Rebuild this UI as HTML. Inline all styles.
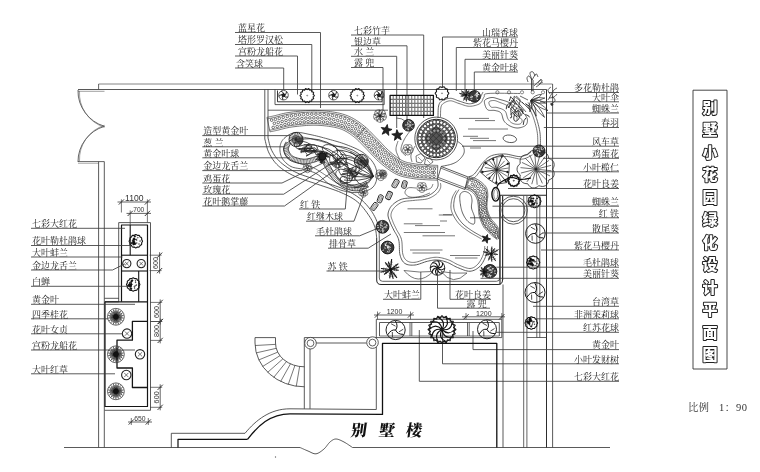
<!DOCTYPE html>
<html><head><meta charset="utf-8"><title>别墅小花园绿化设计平面图</title>
<style>html,body{margin:0;padding:0;background:#fff}svg{display:block;will-change:transform;filter:grayscale(1)}text{white-space:pre}</style></head>
<body><svg width="760" height="472" viewBox="0 0 760 472" stroke-linecap="butt" stroke-linejoin="round">
<rect width="760" height="472" fill="#fff"/>
<line x1="98.6" y1="84" x2="552.6" y2="84" stroke="#777" stroke-width="0.9"/>
<line x1="98.6" y1="84" x2="98.6" y2="89.5" stroke="#3c3c3c" stroke-width="0.8"/>
<line x1="78" y1="89.5" x2="546.5" y2="89.5" stroke="#444" stroke-width="0.9"/>
<line x1="78" y1="91.3" x2="104.5" y2="91.3" stroke="#777" stroke-width="0.7"/>
<path d="M78 90 A37 37 0 0 0 104.5 126.3" fill="none" stroke="#3c3c3c" stroke-width="0.8"/>
<path d="M79.5 91 A36 36 0 0 0 104.5 127.3" fill="none" stroke="#666" stroke-width="0.6"/>
<path d="M78 162 A37 37 0 0 1 104.5 126.3" fill="none" stroke="#3c3c3c" stroke-width="0.8"/>
<path d="M79.5 161 A36 36 0 0 1 104.5 125.3" fill="none" stroke="#666" stroke-width="0.6"/>
<line x1="78" y1="161.6" x2="104.3" y2="161.6" stroke="#3c3c3c" stroke-width="0.8"/>
<line x1="78" y1="163.3" x2="98.6" y2="163.3" stroke="#777" stroke-width="0.6"/>
<line x1="98.6" y1="161.6" x2="98.6" y2="447.5" stroke="#3c3c3c" stroke-width="0.85"/>
<line x1="104.3" y1="161.6" x2="104.3" y2="447.5" stroke="#3c3c3c" stroke-width="0.85"/>
<path d="M64 447.5 L300 447.5" fill="none" stroke="#3c3c3c" stroke-width="0.85"/>
<path d="M300 447.5 L300.62 447.77 L301.44 448.15 L302.41 448.59 L303.5 449.07 L304.65 449.58 L305.81 450.09 L306.95 450.57 L308 451 L309 451.44 L310 451.93 L311 452.44 L312 452.92 L313 453.34 L314 453.65 L315 453.82 L316 453.8 L317.01 453.58 L318.05 453.19 L319.09 452.65 L320.12 452.01 L321.15 451.3 L322.14 450.53 L323.1 449.76 L324 449 L324.85 448.2 L325.64 447.31 L326.4 446.36 L327.12 445.39 L327.84 444.43 L328.55 443.52 L329.26 442.7 L330 442 L330.74 441.39 L331.45 440.83 L332.16 440.32 L332.88 439.88 L333.6 439.51 L334.36 439.23 L335.15 439.06 L336 439 L336.9 439.07 L337.85 439.27 L338.83 439.58 L339.84 439.97 L340.88 440.43 L341.92 440.93 L342.96 441.46 L344 442 L345.1 442.61 L346.29 443.33 L347.52 444.12 L348.75 444.94 L349.91 445.73 L350.96 446.45 L351.84 447.06 L352.5 447.5" fill="none" stroke="#3c3c3c" stroke-width="0.85"/>
<line x1="352.5" y1="447.5" x2="610" y2="447.5" stroke="#3c3c3c" stroke-width="0.85"/>
<circle cx="275.5" cy="457" r="0.4" fill="#555" stroke="#555" stroke-width="0.5"/>
<text x="238" y="31.3" font-size="9" text-anchor="start" font-family='"Liberation Serif","Noto Serif CJK SC",serif' fill="#222" font-weight="400" >蓝星花</text>
<line x1="235" y1="32.5" x2="320.5" y2="32.5" stroke="#3c3c3c" stroke-width="0.85"/>
<line x1="320.5" y1="32.5" x2="320.5" y2="108" stroke="#3c3c3c" stroke-width="0.85"/>
<text x="238" y="43.3" font-size="9" text-anchor="start" font-family='"Liberation Serif","Noto Serif CJK SC",serif' fill="#222" font-weight="400" >塔形罗汉松</text>
<line x1="235" y1="44.5" x2="311.8" y2="44.5" stroke="#3c3c3c" stroke-width="0.85"/>
<line x1="311.8" y1="44.5" x2="311.8" y2="92" stroke="#3c3c3c" stroke-width="0.85"/>
<text x="238" y="54.8" font-size="9" text-anchor="start" font-family='"Liberation Serif","Noto Serif CJK SC",serif' fill="#222" font-weight="400" >宫粉龙船花</text>
<line x1="235" y1="56" x2="297.5" y2="56" stroke="#3c3c3c" stroke-width="0.85"/>
<line x1="297.5" y1="56" x2="297.5" y2="94.5" stroke="#3c3c3c" stroke-width="0.85"/>
<text x="236" y="66.8" font-size="9" text-anchor="start" font-family='"Liberation Serif","Noto Serif CJK SC",serif' fill="#222" font-weight="400" >含笑球</text>
<line x1="235" y1="68" x2="283.7" y2="68" stroke="#3c3c3c" stroke-width="0.85"/>
<line x1="283.7" y1="68" x2="283.7" y2="90" stroke="#3c3c3c" stroke-width="0.85"/>
<text x="354" y="33.8" font-size="9" text-anchor="start" font-family='"Liberation Serif","Noto Serif CJK SC",serif' fill="#222" font-weight="400" >七彩竹芋</text>
<line x1="351" y1="35" x2="423.7" y2="35" stroke="#3c3c3c" stroke-width="0.85"/>
<line x1="423.7" y1="35" x2="423.7" y2="118" stroke="#3c3c3c" stroke-width="0.85"/>
<text x="354" y="44.6" font-size="9" text-anchor="start" font-family='"Liberation Serif","Noto Serif CJK SC",serif' fill="#222" font-weight="400" >银边草</text>
<line x1="351" y1="45.8" x2="407" y2="45.8" stroke="#3c3c3c" stroke-width="0.85"/>
<line x1="407" y1="45.8" x2="407" y2="120" stroke="#3c3c3c" stroke-width="0.85"/>
<text x="354" y="55.1" font-size="9" text-anchor="start" font-family='"Liberation Serif","Noto Serif CJK SC",serif' fill="#222" font-weight="400" >水 兰</text>
<line x1="351" y1="56.3" x2="396.7" y2="56.3" stroke="#3c3c3c" stroke-width="0.85"/>
<line x1="396.7" y1="56.3" x2="396.7" y2="128" stroke="#3c3c3c" stroke-width="0.85"/>
<text x="354" y="66.3" font-size="9" text-anchor="start" font-family='"Liberation Serif","Noto Serif CJK SC",serif' fill="#222" font-weight="400" >露 兜</text>
<line x1="351" y1="67.5" x2="383" y2="67.5" stroke="#3c3c3c" stroke-width="0.85"/>
<line x1="383" y1="67.5" x2="383" y2="110" stroke="#3c3c3c" stroke-width="0.85"/>
<text x="518" y="35.8" font-size="9" text-anchor="end" font-family='"Liberation Serif","Noto Serif CJK SC",serif' fill="#222" font-weight="400" >山瑞香球</text>
<line x1="442.5" y1="37" x2="518" y2="37" stroke="#3c3c3c" stroke-width="0.85"/>
<line x1="442.5" y1="37" x2="442.5" y2="87" stroke="#3c3c3c" stroke-width="0.85"/>
<text x="518" y="46.3" font-size="9" text-anchor="end" font-family='"Liberation Serif","Noto Serif CJK SC",serif' fill="#222" font-weight="400" >紫花马樱丹</text>
<line x1="456.3" y1="47.5" x2="518" y2="47.5" stroke="#3c3c3c" stroke-width="0.85"/>
<line x1="456.3" y1="47.5" x2="456.3" y2="91" stroke="#3c3c3c" stroke-width="0.85"/>
<text x="518" y="58.1" font-size="9" text-anchor="end" font-family='"Liberation Serif","Noto Serif CJK SC",serif' fill="#222" font-weight="400" >美丽针葵</text>
<line x1="465" y1="59.3" x2="518" y2="59.3" stroke="#3c3c3c" stroke-width="0.85"/>
<line x1="465" y1="59.3" x2="465" y2="95" stroke="#3c3c3c" stroke-width="0.85"/>
<text x="518" y="70.8" font-size="9" text-anchor="end" font-family='"Liberation Serif","Noto Serif CJK SC",serif' fill="#222" font-weight="400" >黄金叶球</text>
<line x1="474.3" y1="72" x2="518" y2="72" stroke="#3c3c3c" stroke-width="0.85"/>
<line x1="474.3" y1="72" x2="474.3" y2="95" stroke="#3c3c3c" stroke-width="0.85"/>
<line x1="264.8" y1="89.5" x2="264.8" y2="139" stroke="#3c3c3c" stroke-width="0.85"/>
<line x1="268" y1="89.5" x2="268" y2="138" stroke="#3c3c3c" stroke-width="0.85"/>
<path d="M264.8 139 L265.09 140.09 L265.44 141.54 L265.84 143.28 L266.32 145.2 L266.87 147.22 L267.49 149.26 L268.2 151.21 L269 153 L269.87 154.67 L270.8 156.34 L271.81 157.99 L272.89 159.62 L274.08 161.23 L275.36 162.8 L276.77 164.32 L278.3 165.8 L279.95 167.23 L281.72 168.62 L283.59 169.97 L285.58 171.29 L287.67 172.57 L289.87 173.81 L292.18 175.02 L294.6 176.2 L297.18 177.33 L299.93 178.4 L302.82 179.44 L305.81 180.44 L308.85 181.42 L311.91 182.4 L314.94 183.39 L317.9 184.4 L320.86 185.42 L323.89 186.42 L326.95 187.43 L329.99 188.43 L332.98 189.44 L335.87 190.47 L338.62 191.52 L341.2 192.6 L343.6 193.68 L345.88 194.74 L348.03 195.8 L350.08 196.89 L352.04 198.03 L353.92 199.23 L355.74 200.51 L357.5 201.9 L359.21 203.43 L360.86 205.1 L362.44 206.87 L363.95 208.7 L365.37 210.55 L366.71 212.37 L367.95 214.14 L369.1 215.8 L370.14 217.38 L371.07 218.91 L371.91 220.4 L372.67 221.86 L373.35 223.3 L373.95 224.71 L374.5 226.11 L375 227.5 L375.43 228.94 L375.76 230.46 L376.02 231.99 L376.22 233.48 L376.37 234.88 L376.49 236.14 L376.6 237.2 L376.7 238" fill="none" stroke="#3c3c3c" stroke-width="0.85"/>
<path d="M268 138 L268.26 138.98 L268.57 140.29 L268.93 141.84 L269.35 143.57 L269.84 145.39 L270.41 147.22 L271.06 148.98 L271.8 150.6 L272.61 152.11 L273.47 153.62 L274.4 155.11 L275.42 156.58 L276.53 158.04 L277.76 159.48 L279.11 160.9 L280.6 162.3 L282.23 163.69 L283.98 165.07 L285.86 166.43 L287.84 167.78 L289.95 169.09 L292.16 170.37 L294.48 171.61 L296.9 172.8 L299.48 173.93 L302.23 174.99 L305.12 176.01 L308.11 177 L311.15 177.97 L314.21 178.93 L317.24 179.9 L320.2 180.9 L323.16 181.9 L326.19 182.89 L329.25 183.88 L332.29 184.87 L335.28 185.87 L338.17 186.88 L340.92 187.93 L343.5 189 L345.9 190.09 L348.18 191.18 L350.33 192.28 L352.38 193.41 L354.33 194.57 L356.21 195.78 L358.03 197.05 L359.8 198.4 L361.52 199.83 L363.17 201.33 L364.74 202.9 L366.25 204.51 L367.68 206.16 L369.03 207.84 L370.31 209.52 L371.5 211.2 L372.62 212.9 L373.66 214.64 L374.62 216.41 L375.51 218.2 L376.32 219.99 L377.04 221.76 L377.66 223.5 L378.2 225.2 L378.61 226.94 L378.89 228.78 L379.07 230.65 L379.17 232.47 L379.21 234.19 L379.23 235.73 L379.25 237.02 L379.3 238" fill="none" stroke="#3c3c3c" stroke-width="0.85"/>
<path d="M376.7 238 L376.7 280 Q376.7 284.5 381 284.5 L498 284.5 Q502.5 284.5 502.5 280 L502.5 196" fill="none" stroke="#222" stroke-width="1.0"/>
<path d="M379.3 238 L379.3 278 Q379.3 281.3 382.5 281.3 L496.5 281.3 Q499.8 281.3 499.8 278 L499.8 196" fill="none" stroke="#3c3c3c" stroke-width="0.8"/>
<line x1="546.5" y1="89.5" x2="546.5" y2="447.5" stroke="#222" stroke-width="0.95"/>
<line x1="552.6" y1="84" x2="552.6" y2="447.5" stroke="#3c3c3c" stroke-width="0.85"/>
<path d="M275 89.5 L275 104.6 L384.2 104.6 L384.2 89.5" fill="none" stroke="#3c3c3c" stroke-width="0.85"/>
<path d="M277.5 90.5 L277.5 101.8 L382 101.8 L382 90.5" fill="none" stroke="#222" stroke-width="0.9"/>
<line x1="268" y1="110.2" x2="388" y2="110.2" stroke="#3c3c3c" stroke-width="0.8"/>
<circle cx="283.5" cy="95.2" r="4.8" fill="none" stroke="#3c3c3c" stroke-width="0.8"/>
<path d="M283.5 95.2 Q284.27 97.98 287.92 97.07" fill="none" stroke="#111" stroke-width="0.9"/>
<path d="M283.5 95.2 Q281.1 96.79 283.09 99.98" fill="none" stroke="#111" stroke-width="0.9"/>
<path d="M283.5 95.2 Q281.25 93.41 278.82 96.29" fill="none" stroke="#111" stroke-width="0.9"/>
<path d="M283.5 95.2 Q284.51 92.5 281.02 91.09" fill="none" stroke="#111" stroke-width="0.9"/>
<path d="M283.5 95.2 Q286.38 95.32 286.64 91.57" fill="none" stroke="#111" stroke-width="0.9"/>
<circle cx="283.5" cy="95.2" r="1.68" fill="#222" stroke="#111" stroke-width="0.5"/>
<path d="M314.39 95.6 L313.76 96.34 L313.06 96.94 L313.43 97.78 L313.68 98.72 L312.79 99.11 L311.9 99.34 L311.87 100.27 L311.69 101.22 L310.71 101.19 L309.81 101.01 L309.38 101.83 L308.8 102.61 L307.94 102.16 L307.2 101.61 L306.46 102.16 L305.6 102.61 L305.02 101.83 L304.59 101.01 L303.69 101.19 L302.71 101.22 L302.53 100.27 L302.5 99.34 L301.61 99.11 L300.72 98.72 L300.97 97.78 L301.34 96.94 L300.64 96.34 L300.01 95.6 L300.64 94.86 L301.34 94.26 L300.97 93.42 L300.72 92.48 L301.61 92.09 L302.5 91.86 L302.53 90.93 L302.71 89.98 L303.69 90.01 L304.59 90.19 L305.02 89.37 L305.6 88.59 L306.46 89.04 L307.2 89.59 L307.94 89.04 L308.8 88.59 L309.38 89.37 L309.81 90.19 L310.71 90.01 L311.69 89.98 L311.87 90.93 L311.9 91.86 L312.79 92.09 L313.68 92.48 L313.43 93.42 L313.06 94.26 L313.76 94.86 Z" fill="none" stroke="#1a1a1a" stroke-width="1.1"/>
<circle cx="307.2" cy="95.6" r="0.5" fill="none" stroke="#333" stroke-width="0.5"/>
<circle cx="333.5" cy="95.2" r="4.8" fill="none" stroke="#3c3c3c" stroke-width="0.8"/>
<path d="M333.5 95.2 Q334.27 97.98 337.92 97.07" fill="none" stroke="#111" stroke-width="0.9"/>
<path d="M333.5 95.2 Q331.1 96.79 333.09 99.98" fill="none" stroke="#111" stroke-width="0.9"/>
<path d="M333.5 95.2 Q331.25 93.41 328.82 96.29" fill="none" stroke="#111" stroke-width="0.9"/>
<path d="M333.5 95.2 Q334.51 92.5 331.02 91.09" fill="none" stroke="#111" stroke-width="0.9"/>
<path d="M333.5 95.2 Q336.38 95.32 336.64 91.57" fill="none" stroke="#111" stroke-width="0.9"/>
<circle cx="333.5" cy="95.2" r="1.68" fill="#222" stroke="#111" stroke-width="0.5"/>
<path d="M364.49 95.6 L363.86 96.34 L363.16 96.94 L363.53 97.78 L363.78 98.72 L362.89 99.11 L362 99.34 L361.97 100.27 L361.79 101.22 L360.81 101.19 L359.91 101.01 L359.48 101.83 L358.9 102.61 L358.04 102.16 L357.3 101.61 L356.56 102.16 L355.7 102.61 L355.12 101.83 L354.69 101.01 L353.79 101.19 L352.81 101.22 L352.63 100.27 L352.6 99.34 L351.71 99.11 L350.82 98.72 L351.07 97.78 L351.44 96.94 L350.74 96.34 L350.11 95.6 L350.74 94.86 L351.44 94.26 L351.07 93.42 L350.82 92.48 L351.71 92.09 L352.6 91.86 L352.63 90.93 L352.81 89.98 L353.79 90.01 L354.69 90.19 L355.12 89.37 L355.7 88.59 L356.56 89.04 L357.3 89.59 L358.04 89.04 L358.9 88.59 L359.48 89.37 L359.91 90.19 L360.81 90.01 L361.79 89.98 L361.97 90.93 L362 91.86 L362.89 92.09 L363.78 92.48 L363.53 93.42 L363.16 94.26 L363.86 94.86 Z" fill="none" stroke="#1a1a1a" stroke-width="1.1"/>
<circle cx="357.3" cy="95.6" r="0.5" fill="none" stroke="#333" stroke-width="0.5"/>
<circle cx="379" cy="95.2" r="4.8" fill="none" stroke="#3c3c3c" stroke-width="0.8"/>
<path d="M379 95.2 Q379.77 97.98 383.42 97.07" fill="none" stroke="#111" stroke-width="0.9"/>
<path d="M379 95.2 Q376.6 96.79 378.59 99.98" fill="none" stroke="#111" stroke-width="0.9"/>
<path d="M379 95.2 Q376.75 93.41 374.32 96.29" fill="none" stroke="#111" stroke-width="0.9"/>
<path d="M379 95.2 Q380.01 92.5 376.52 91.09" fill="none" stroke="#111" stroke-width="0.9"/>
<path d="M379 95.2 Q381.88 95.32 382.14 91.57" fill="none" stroke="#111" stroke-width="0.9"/>
<circle cx="379" cy="95.2" r="1.68" fill="#222" stroke="#111" stroke-width="0.5"/>
<path d="M269.7 130.28 L270.11 130.19 L270.6 130.09 L271.17 129.97 L271.83 129.83 L272.57 129.68 L273.37 129.51 L274.25 129.32 L275.19 129.12 L276.2 128.9 L277.3 128.65 L278.5 128.37 L279.72 128.05 L280.95 127.72 L282.2 127.38 L283.48 127.04 L284.8 126.71 L286.19 126.39 L287.64 126.08 L289.17 125.8 L290.83 125.54 L292.71 125.29 L294.78 125.02 L296.99 124.76 L299.3 124.5 L301.67 124.27 L304.06 124.06 L306.43 123.88 L308.75 123.74 L310.96 123.64 L313.05 123.6 L315.06 123.61 L317.08 123.66 L319.09 123.75 L321.08 123.88 L323.04 124.04 L324.95 124.24 L326.82 124.45 L328.63 124.69 L330.37 124.95 L332.03 125.22 L333.58 125.5 L335.03 125.78 L336.38 126.08 L337.65 126.39 L338.86 126.72 L340.01 127.07 L341.14 127.45 L342.27 127.88 L343.4 128.34 L344.55 128.85 L345.68 129.41 L346.81 130.01 L347.93 130.65 L349.05 131.34 L350.18 132.08 L351.31 132.85 L352.44 133.66 L353.57 134.52 L354.71 135.4 L355.83 136.29 L356.9 137.18 L357.92 138.09 L358.95 139.05 L359.99 140.06 L361.05 141.12 L362.13 142.22 L363.25 143.38 L364.41 144.58 L365.63 145.82 L366.88 147.08 L368.12 148.34 L369.39 149.67 L370.71 151.07 L372.07 152.53 L373.47 154.02 L374.91 155.54 L376.39 157.05 L377.9 158.54 L379.45 160 L381 161.38 L382.51 162.67 L384.03 163.93 L385.58 165.18 L387.16 166.42 L388.76 167.62 L390.39 168.79 L392.05 169.9 L393.73 170.95 L395.44 171.93 L397.2 172.83 L398.99 173.63 L400.79 174.3 L402.56 174.87 L404.29 175.33 L405.98 175.72 L407.61 176.04 L409.19 176.32 L410.71 176.56 L412.15 176.79 L413.59 177.03 L415.12 177.26 L416.69 177.46 L418.24 177.62 L419.75 177.74 L421.22 177.84 L422.64 177.93 L424 178 L425.29 178.06 L426.5 178.12 L427.65 178.19 L428.83 178.26 L430.02 178.32 L431.19 178.38 L432.32 178.43 L433.39 178.47 L434.38 178.5 L435.29 178.53 L436.08 178.55 L436.75 178.58 L437.28 178.6" fill="none" stroke="#3c3c3c" stroke-width="0.7"/>
<path d="M267.3 118.92 L267.73 118.84 L268.23 118.73 L268.81 118.61 L269.46 118.47 L270.18 118.32 L270.97 118.16 L271.82 117.98 L272.73 117.78 L273.71 117.57 L274.7 117.35 L275.7 117.11 L276.76 116.84 L277.92 116.52 L279.2 116.18 L280.58 115.81 L282.08 115.43 L283.68 115.06 L285.4 114.7 L287.24 114.36 L289.17 114.06 L291.19 113.78 L293.36 113.51 L295.67 113.23 L298.09 112.97 L300.58 112.72 L303.11 112.5 L305.64 112.3 L308.15 112.15 L310.6 112.05 L312.95 112 L315.24 112.01 L317.5 112.07 L319.73 112.17 L321.93 112.31 L324.09 112.49 L326.2 112.7 L328.25 112.94 L330.23 113.2 L332.14 113.48 L333.97 113.78 L335.72 114.09 L337.39 114.42 L338.99 114.77 L340.56 115.16 L342.08 115.57 L343.58 116.03 L345.05 116.53 L346.52 117.08 L347.98 117.68 L349.45 118.35 L350.95 119.07 L352.42 119.85 L353.85 120.68 L355.26 121.54 L356.63 122.44 L357.98 123.36 L359.3 124.32 L360.6 125.29 L361.88 126.28 L363.17 127.31 L364.46 128.39 L365.73 129.51 L366.95 130.65 L368.13 131.8 L369.29 132.96 L370.44 134.13 L371.58 135.3 L372.73 136.49 L373.89 137.68 L375.12 138.92 L376.44 140.26 L377.8 141.68 L379.17 143.13 L380.53 144.6 L381.9 146.05 L383.27 147.48 L384.62 148.87 L385.96 150.2 L387.28 151.45 L388.6 152.62 L389.98 153.79 L391.39 154.96 L392.8 156.11 L394.21 157.21 L395.61 158.26 L397 159.25 L398.36 160.17 L399.69 161 L400.98 161.74 L402.2 162.37 L403.39 162.89 L404.58 163.34 L405.82 163.73 L407.09 164.07 L408.4 164.37 L409.74 164.64 L411.13 164.88 L412.54 165.11 L414 165.34 L415.41 165.57 L416.72 165.77 L418 165.93 L419.31 166.07 L420.62 166.18 L421.95 166.27 L423.27 166.34 L424.57 166.41 L425.87 166.47 L427.14 166.54 L428.35 166.61 L429.48 166.68 L430.6 166.74 L431.7 166.79 L432.77 166.83 L433.8 166.87 L434.77 166.91 L435.66 166.93 L436.46 166.96 L437.16 166.98 L437.72 167" fill="none" stroke="#3c3c3c" stroke-width="0.7"/>
<path d="M270.03 131.84 L270.44 131.75 L270.92 131.65 L271.5 131.53 L272.16 131.4 L272.9 131.24 L273.71 131.07 L274.59 130.88 L275.53 130.68 L276.54 130.46 L277.66 130.21 L278.88 129.92 L280.13 129.6 L281.37 129.26 L282.62 128.93 L283.88 128.59 L285.18 128.26 L286.53 127.95 L287.95 127.65 L289.44 127.37 L291.06 127.12 L292.91 126.87 L294.98 126.61 L297.17 126.35 L299.47 126.1 L301.82 125.86 L304.19 125.65 L306.54 125.47 L308.83 125.33 L311.01 125.24 L313.06 125.2 L315.04 125.21 L317.02 125.26 L319 125.35 L320.96 125.48 L322.89 125.64 L324.78 125.83 L326.63 126.04 L328.41 126.28 L330.12 126.53 L331.76 126.79 L333.29 127.07 L334.71 127.35 L336.02 127.63 L337.25 127.93 L338.41 128.25 L339.52 128.59 L340.6 128.96 L341.68 129.36 L342.77 129.81 L343.87 130.3 L344.96 130.84 L346.03 131.41 L347.11 132.03 L348.2 132.69 L349.29 133.4 L350.39 134.16 L351.49 134.95 L352.6 135.79 L353.72 136.66 L354.82 137.53 L355.85 138.39 L356.85 139.28 L357.85 140.21 L358.87 141.2 L359.91 142.24 L360.98 143.34 L362.1 144.49 L363.27 145.69 L364.49 146.95 L365.74 148.2 L366.97 149.45 L368.23 150.77 L369.54 152.16 L370.9 153.62 L372.31 155.12 L373.76 156.65 L375.26 158.18 L376.79 159.69 L378.37 161.18 L379.95 162.59 L381.48 163.89 L383.02 165.17 L384.58 166.44 L386.18 167.69 L387.81 168.91 L389.48 170.1 L391.17 171.24 L392.91 172.32 L394.68 173.34 L396.51 174.28 L398.39 175.11 L400.27 175.82 L402.11 176.4 L403.91 176.88 L405.65 177.28 L407.32 177.61 L408.92 177.89 L410.45 178.14 L411.9 178.37 L413.34 178.61 L414.9 178.85 L416.51 179.05 L418.09 179.21 L419.63 179.34 L421.12 179.44 L422.55 179.52 L423.92 179.59 L425.21 179.66 L426.41 179.72 L427.56 179.79 L428.73 179.86 L429.94 179.92 L431.12 179.98 L432.25 180.02 L433.33 180.06 L434.33 180.1 L435.24 180.13 L436.03 180.15 L436.69 180.17 L437.22 180.19" fill="none" stroke="#3c3c3c" stroke-width="0.7"/>
<path d="M266.97 117.36 L267.4 117.27 L267.91 117.16 L268.49 117.04 L269.14 116.91 L269.85 116.76 L270.64 116.59 L271.49 116.41 L272.39 116.22 L273.36 116 L274.34 115.79 L275.31 115.56 L276.35 115.29 L277.51 114.98 L278.78 114.63 L280.18 114.26 L281.7 113.88 L283.33 113.5 L285.09 113.13 L286.97 112.78 L288.94 112.48 L290.98 112.2 L293.17 111.92 L295.49 111.64 L297.93 111.38 L300.43 111.13 L302.98 110.9 L305.53 110.71 L308.07 110.55 L310.55 110.45 L312.94 110.4 L315.26 110.41 L317.55 110.47 L319.82 110.57 L322.05 110.72 L324.23 110.9 L326.37 111.11 L328.45 111.35 L330.45 111.62 L332.39 111.9 L334.24 112.21 L336.01 112.52 L337.71 112.85 L339.36 113.21 L340.96 113.61 L342.53 114.04 L344.07 114.51 L345.59 115.03 L347.11 115.59 L348.61 116.21 L350.13 116.9 L351.67 117.65 L353.19 118.45 L354.67 119.3 L356.11 120.19 L357.52 121.11 L358.9 122.06 L360.25 123.03 L361.57 124.02 L362.87 125.02 L364.18 126.07 L365.51 127.18 L366.81 128.33 L368.05 129.49 L369.26 130.66 L370.43 131.83 L371.58 133.01 L372.73 134.19 L373.87 135.37 L375.03 136.56 L376.26 137.8 L377.59 139.15 L378.97 140.58 L380.33 142.04 L381.7 143.5 L383.06 144.95 L384.42 146.37 L385.76 147.75 L387.08 149.05 L388.36 150.27 L389.65 151.41 L391.01 152.57 L392.41 153.73 L393.8 154.86 L395.19 155.94 L396.56 156.97 L397.91 157.94 L399.23 158.83 L400.51 159.63 L401.74 160.33 L402.89 160.92 L403.99 161.41 L405.11 161.83 L406.27 162.2 L407.47 162.52 L408.73 162.81 L410.04 163.06 L411.39 163.3 L412.8 163.53 L414.25 163.76 L415.66 163.99 L416.94 164.19 L418.18 164.35 L419.45 164.47 L420.75 164.58 L422.05 164.67 L423.35 164.75 L424.65 164.81 L425.95 164.88 L427.23 164.94 L428.44 165.01 L429.57 165.08 L430.68 165.14 L431.77 165.19 L432.84 165.24 L433.86 165.27 L434.82 165.31 L435.71 165.34 L436.51 165.36 L437.21 165.38 L437.78 165.41" fill="none" stroke="#3c3c3c" stroke-width="0.7"/>
<line x1="270.03" y1="131.84" x2="266.97" y2="117.36" stroke="#3c3c3c" stroke-width="0.7"/>
<line x1="437.22" y1="180.19" x2="437.78" y2="165.41" stroke="#3c3c3c" stroke-width="0.7"/>
<circle cx="271.64" cy="120.16" r="1.3" fill="none" stroke="#333" stroke-width="0.7"/>
<circle cx="275.46" cy="119.33" r="1.3" fill="none" stroke="#333" stroke-width="0.7"/>
<circle cx="279.27" cy="118.33" r="1.3" fill="none" stroke="#333" stroke-width="0.7"/>
<circle cx="283.24" cy="117.32" r="1.3" fill="none" stroke="#333" stroke-width="0.7"/>
<circle cx="287.34" cy="116.48" r="1.3" fill="none" stroke="#333" stroke-width="0.7"/>
<circle cx="291.45" cy="115.87" r="1.3" fill="none" stroke="#333" stroke-width="0.7"/>
<circle cx="295.49" cy="115.37" r="1.3" fill="none" stroke="#333" stroke-width="0.7"/>
<circle cx="299.52" cy="114.94" r="1.3" fill="none" stroke="#333" stroke-width="0.7"/>
<circle cx="303.58" cy="114.57" r="1.3" fill="none" stroke="#333" stroke-width="0.7"/>
<circle cx="307.66" cy="114.28" r="1.3" fill="none" stroke="#333" stroke-width="0.7"/>
<circle cx="311.79" cy="114.12" r="1.3" fill="none" stroke="#333" stroke-width="0.7"/>
<circle cx="315.94" cy="114.13" r="1.3" fill="none" stroke="#333" stroke-width="0.7"/>
<circle cx="320.07" cy="114.3" r="1.3" fill="none" stroke="#333" stroke-width="0.7"/>
<circle cx="324.19" cy="114.61" r="1.3" fill="none" stroke="#333" stroke-width="0.7"/>
<circle cx="328.28" cy="115.06" r="1.3" fill="none" stroke="#333" stroke-width="0.7"/>
<circle cx="332.37" cy="115.65" r="1.3" fill="none" stroke="#333" stroke-width="0.7"/>
<circle cx="336.46" cy="116.38" r="1.3" fill="none" stroke="#333" stroke-width="0.7"/>
<circle cx="340.59" cy="117.34" r="1.3" fill="none" stroke="#333" stroke-width="0.7"/>
<circle cx="344.7" cy="118.64" r="1.3" fill="none" stroke="#333" stroke-width="0.7"/>
<circle cx="348.69" cy="120.31" r="1.3" fill="none" stroke="#333" stroke-width="0.7"/>
<circle cx="352.51" cy="122.33" r="1.3" fill="none" stroke="#333" stroke-width="0.7"/>
<circle cx="356.1" cy="124.62" r="1.3" fill="none" stroke="#333" stroke-width="0.7"/>
<circle cx="359.5" cy="127.09" r="1.3" fill="none" stroke="#333" stroke-width="0.7"/>
<circle cx="362.78" cy="129.72" r="1.3" fill="none" stroke="#333" stroke-width="0.7"/>
<circle cx="365.89" cy="132.54" r="1.3" fill="none" stroke="#333" stroke-width="0.7"/>
<circle cx="368.8" cy="135.45" r="1.3" fill="none" stroke="#333" stroke-width="0.7"/>
<circle cx="371.59" cy="138.33" r="1.3" fill="none" stroke="#333" stroke-width="0.7"/>
<circle cx="374.41" cy="141.19" r="1.3" fill="none" stroke="#333" stroke-width="0.7"/>
<circle cx="377.21" cy="144.12" r="1.3" fill="none" stroke="#333" stroke-width="0.7"/>
<circle cx="379.94" cy="147.03" r="1.3" fill="none" stroke="#333" stroke-width="0.7"/>
<circle cx="382.65" cy="149.86" r="1.3" fill="none" stroke="#333" stroke-width="0.7"/>
<circle cx="385.4" cy="152.56" r="1.3" fill="none" stroke="#333" stroke-width="0.7"/>
<circle cx="388.28" cy="155.1" r="1.3" fill="none" stroke="#333" stroke-width="0.7"/>
<circle cx="391.27" cy="157.57" r="1.3" fill="none" stroke="#333" stroke-width="0.7"/>
<circle cx="394.31" cy="159.91" r="1.3" fill="none" stroke="#333" stroke-width="0.7"/>
<circle cx="397.4" cy="162.05" r="1.3" fill="none" stroke="#333" stroke-width="0.7"/>
<circle cx="400.55" cy="163.88" r="1.3" fill="none" stroke="#333" stroke-width="0.7"/>
<circle cx="403.79" cy="165.29" r="1.3" fill="none" stroke="#333" stroke-width="0.7"/>
<circle cx="407.25" cy="166.26" r="1.3" fill="none" stroke="#333" stroke-width="0.7"/>
<circle cx="410.96" cy="166.98" r="1.3" fill="none" stroke="#333" stroke-width="0.7"/>
<circle cx="414.8" cy="167.6" r="1.3" fill="none" stroke="#333" stroke-width="0.7"/>
<circle cx="418.61" cy="168.11" r="1.3" fill="none" stroke="#333" stroke-width="0.7"/>
<circle cx="422.45" cy="168.4" r="1.3" fill="none" stroke="#333" stroke-width="0.7"/>
<circle cx="426.41" cy="168.6" r="1.3" fill="none" stroke="#333" stroke-width="0.7"/>
<circle cx="430.39" cy="168.83" r="1.3" fill="none" stroke="#333" stroke-width="0.7"/>
<circle cx="434.35" cy="168.99" r="1.3" fill="none" stroke="#333" stroke-width="0.7"/>
<circle cx="274.37" cy="123.35" r="1.3" fill="none" stroke="#333" stroke-width="0.7"/>
<circle cx="278.26" cy="122.42" r="1.3" fill="none" stroke="#333" stroke-width="0.7"/>
<circle cx="282.13" cy="121.42" r="1.3" fill="none" stroke="#333" stroke-width="0.7"/>
<circle cx="286.03" cy="120.52" r="1.3" fill="none" stroke="#333" stroke-width="0.7"/>
<circle cx="289.96" cy="119.83" r="1.3" fill="none" stroke="#333" stroke-width="0.7"/>
<circle cx="293.93" cy="119.29" r="1.3" fill="none" stroke="#333" stroke-width="0.7"/>
<circle cx="297.9" cy="118.83" r="1.3" fill="none" stroke="#333" stroke-width="0.7"/>
<circle cx="301.88" cy="118.44" r="1.3" fill="none" stroke="#333" stroke-width="0.7"/>
<circle cx="305.87" cy="118.12" r="1.3" fill="none" stroke="#333" stroke-width="0.7"/>
<circle cx="309.86" cy="117.9" r="1.3" fill="none" stroke="#333" stroke-width="0.7"/>
<circle cx="313.86" cy="117.83" r="1.3" fill="none" stroke="#333" stroke-width="0.7"/>
<circle cx="317.86" cy="117.91" r="1.3" fill="none" stroke="#333" stroke-width="0.7"/>
<circle cx="321.85" cy="118.14" r="1.3" fill="none" stroke="#333" stroke-width="0.7"/>
<circle cx="325.83" cy="118.52" r="1.3" fill="none" stroke="#333" stroke-width="0.7"/>
<circle cx="329.8" cy="119.02" r="1.3" fill="none" stroke="#333" stroke-width="0.7"/>
<circle cx="333.75" cy="119.65" r="1.3" fill="none" stroke="#333" stroke-width="0.7"/>
<circle cx="337.66" cy="120.46" r="1.3" fill="none" stroke="#333" stroke-width="0.7"/>
<circle cx="341.52" cy="121.51" r="1.3" fill="none" stroke="#333" stroke-width="0.7"/>
<circle cx="345.27" cy="122.89" r="1.3" fill="none" stroke="#333" stroke-width="0.7"/>
<circle cx="348.88" cy="124.59" r="1.3" fill="none" stroke="#333" stroke-width="0.7"/>
<circle cx="352.33" cy="126.6" r="1.3" fill="none" stroke="#333" stroke-width="0.7"/>
<circle cx="355.64" cy="128.85" r="1.3" fill="none" stroke="#333" stroke-width="0.7"/>
<circle cx="358.81" cy="131.28" r="1.3" fill="none" stroke="#333" stroke-width="0.7"/>
<circle cx="361.85" cy="133.88" r="1.3" fill="none" stroke="#333" stroke-width="0.7"/>
<circle cx="364.75" cy="136.64" r="1.3" fill="none" stroke="#333" stroke-width="0.7"/>
<circle cx="367.55" cy="139.48" r="1.3" fill="none" stroke="#333" stroke-width="0.7"/>
<circle cx="370.35" cy="142.34" r="1.3" fill="none" stroke="#333" stroke-width="0.7"/>
<circle cx="373.14" cy="145.21" r="1.3" fill="none" stroke="#333" stroke-width="0.7"/>
<circle cx="375.89" cy="148.12" r="1.3" fill="none" stroke="#333" stroke-width="0.7"/>
<circle cx="378.64" cy="151.02" r="1.3" fill="none" stroke="#333" stroke-width="0.7"/>
<circle cx="381.45" cy="153.87" r="1.3" fill="none" stroke="#333" stroke-width="0.7"/>
<circle cx="384.38" cy="156.59" r="1.3" fill="none" stroke="#333" stroke-width="0.7"/>
<circle cx="387.42" cy="159.19" r="1.3" fill="none" stroke="#333" stroke-width="0.7"/>
<circle cx="390.54" cy="161.68" r="1.3" fill="none" stroke="#333" stroke-width="0.7"/>
<circle cx="393.78" cy="164.04" r="1.3" fill="none" stroke="#333" stroke-width="0.7"/>
<circle cx="397.15" cy="166.17" r="1.3" fill="none" stroke="#333" stroke-width="0.7"/>
<circle cx="400.71" cy="167.97" r="1.3" fill="none" stroke="#333" stroke-width="0.7"/>
<circle cx="404.47" cy="169.32" r="1.3" fill="none" stroke="#333" stroke-width="0.7"/>
<circle cx="408.35" cy="170.24" r="1.3" fill="none" stroke="#333" stroke-width="0.7"/>
<circle cx="412.29" cy="170.94" r="1.3" fill="none" stroke="#333" stroke-width="0.7"/>
<circle cx="416.25" cy="171.52" r="1.3" fill="none" stroke="#333" stroke-width="0.7"/>
<circle cx="420.22" cy="171.94" r="1.3" fill="none" stroke="#333" stroke-width="0.7"/>
<circle cx="424.21" cy="172.2" r="1.3" fill="none" stroke="#333" stroke-width="0.7"/>
<circle cx="428.21" cy="172.41" r="1.3" fill="none" stroke="#333" stroke-width="0.7"/>
<circle cx="432.2" cy="172.61" r="1.3" fill="none" stroke="#333" stroke-width="0.7"/>
<circle cx="434.2" cy="172.69" r="1.3" fill="none" stroke="#333" stroke-width="0.7"/>
<circle cx="273.19" cy="127.4" r="1.3" fill="none" stroke="#333" stroke-width="0.7"/>
<circle cx="277.18" cy="126.52" r="1.3" fill="none" stroke="#333" stroke-width="0.7"/>
<circle cx="281.12" cy="125.5" r="1.3" fill="none" stroke="#333" stroke-width="0.7"/>
<circle cx="284.9" cy="124.53" r="1.3" fill="none" stroke="#333" stroke-width="0.7"/>
<circle cx="288.63" cy="123.76" r="1.3" fill="none" stroke="#333" stroke-width="0.7"/>
<circle cx="292.44" cy="123.2" r="1.3" fill="none" stroke="#333" stroke-width="0.7"/>
<circle cx="296.34" cy="122.72" r="1.3" fill="none" stroke="#333" stroke-width="0.7"/>
<circle cx="300.25" cy="122.3" r="1.3" fill="none" stroke="#333" stroke-width="0.7"/>
<circle cx="304.17" cy="121.94" r="1.3" fill="none" stroke="#333" stroke-width="0.7"/>
<circle cx="308.06" cy="121.67" r="1.3" fill="none" stroke="#333" stroke-width="0.7"/>
<circle cx="311.93" cy="121.52" r="1.3" fill="none" stroke="#333" stroke-width="0.7"/>
<circle cx="315.78" cy="121.53" r="1.3" fill="none" stroke="#333" stroke-width="0.7"/>
<circle cx="319.64" cy="121.69" r="1.3" fill="none" stroke="#333" stroke-width="0.7"/>
<circle cx="323.5" cy="121.98" r="1.3" fill="none" stroke="#333" stroke-width="0.7"/>
<circle cx="327.35" cy="122.41" r="1.3" fill="none" stroke="#333" stroke-width="0.7"/>
<circle cx="331.19" cy="122.95" r="1.3" fill="none" stroke="#333" stroke-width="0.7"/>
<circle cx="334.97" cy="123.63" r="1.3" fill="none" stroke="#333" stroke-width="0.7"/>
<circle cx="338.63" cy="124.48" r="1.3" fill="none" stroke="#333" stroke-width="0.7"/>
<circle cx="342.15" cy="125.59" r="1.3" fill="none" stroke="#333" stroke-width="0.7"/>
<circle cx="345.53" cy="127" r="1.3" fill="none" stroke="#333" stroke-width="0.7"/>
<circle cx="348.79" cy="128.72" r="1.3" fill="none" stroke="#333" stroke-width="0.7"/>
<circle cx="351.93" cy="130.73" r="1.3" fill="none" stroke="#333" stroke-width="0.7"/>
<circle cx="355.01" cy="132.97" r="1.3" fill="none" stroke="#333" stroke-width="0.7"/>
<circle cx="357.97" cy="135.34" r="1.3" fill="none" stroke="#333" stroke-width="0.7"/>
<circle cx="360.78" cy="137.9" r="1.3" fill="none" stroke="#333" stroke-width="0.7"/>
<circle cx="363.53" cy="140.65" r="1.3" fill="none" stroke="#333" stroke-width="0.7"/>
<circle cx="366.3" cy="143.51" r="1.3" fill="none" stroke="#333" stroke-width="0.7"/>
<circle cx="369.1" cy="146.35" r="1.3" fill="none" stroke="#333" stroke-width="0.7"/>
<circle cx="371.83" cy="149.2" r="1.3" fill="none" stroke="#333" stroke-width="0.7"/>
<circle cx="374.57" cy="152.12" r="1.3" fill="none" stroke="#333" stroke-width="0.7"/>
<circle cx="377.39" cy="155.07" r="1.3" fill="none" stroke="#333" stroke-width="0.7"/>
<circle cx="380.36" cy="157.97" r="1.3" fill="none" stroke="#333" stroke-width="0.7"/>
<circle cx="383.47" cy="160.73" r="1.3" fill="none" stroke="#333" stroke-width="0.7"/>
<circle cx="386.65" cy="163.35" r="1.3" fill="none" stroke="#333" stroke-width="0.7"/>
<circle cx="389.95" cy="165.89" r="1.3" fill="none" stroke="#333" stroke-width="0.7"/>
<circle cx="393.44" cy="168.3" r="1.3" fill="none" stroke="#333" stroke-width="0.7"/>
<circle cx="397.21" cy="170.48" r="1.3" fill="none" stroke="#333" stroke-width="0.7"/>
<circle cx="401.3" cy="172.25" r="1.3" fill="none" stroke="#333" stroke-width="0.7"/>
<circle cx="405.53" cy="173.46" r="1.3" fill="none" stroke="#333" stroke-width="0.7"/>
<circle cx="409.67" cy="174.27" r="1.3" fill="none" stroke="#333" stroke-width="0.7"/>
<circle cx="413.73" cy="174.92" r="1.3" fill="none" stroke="#333" stroke-width="0.7"/>
<circle cx="417.84" cy="175.47" r="1.3" fill="none" stroke="#333" stroke-width="0.7"/>
<circle cx="421.98" cy="175.79" r="1.3" fill="none" stroke="#333" stroke-width="0.7"/>
<circle cx="426.01" cy="175.99" r="1.3" fill="none" stroke="#333" stroke-width="0.7"/>
<circle cx="430.03" cy="176.22" r="1.3" fill="none" stroke="#333" stroke-width="0.7"/>
<circle cx="434.05" cy="176.39" r="1.3" fill="none" stroke="#333" stroke-width="0.7"/>
<line x1="365.8" y1="127.2" x2="357.5" y2="136.2" stroke="#3c3c3c" stroke-width="0.7"/>
<path d="M280 147 L280.17 145.8 L280.41 144.64 L280.75 143.52 L281.19 142.44 L281.72 141.39 L282.37 140.39 L283.12 139.43 L284 138.5 L285.01 137.58 L286.16 136.64 L287.44 135.72 L288.81 134.84 L290.27 134.05 L291.8 133.38 L293.39 132.85 L295 132.5 L296.66 132.35 L298.4 132.38 L300.2 132.55 L302.06 132.84 L303.98 133.22 L305.95 133.64 L307.95 134.08 L310 134.5 L312.11 134.94 L314.29 135.43 L316.53 135.96 L318.81 136.53 L321.12 137.13 L323.43 137.75 L325.73 138.37 L328 139 L330.26 139.62 L332.52 140.25 L334.79 140.88 L337.06 141.53 L339.32 142.21 L341.57 142.93 L343.8 143.69 L346 144.5 L348.21 145.36 L350.46 146.24 L352.71 147.16 L354.94 148.12 L357.11 149.13 L359.2 150.2 L361.17 151.32 L363 152.5 L364.72 153.76 L366.36 155.09 L367.92 156.49 L369.38 157.94 L370.72 159.42 L371.95 160.94 L373.05 162.47 L374 164 L374.81 165.57 L375.5 167.19 L376.06 168.85 L376.5 170.53 L376.81 172.21 L377 173.86 L377.06 175.46 L377 177 L376.82 178.52 L376.52 180.04 L376.11 181.56 L375.56 183.03 L374.89 184.44 L374.07 185.75 L373.11 186.95 L372 188 L370.69 188.92 L369.18 189.73 L367.5 190.45 L365.69 191.06 L363.79 191.57 L361.85 191.98 L359.91 192.29 L358 192.5 L356.08 192.59 L354.07 192.56 L352.01 192.42 L349.94 192.19 L347.87 191.87 L345.84 191.47 L343.87 191.01 L342 190.5 L340.22 189.93 L338.52 189.27 L336.86 188.55 L335.25 187.75 L333.67 186.89 L332.11 185.98 L330.56 185.01 L329 184 L327.46 182.88 L325.95 181.62 L324.47 180.26 L323 178.88 L321.53 177.5 L320.05 176.2 L318.54 175.01 L317 174 L315.42 173.16 L313.82 172.45 L312.2 171.84 L310.56 171.31 L308.92 170.84 L307.27 170.39 L305.63 169.95 L304 169.5 L302.35 169.09 L300.66 168.77 L298.95 168.51 L297.25 168.25 L295.58 167.96 L293.97 167.6 L292.43 167.13 L291 166.5 L289.64 165.72 L288.3 164.82 L287.02 163.83 L285.81 162.75 L284.69 161.61 L283.66 160.43 L282.76 159.22 L282 158 L281.37 156.73 L280.87 155.37 L280.47 153.95 L280.19 152.5 L280 151.05 L279.91 149.63 L279.92 148.27 Z" fill="none" stroke="#3c3c3c" stroke-width="0.8"/>
<path d="M284 148 L284.21 147.05 L284.57 146.15 L285.07 145.29 L285.69 144.47 L286.41 143.68 L287.21 142.93 L288.08 142.2 L289 141.5 L289.96 140.79 L290.98 140.06 L292.08 139.34 L293.25 138.66 L294.52 138.05 L295.89 137.55 L297.38 137.19 L299 137 L300.76 136.99 L302.64 137.14 L304.64 137.42 L306.75 137.81 L308.95 138.29 L311.23 138.83 L313.59 139.41 L316 140 L318.53 140.63 L321.22 141.34 L324.02 142.12 L326.88 142.94 L329.75 143.8 L332.59 144.69 L335.36 145.59 L338 146.5 L340.57 147.41 L343.15 148.32 L345.7 149.26 L348.19 150.22 L350.59 151.21 L352.88 152.25 L355.03 153.35 L357 154.5 L358.81 155.73 L360.5 157.03 L362.06 158.38 L363.5 159.78 L364.81 161.21 L366 162.64 L367.06 164.08 L368 165.5 L368.81 166.94 L369.5 168.42 L370.06 169.93 L370.5 171.44 L370.81 172.92 L371 174.36 L371.06 175.73 L371 177 L370.81 178.21 L370.5 179.38 L370.06 180.5 L369.5 181.56 L368.81 182.56 L368 183.47 L367.06 184.29 L366 185 L364.77 185.62 L363.36 186.16 L361.8 186.63 L360.12 187 L358.37 187.28 L356.58 187.46 L354.78 187.54 L353 187.5 L351.2 187.34 L349.32 187.05 L347.39 186.65 L345.44 186.16 L343.49 185.58 L341.59 184.93 L339.75 184.24 L338 183.5 L336.37 182.69 L334.84 181.79 L333.37 180.81 L331.94 179.78 L330.51 178.71 L329.07 177.63 L327.58 176.55 L326 175.5 L324.35 174.43 L322.64 173.3 L320.9 172.15 L319.12 171 L317.34 169.88 L315.55 168.82 L313.76 167.85 L312 167 L310.23 166.3 L308.43 165.73 L306.62 165.26 L304.81 164.84 L303.03 164.45 L301.29 164.04 L299.61 163.56 L298 163 L296.43 162.37 L294.85 161.71 L293.3 161.03 L291.81 160.31 L290.41 159.56 L289.12 158.76 L287.97 157.91 L287 157 L286.19 156 L285.5 154.9 L284.94 153.73 L284.5 152.53 L284.19 151.32 L284 150.14 L283.94 149.03 Z" fill="none" stroke="#3c3c3c" stroke-width="0.7"/>
<circle cx="296" cy="139.5" r="7" fill="none" stroke="#222" stroke-width="0.9"/>
<line x1="296" y1="139.5" x2="302.97" y2="140.2" stroke="#222" stroke-width="0.6"/>
<line x1="296" y1="139.5" x2="302.49" y2="142.13" stroke="#222" stroke-width="0.6"/>
<line x1="296" y1="139.5" x2="301.48" y2="143.85" stroke="#222" stroke-width="0.6"/>
<line x1="296" y1="139.5" x2="300.03" y2="145.22" stroke="#222" stroke-width="0.6"/>
<line x1="296" y1="139.5" x2="298.26" y2="146.13" stroke="#222" stroke-width="0.6"/>
<line x1="296" y1="139.5" x2="296.3" y2="146.49" stroke="#222" stroke-width="0.6"/>
<line x1="296" y1="139.5" x2="294.32" y2="146.29" stroke="#222" stroke-width="0.6"/>
<line x1="296" y1="139.5" x2="292.47" y2="145.55" stroke="#222" stroke-width="0.6"/>
<line x1="296" y1="139.5" x2="290.91" y2="144.31" stroke="#222" stroke-width="0.6"/>
<line x1="296" y1="139.5" x2="289.76" y2="142.68" stroke="#222" stroke-width="0.6"/>
<line x1="296" y1="139.5" x2="289.12" y2="140.79" stroke="#222" stroke-width="0.6"/>
<line x1="296" y1="139.5" x2="289.03" y2="138.8" stroke="#222" stroke-width="0.6"/>
<line x1="296" y1="139.5" x2="289.51" y2="136.87" stroke="#222" stroke-width="0.6"/>
<line x1="296" y1="139.5" x2="290.52" y2="135.15" stroke="#222" stroke-width="0.6"/>
<line x1="296" y1="139.5" x2="291.97" y2="133.78" stroke="#222" stroke-width="0.6"/>
<line x1="296" y1="139.5" x2="293.74" y2="132.87" stroke="#222" stroke-width="0.6"/>
<line x1="296" y1="139.5" x2="295.7" y2="132.51" stroke="#222" stroke-width="0.6"/>
<line x1="296" y1="139.5" x2="297.68" y2="132.71" stroke="#222" stroke-width="0.6"/>
<line x1="296" y1="139.5" x2="299.53" y2="133.45" stroke="#222" stroke-width="0.6"/>
<line x1="296" y1="139.5" x2="301.09" y2="134.69" stroke="#222" stroke-width="0.6"/>
<line x1="296" y1="139.5" x2="302.24" y2="136.32" stroke="#222" stroke-width="0.6"/>
<line x1="296" y1="139.5" x2="302.88" y2="138.21" stroke="#222" stroke-width="0.6"/>
<circle cx="296" cy="139.5" r="3.85" fill="none" stroke="#222" stroke-width="0.6"/>
<path d="M296 139.5 L302.3 137.4 A7 7 0 0 1 299.5 145.1 Z" fill="#444" stroke="#222" stroke-width="0.5"/>
<circle cx="361.3" cy="161.3" r="7" fill="none" stroke="#222" stroke-width="0.9"/>
<line x1="361.3" y1="161.3" x2="368.27" y2="162" stroke="#222" stroke-width="0.6"/>
<line x1="361.3" y1="161.3" x2="367.79" y2="163.93" stroke="#222" stroke-width="0.6"/>
<line x1="361.3" y1="161.3" x2="366.78" y2="165.65" stroke="#222" stroke-width="0.6"/>
<line x1="361.3" y1="161.3" x2="365.33" y2="167.02" stroke="#222" stroke-width="0.6"/>
<line x1="361.3" y1="161.3" x2="363.56" y2="167.93" stroke="#222" stroke-width="0.6"/>
<line x1="361.3" y1="161.3" x2="361.6" y2="168.29" stroke="#222" stroke-width="0.6"/>
<line x1="361.3" y1="161.3" x2="359.62" y2="168.09" stroke="#222" stroke-width="0.6"/>
<line x1="361.3" y1="161.3" x2="357.77" y2="167.35" stroke="#222" stroke-width="0.6"/>
<line x1="361.3" y1="161.3" x2="356.21" y2="166.11" stroke="#222" stroke-width="0.6"/>
<line x1="361.3" y1="161.3" x2="355.06" y2="164.48" stroke="#222" stroke-width="0.6"/>
<line x1="361.3" y1="161.3" x2="354.42" y2="162.59" stroke="#222" stroke-width="0.6"/>
<line x1="361.3" y1="161.3" x2="354.33" y2="160.6" stroke="#222" stroke-width="0.6"/>
<line x1="361.3" y1="161.3" x2="354.81" y2="158.67" stroke="#222" stroke-width="0.6"/>
<line x1="361.3" y1="161.3" x2="355.82" y2="156.95" stroke="#222" stroke-width="0.6"/>
<line x1="361.3" y1="161.3" x2="357.27" y2="155.58" stroke="#222" stroke-width="0.6"/>
<line x1="361.3" y1="161.3" x2="359.04" y2="154.67" stroke="#222" stroke-width="0.6"/>
<line x1="361.3" y1="161.3" x2="361" y2="154.31" stroke="#222" stroke-width="0.6"/>
<line x1="361.3" y1="161.3" x2="362.98" y2="154.51" stroke="#222" stroke-width="0.6"/>
<line x1="361.3" y1="161.3" x2="364.83" y2="155.25" stroke="#222" stroke-width="0.6"/>
<line x1="361.3" y1="161.3" x2="366.39" y2="156.49" stroke="#222" stroke-width="0.6"/>
<line x1="361.3" y1="161.3" x2="367.54" y2="158.12" stroke="#222" stroke-width="0.6"/>
<line x1="361.3" y1="161.3" x2="368.18" y2="160.01" stroke="#222" stroke-width="0.6"/>
<circle cx="361.3" cy="161.3" r="3.85" fill="none" stroke="#222" stroke-width="0.6"/>
<path d="M361.3 161.3 L367.6 159.2 A7 7 0 0 1 364.8 166.9 Z" fill="#444" stroke="#222" stroke-width="0.5"/>
<path d="M285.76 142.15 L285.59 142.6 L285.3 143.23 L284.9 144.09 L284.46 145.12 L284.04 146.28 L283.7 147.56 L283.53 148.96 L283.63 150.38 L283.94 151.66 L284.35 152.89 L284.88 154.15 L285.55 155.42 L286.35 156.67 L287.29 157.88 L288.39 159 L289.66 159.99 L291.08 160.82 L292.65 161.53 L294.32 162.14 L296.06 162.66 L297.81 163.09 L299.55 163.44 L301.22 163.71 L302.81 163.89 L304.36 163.96 L305.88 163.91 L307.35 163.75 L308.76 163.51 L310.09 163.23 L311.35 162.92 L312.53 162.61 L313.66 162.31 L314.83 161.95 L316.01 161.52 L317.12 161.05 L318.15 160.58 L319.08 160.12 L319.88 159.72 L320.53 159.4 L321.01 159.18" fill="none" stroke="#222" stroke-width="0.8"/>
<path d="M290.24 143.85 L290.01 144.47 L289.66 145.24 L289.28 146.05 L288.92 146.88 L288.61 147.71 L288.41 148.47 L288.33 149.1 L288.37 149.62 L288.55 150.31 L288.84 151.18 L289.22 152.1 L289.7 153.02 L290.26 153.9 L290.9 154.71 L291.59 155.42 L292.34 156.01 L293.27 156.55 L294.46 157.08 L295.83 157.58 L297.32 158.03 L298.86 158.41 L300.4 158.72 L301.88 158.96 L303.19 159.11 L304.38 159.16 L305.54 159.12 L306.7 158.99 L307.87 158.8 L309.02 158.55 L310.17 158.27 L311.29 157.97 L312.34 157.69 L313.3 157.4 L314.24 157.05 L315.19 156.66 L316.1 156.24 L316.96 155.82 L317.74 155.43 L318.44 155.08 L318.99 154.82" fill="none" stroke="#222" stroke-width="0.8"/>
<line x1="285.79" y1="142.06" x2="290.21" y2="143.94" stroke="#333" stroke-width="0.6"/>
<line x1="285.21" y1="143.41" x2="289.61" y2="145.34" stroke="#333" stroke-width="0.6"/>
<line x1="284.57" y1="144.84" x2="289.02" y2="146.65" stroke="#333" stroke-width="0.6"/>
<line x1="283.97" y1="146.5" x2="288.59" y2="147.81" stroke="#333" stroke-width="0.6"/>
<line x1="283.59" y1="148.41" x2="288.37" y2="148.83" stroke="#333" stroke-width="0.6"/>
<line x1="283.66" y1="150.48" x2="288.4" y2="149.74" stroke="#333" stroke-width="0.6"/>
<line x1="284.16" y1="152.32" x2="288.71" y2="150.79" stroke="#333" stroke-width="0.6"/>
<line x1="284.79" y1="153.94" x2="289.17" y2="151.96" stroke="#333" stroke-width="0.6"/>
<line x1="285.6" y1="155.5" x2="289.74" y2="153.07" stroke="#333" stroke-width="0.6"/>
<line x1="286.58" y1="156.97" x2="290.41" y2="154.09" stroke="#333" stroke-width="0.6"/>
<line x1="287.75" y1="158.35" x2="291.19" y2="155" stroke="#333" stroke-width="0.6"/>
<line x1="289.12" y1="159.58" x2="292.04" y2="155.77" stroke="#333" stroke-width="0.6"/>
<line x1="290.66" y1="160.58" x2="293.02" y2="156.4" stroke="#333" stroke-width="0.6"/>
<line x1="292.23" y1="161.34" x2="294.14" y2="156.94" stroke="#333" stroke-width="0.6"/>
<line x1="293.78" y1="161.94" x2="295.38" y2="157.42" stroke="#333" stroke-width="0.6"/>
<line x1="295.33" y1="162.44" x2="296.69" y2="157.84" stroke="#333" stroke-width="0.6"/>
<line x1="296.87" y1="162.86" x2="298.04" y2="158.21" stroke="#333" stroke-width="0.6"/>
<line x1="298.43" y1="163.22" x2="299.41" y2="158.52" stroke="#333" stroke-width="0.6"/>
<line x1="299.99" y1="163.51" x2="300.79" y2="158.78" stroke="#333" stroke-width="0.6"/>
<line x1="301.58" y1="163.75" x2="302.17" y2="158.99" stroke="#333" stroke-width="0.6"/>
<line x1="303.23" y1="163.91" x2="303.51" y2="159.12" stroke="#333" stroke-width="0.6"/>
<line x1="304.93" y1="163.94" x2="304.81" y2="159.14" stroke="#333" stroke-width="0.6"/>
<line x1="306.61" y1="163.83" x2="306.11" y2="159.05" stroke="#333" stroke-width="0.6"/>
<line x1="308.25" y1="163.6" x2="307.45" y2="158.87" stroke="#333" stroke-width="0.6"/>
<line x1="309.83" y1="163.29" x2="308.81" y2="158.6" stroke="#333" stroke-width="0.6"/>
<line x1="311.36" y1="162.92" x2="310.19" y2="158.27" stroke="#333" stroke-width="0.6"/>
<line x1="312.86" y1="162.52" x2="311.59" y2="157.89" stroke="#333" stroke-width="0.6"/>
<line x1="314.39" y1="162.08" x2="312.94" y2="157.51" stroke="#333" stroke-width="0.6"/>
<line x1="315.95" y1="161.54" x2="314.21" y2="157.06" stroke="#333" stroke-width="0.6"/>
<line x1="317.45" y1="160.9" x2="315.48" y2="156.52" stroke="#333" stroke-width="0.6"/>
<line x1="318.87" y1="160.23" x2="316.77" y2="155.91" stroke="#333" stroke-width="0.6"/>
<line x1="320.23" y1="159.55" x2="318.09" y2="155.25" stroke="#333" stroke-width="0.6"/>
<path d="M321.89 161.15 L322.27 161.84 L322.76 162.75 L323.35 163.85 L324.02 165.08 L324.73 166.39 L325.47 167.72 L326.22 169.02 L326.94 170.23 L327.6 171.35 L328.26 172.48 L328.93 173.65 L329.64 174.85 L330.42 176.07 L331.27 177.28 L332.22 178.49 L333.26 179.65 L334.38 180.77 L335.57 181.87 L336.84 182.97 L338.16 184.03 L339.55 185.05 L340.98 186.01 L342.46 186.88 L343.95 187.66 L345.47 188.35 L347.04 188.98 L348.66 189.55 L350.32 190.04 L352.01 190.44 L353.71 190.73 L355.41 190.89 L357.15 190.9 L358.96 190.66 L360.78 190.19 L362.54 189.58 L364.21 188.89 L365.74 188.19 L367.08 187.55 L368.15 187.04 L368.94 186.71" fill="none" stroke="#222" stroke-width="0.8"/>
<path d="M326.11 158.85 L326.49 159.55 L326.99 160.48 L327.58 161.58 L328.23 162.79 L328.93 164.07 L329.65 165.36 L330.37 166.6 L331.06 167.77 L331.75 168.92 L332.42 170.09 L333.07 171.23 L333.73 172.34 L334.41 173.4 L335.12 174.43 L335.89 175.4 L336.74 176.35 L337.71 177.31 L338.77 178.3 L339.9 179.27 L341.09 180.22 L342.31 181.12 L343.55 181.95 L344.8 182.69 L346.05 183.34 L347.35 183.93 L348.73 184.48 L350.14 184.98 L351.56 185.4 L352.96 185.73 L354.34 185.97 L355.66 186.09 L356.85 186.1 L358.04 185.95 L359.38 185.6 L360.83 185.09 L362.29 184.49 L363.71 183.84 L365.02 183.22 L366.17 182.67 L367.06 182.29" fill="none" stroke="#222" stroke-width="0.8"/>
<line x1="321.89" y1="161.14" x2="326.11" y2="158.86" stroke="#333" stroke-width="0.6"/>
<line x1="322.6" y1="162.46" x2="326.83" y2="160.18" stroke="#333" stroke-width="0.6"/>
<line x1="323.31" y1="163.78" x2="327.54" y2="161.5" stroke="#333" stroke-width="0.6"/>
<line x1="324.03" y1="165.11" x2="328.25" y2="162.81" stroke="#333" stroke-width="0.6"/>
<line x1="324.76" y1="166.44" x2="328.96" y2="164.11" stroke="#333" stroke-width="0.6"/>
<line x1="325.5" y1="167.77" x2="329.68" y2="165.4" stroke="#333" stroke-width="0.6"/>
<line x1="326.26" y1="169.1" x2="330.41" y2="166.67" stroke="#333" stroke-width="0.6"/>
<line x1="327.04" y1="170.4" x2="331.17" y2="167.95" stroke="#333" stroke-width="0.6"/>
<line x1="327.79" y1="171.67" x2="331.94" y2="169.26" stroke="#333" stroke-width="0.6"/>
<line x1="328.54" y1="172.97" x2="332.69" y2="170.56" stroke="#333" stroke-width="0.6"/>
<line x1="329.31" y1="174.3" x2="333.43" y2="171.82" stroke="#333" stroke-width="0.6"/>
<line x1="330.15" y1="175.64" x2="334.17" y2="173.03" stroke="#333" stroke-width="0.6"/>
<line x1="331.05" y1="176.98" x2="334.95" y2="174.18" stroke="#333" stroke-width="0.6"/>
<line x1="332.06" y1="178.29" x2="335.77" y2="175.25" stroke="#333" stroke-width="0.6"/>
<line x1="333.15" y1="179.53" x2="336.66" y2="176.25" stroke="#333" stroke-width="0.6"/>
<line x1="334.29" y1="180.68" x2="337.63" y2="177.23" stroke="#333" stroke-width="0.6"/>
<line x1="335.45" y1="181.76" x2="338.67" y2="178.2" stroke="#333" stroke-width="0.6"/>
<line x1="336.65" y1="182.8" x2="339.73" y2="179.13" stroke="#333" stroke-width="0.6"/>
<line x1="337.88" y1="183.8" x2="340.83" y2="180.02" stroke="#333" stroke-width="0.6"/>
<line x1="339.16" y1="184.76" x2="341.96" y2="180.86" stroke="#333" stroke-width="0.6"/>
<line x1="340.48" y1="185.67" x2="343.11" y2="181.65" stroke="#333" stroke-width="0.6"/>
<line x1="341.85" y1="186.52" x2="344.28" y2="182.38" stroke="#333" stroke-width="0.6"/>
<line x1="343.27" y1="187.31" x2="345.48" y2="183.04" stroke="#333" stroke-width="0.6"/>
<line x1="344.73" y1="188.01" x2="346.72" y2="183.64" stroke="#333" stroke-width="0.6"/>
<line x1="346.21" y1="188.64" x2="348" y2="184.19" stroke="#333" stroke-width="0.6"/>
<line x1="347.71" y1="189.21" x2="349.31" y2="184.69" stroke="#333" stroke-width="0.6"/>
<line x1="349.23" y1="189.72" x2="350.63" y2="185.12" stroke="#333" stroke-width="0.6"/>
<line x1="350.8" y1="190.15" x2="351.96" y2="185.49" stroke="#333" stroke-width="0.6"/>
<line x1="352.4" y1="190.5" x2="353.28" y2="185.79" stroke="#333" stroke-width="0.6"/>
<line x1="354.04" y1="190.76" x2="354.6" y2="185.99" stroke="#333" stroke-width="0.6"/>
<line x1="355.75" y1="190.89" x2="355.88" y2="186.09" stroke="#333" stroke-width="0.6"/>
<line x1="357.52" y1="190.85" x2="357.1" y2="186.07" stroke="#333" stroke-width="0.6"/>
<line x1="359.29" y1="190.58" x2="358.3" y2="185.88" stroke="#333" stroke-width="0.6"/>
<line x1="360.95" y1="190.13" x2="359.53" y2="185.55" stroke="#333" stroke-width="0.6"/>
<line x1="362.51" y1="189.59" x2="360.8" y2="185.1" stroke="#333" stroke-width="0.6"/>
<line x1="364" y1="188.98" x2="362.09" y2="184.57" stroke="#333" stroke-width="0.6"/>
<line x1="365.42" y1="188.34" x2="363.41" y2="183.98" stroke="#333" stroke-width="0.6"/>
<line x1="366.8" y1="187.68" x2="364.74" y2="183.35" stroke="#333" stroke-width="0.6"/>
<line x1="368.15" y1="187.04" x2="366.09" y2="182.7" stroke="#333" stroke-width="0.6"/>
<ellipse cx="311" cy="148.5" rx="6.5" ry="3.6" transform="rotate(-8 311 148.5)" fill="none" stroke="#222" stroke-width="0.8"/>
<ellipse cx="303" cy="146" rx="9" ry="4.5" transform="rotate(12 303 146)" fill="none" stroke="#222" stroke-width="0.7"/>
<circle cx="338" cy="159" r="8.5" fill="none" stroke="#222" stroke-width="0.7"/>
<circle cx="349" cy="168" r="10.5" fill="none" stroke="#222" stroke-width="0.7"/>
<ellipse cx="330" cy="150" rx="8" ry="5" transform="rotate(20 330 150)" fill="none" stroke="#222" stroke-width="0.7"/>
<ellipse cx="344" cy="176" rx="9" ry="6" transform="rotate(30 344 176)" fill="none" stroke="#222" stroke-width="0.7"/>
<path d="M336 150 Q360 150 373.5 176.5" fill="none" stroke="#222" stroke-width="0.8"/>
<path d="M340 154 Q362 156 373.5 176.5" fill="none" stroke="#222" stroke-width="0.8"/>
<path d="M344 158 Q362 162 373.5 176.5" fill="none" stroke="#222" stroke-width="0.8"/>
<path d="M346 162 Q360 168 373.5 176.5" fill="none" stroke="#222" stroke-width="0.8"/>
<path d="M344 168 Q358 174 373.5 176.5" fill="none" stroke="#222" stroke-width="0.8"/>
<path d="M342 174 Q356 178 373.5 176.5" fill="none" stroke="#222" stroke-width="0.8"/>
<path d="M344 180 Q358 182 373.5 176.5" fill="none" stroke="#222" stroke-width="0.8"/>
<path d="M348 185 Q362 186 373.5 176.5" fill="none" stroke="#222" stroke-width="0.8"/>
<path d="M354 188 Q366 187 373.5 176.5" fill="none" stroke="#222" stroke-width="0.8"/>
<path d="M333 146 Q364 146 373.5 176.5" fill="none" stroke="#222" stroke-width="0.8"/>
<path d="M350 152 Q366 160 373.5 176.5" fill="none" stroke="#222" stroke-width="0.8"/>
<path d="M296 147 Q315 140 330 152 T355 176" fill="none" stroke="#222" stroke-width="0.8"/>
<path d="M300 152 Q322 146 338 160 T372 178" fill="none" stroke="#222" stroke-width="0.8"/>
<path d="M318 146 Q340 150 350 170 T368 186" fill="none" stroke="#222" stroke-width="0.8"/>
<path d="M302 139 Q320 137 334 146 Q344 154 348 166" fill="none" stroke="#222" stroke-width="0.8"/>
<path d="M306 156 Q316 150 326 152 Q336 156 340 168" fill="none" stroke="#222" stroke-width="0.8"/>
<path d="M322.42 160.9 Q316.55 160.31 320.78 154.63" fill="none" stroke="#222" stroke-width="0.9"/>
<path d="M321.79 163.97 Q323.56 153.58 319.19 152.93" fill="none" stroke="#222" stroke-width="0.9"/>
<path d="M317.18 153.51 Q324.89 157.89 325.03 159.1" fill="none" stroke="#222" stroke-width="0.9"/>
<path d="M321.19 163.02 Q324.4 161.13 321.11 150.66" fill="none" stroke="#222" stroke-width="0.9"/>
<path d="M316.57 159.63 Q317.92 154.23 329.32 157.09" fill="none" stroke="#222" stroke-width="0.9"/>
<path d="M326.73 155.87 Q320.33 157.83 319.67 160.57" fill="none" stroke="#222" stroke-width="0.9"/>
<path d="M315.55 154.26 Q323.92 153.7 324.55 163.5" fill="none" stroke="#222" stroke-width="0.9"/>
<path d="M326.98 151.97 Q325.71 157.72 319.08 159.79" fill="none" stroke="#222" stroke-width="0.9"/>
<path d="M321.4 163.13 Q321 153.58 324.51 154.01" fill="none" stroke="#222" stroke-width="0.9"/>
<path d="M320.18 163.14 Q324.45 155.34 316.45 156.28" fill="none" stroke="#222" stroke-width="0.9"/>
<path d="M327.77 153.88 Q323.12 152.41 317.89 156.74" fill="none" stroke="#222" stroke-width="0.9"/>
<path d="M323.52 161.81 Q319.91 161.49 319.36 157.07" fill="none" stroke="#222" stroke-width="0.9"/>
<path d="M325.59 154.36 Q322.66 158.18 318.72 161.21" fill="none" stroke="#222" stroke-width="0.9"/>
<path d="M326.87 155.45 Q327.35 157.21 318.36 157.77" fill="none" stroke="#222" stroke-width="0.9"/>
<path d="M319.65 155.77 Q323.48 152.69 324.5 157.57" fill="none" stroke="#222" stroke-width="0.9"/>
<path d="M318.5 153.11 Q316.65 152.69 328.35 157.22" fill="none" stroke="#222" stroke-width="0.9"/>
<path d="M318.49 154.03 Q320.48 155.16 326.71 159.08" fill="none" stroke="#222" stroke-width="0.9"/>
<path d="M318.1 159.62 Q322.78 159.3 322.33 154.77" fill="none" stroke="#222" stroke-width="0.9"/>
<path d="M320.66 162.62 Q324.22 153.1 319.86 153.68" fill="none" stroke="#222" stroke-width="0.9"/>
<path d="M320.14 162.57 Q320.17 158.47 321.32 154.08" fill="none" stroke="#222" stroke-width="0.9"/>
<path d="M325.68 154.87 Q325.44 160.32 324.55 159.67" fill="none" stroke="#222" stroke-width="0.9"/>
<path d="M323.61 162.53 Q317.85 154.96 318.96 153.59" fill="none" stroke="#222" stroke-width="0.9"/>
<path d="M323.06 153.34 Q326.71 153.63 323.52 160.89" fill="none" stroke="#222" stroke-width="0.9"/>
<path d="M329.68 157.19 Q326.79 154.28 318.83 151.9" fill="none" stroke="#222" stroke-width="0.9"/>
<path d="M321.78 151.65 Q318.95 152.77 323.47 160.51" fill="none" stroke="#222" stroke-width="0.9"/>
<path d="M318.59 153.8 Q326.75 160.89 326.2 152.45" fill="none" stroke="#222" stroke-width="0.9"/>
<path d="M326.54 155.72 Q323.82 157.24 318.92 158.43" fill="none" stroke="#222" stroke-width="0.9"/>
<path d="M315.44 159.64 Q321.74 159.77 322.9 150.86" fill="none" stroke="#222" stroke-width="0.9"/>
<path d="M319.91 160.79 Q326.72 160 324.9 153.97" fill="none" stroke="#222" stroke-width="0.9"/>
<path d="M323.08 152.36 Q319.41 157.27 319.78 158.93" fill="none" stroke="#222" stroke-width="0.9"/>
<path d="M301.3 153.15 Q301.69 145.17 305.87 147.35" fill="none" stroke="#222" stroke-width="0.7"/>
<path d="M318.64 149.53 Q305.5 151.65 302.66 152.17" fill="none" stroke="#222" stroke-width="0.7"/>
<path d="M302.32 148.21 Q311.63 148.66 312.46 148.49" fill="none" stroke="#222" stroke-width="0.7"/>
<path d="M312.47 152.16 Q313.06 151.38 298.52 148.36" fill="none" stroke="#222" stroke-width="0.7"/>
<path d="M301.89 152.16 Q307.34 147.14 314.78 148.05" fill="none" stroke="#222" stroke-width="0.7"/>
<path d="M298.8 149.38 Q315.33 148.59 314.73 147.45" fill="none" stroke="#222" stroke-width="0.7"/>
<path d="M316.19 147.68 Q310.73 154.34 306.01 156.28" fill="none" stroke="#222" stroke-width="0.7"/>
<path d="M310.41 143.72 Q299.68 146.01 307.86 155.69" fill="none" stroke="#222" stroke-width="0.7"/>
<path d="M308.59 147.12 Q299.99 153.83 318.41 151.1" fill="none" stroke="#222" stroke-width="0.7"/>
<path d="M315.74 154.26 Q313.02 144.81 303.91 144.72" fill="none" stroke="#222" stroke-width="0.7"/>
<path d="M308.84 143.63 Q300.63 148.03 317.44 152.28" fill="none" stroke="#222" stroke-width="0.7"/>
<path d="M298.28 148.54 Q312.26 148.81 312 145.84" fill="none" stroke="#222" stroke-width="0.7"/>
<path d="M333.34 166.04 Q345.95 160.78 338.6 155.56" fill="none" stroke="#222" stroke-width="0.7"/>
<path d="M337.91 154.17 Q337.73 164 335.89 168.45" fill="none" stroke="#222" stroke-width="0.7"/>
<path d="M341.87 159.79 Q337.04 165.06 327.68 164.69" fill="none" stroke="#222" stroke-width="0.7"/>
<path d="M340.29 166.04 Q341.21 168.35 334.58 158.13" fill="none" stroke="#222" stroke-width="0.7"/>
<path d="M335.3 167.65 Q333.26 155.32 343.98 158.54" fill="none" stroke="#222" stroke-width="0.7"/>
<path d="M331.24 162.55 Q332.01 168.88 342.06 155.56" fill="none" stroke="#222" stroke-width="0.7"/>
<path d="M329.44 162.81 Q337.69 165.09 347.98 164.14" fill="none" stroke="#222" stroke-width="0.7"/>
<path d="M342.31 155.61 Q333.54 165.05 330.55 162.66" fill="none" stroke="#222" stroke-width="0.7"/>
<path d="M332.71 154 Q332.74 164.87 343.18 162.3" fill="none" stroke="#222" stroke-width="0.7"/>
<path d="M345.01 158.28 Q341.85 156.2 332.19 164.16" fill="none" stroke="#222" stroke-width="0.7"/>
<path d="M346.86 164.77 Q329.72 159.69 329.64 163.29" fill="none" stroke="#222" stroke-width="0.7"/>
<path d="M330.93 163.75 Q338.75 156.67 347.72 158.85" fill="none" stroke="#222" stroke-width="0.7"/>
<path d="M350.35 175.74 Q360.65 170.24 360.75 169.26" fill="none" stroke="#222" stroke-width="0.7"/>
<path d="M353.6 166.98 Q347.41 175.56 350.03 180.49" fill="none" stroke="#222" stroke-width="0.7"/>
<path d="M362.47 170.36 Q356.27 174.5 352.3 177.46" fill="none" stroke="#222" stroke-width="0.7"/>
<path d="M346.53 168.97 Q355.05 166.72 357.59 175.17" fill="none" stroke="#222" stroke-width="0.7"/>
<path d="M357.07 169.78 Q354.89 171.41 342.31 173.85" fill="none" stroke="#222" stroke-width="0.7"/>
<path d="M349.74 175.22 Q356.7 170.03 357.95 166.16" fill="none" stroke="#222" stroke-width="0.7"/>
<path d="M351.22 181.06 Q357.27 169.96 342.93 171.37" fill="none" stroke="#222" stroke-width="0.7"/>
<path d="M347.95 177.89 Q344.4 168.79 357.53 165.83" fill="none" stroke="#222" stroke-width="0.7"/>
<path d="M356.3 176.95 Q350.37 175.41 347.82 168.89" fill="none" stroke="#222" stroke-width="0.7"/>
<path d="M356.6 165.45 Q352.54 172.96 358.17 174.83" fill="none" stroke="#222" stroke-width="0.7"/>
<path d="M353.98 180.09 Q360.81 170.36 340.46 174.71" fill="none" stroke="#222" stroke-width="0.7"/>
<path d="M342.62 169.6 Q359.06 171.78 356.67 176.61" fill="none" stroke="#222" stroke-width="0.7"/>
<circle cx="322.5" cy="156.5" r="3.6" fill="#222" stroke="#111" stroke-width="0.8"/>
<circle cx="343.8" cy="180" r="3.8" fill="none" stroke="#222" stroke-width="0.8"/>
<circle cx="309.55" cy="168.66" r="2.5" fill="none" stroke="#3c3c3c" stroke-width="0.6"/>
<circle cx="307.43" cy="170.25" r="2.5" fill="none" stroke="#3c3c3c" stroke-width="0.6"/>
<circle cx="305.27" cy="168.73" r="2.5" fill="none" stroke="#3c3c3c" stroke-width="0.6"/>
<circle cx="306.05" cy="166.2" r="2.5" fill="none" stroke="#3c3c3c" stroke-width="0.6"/>
<circle cx="308.7" cy="166.16" r="2.5" fill="none" stroke="#3c3c3c" stroke-width="0.6"/>
<line x1="307.4" y1="168" x2="310.74" y2="169.03" stroke="#3c3c3c" stroke-width="0.5"/>
<line x1="307.4" y1="168" x2="307.45" y2="171.5" stroke="#3c3c3c" stroke-width="0.5"/>
<line x1="307.4" y1="168" x2="304.09" y2="169.13" stroke="#3c3c3c" stroke-width="0.5"/>
<line x1="307.4" y1="168" x2="305.3" y2="165.2" stroke="#3c3c3c" stroke-width="0.5"/>
<line x1="307.4" y1="168" x2="309.42" y2="165.14" stroke="#3c3c3c" stroke-width="0.5"/>
<circle cx="365.45" cy="193.16" r="2.5" fill="none" stroke="#3c3c3c" stroke-width="0.6"/>
<circle cx="363.33" cy="194.75" r="2.5" fill="none" stroke="#3c3c3c" stroke-width="0.6"/>
<circle cx="361.17" cy="193.23" r="2.5" fill="none" stroke="#3c3c3c" stroke-width="0.6"/>
<circle cx="361.95" cy="190.7" r="2.5" fill="none" stroke="#3c3c3c" stroke-width="0.6"/>
<circle cx="364.6" cy="190.66" r="2.5" fill="none" stroke="#3c3c3c" stroke-width="0.6"/>
<line x1="363.3" y1="192.5" x2="366.64" y2="193.53" stroke="#3c3c3c" stroke-width="0.5"/>
<line x1="363.3" y1="192.5" x2="363.35" y2="196" stroke="#3c3c3c" stroke-width="0.5"/>
<line x1="363.3" y1="192.5" x2="359.99" y2="193.63" stroke="#3c3c3c" stroke-width="0.5"/>
<line x1="363.3" y1="192.5" x2="361.2" y2="189.7" stroke="#3c3c3c" stroke-width="0.5"/>
<line x1="363.3" y1="192.5" x2="365.32" y2="189.64" stroke="#3c3c3c" stroke-width="0.5"/>
<circle cx="383.38" cy="175.8" r="3" fill="none" stroke="#3c3c3c" stroke-width="0.6"/>
<circle cx="380.84" cy="177.7" r="3" fill="none" stroke="#3c3c3c" stroke-width="0.6"/>
<circle cx="378.24" cy="175.87" r="3" fill="none" stroke="#3c3c3c" stroke-width="0.6"/>
<circle cx="379.18" cy="172.84" r="3" fill="none" stroke="#3c3c3c" stroke-width="0.6"/>
<circle cx="382.36" cy="172.79" r="3" fill="none" stroke="#3c3c3c" stroke-width="0.6"/>
<line x1="380.8" y1="175" x2="384.81" y2="176.24" stroke="#3c3c3c" stroke-width="0.5"/>
<line x1="380.8" y1="175" x2="380.86" y2="179.2" stroke="#3c3c3c" stroke-width="0.5"/>
<line x1="380.8" y1="175" x2="376.82" y2="176.35" stroke="#3c3c3c" stroke-width="0.5"/>
<line x1="380.8" y1="175" x2="378.28" y2="171.64" stroke="#3c3c3c" stroke-width="0.5"/>
<line x1="380.8" y1="175" x2="383.22" y2="171.57" stroke="#3c3c3c" stroke-width="0.5"/>
<circle cx="385.02" cy="174.43" r="2" fill="none" stroke="#3c3c3c" stroke-width="0.6"/>
<circle cx="383.33" cy="175.7" r="2" fill="none" stroke="#3c3c3c" stroke-width="0.6"/>
<circle cx="381.6" cy="174.48" r="2" fill="none" stroke="#3c3c3c" stroke-width="0.6"/>
<circle cx="382.22" cy="172.46" r="2" fill="none" stroke="#3c3c3c" stroke-width="0.6"/>
<circle cx="384.34" cy="172.43" r="2" fill="none" stroke="#3c3c3c" stroke-width="0.6"/>
<line x1="383.3" y1="173.9" x2="385.97" y2="174.73" stroke="#3c3c3c" stroke-width="0.5"/>
<line x1="383.3" y1="173.9" x2="383.34" y2="176.7" stroke="#3c3c3c" stroke-width="0.5"/>
<line x1="383.3" y1="173.9" x2="380.65" y2="174.8" stroke="#3c3c3c" stroke-width="0.5"/>
<line x1="383.3" y1="173.9" x2="381.62" y2="171.66" stroke="#3c3c3c" stroke-width="0.5"/>
<line x1="383.3" y1="173.9" x2="384.91" y2="171.61" stroke="#3c3c3c" stroke-width="0.5"/>
<line x1="393.19" y1="95.4" x2="393.19" y2="115.4" stroke="#666" stroke-width="1.0"/>
<line x1="396.29" y1="95.4" x2="396.29" y2="115.4" stroke="#666" stroke-width="1.0"/>
<line x1="399.38" y1="95.4" x2="399.38" y2="115.4" stroke="#666" stroke-width="1.0"/>
<line x1="402.47" y1="95.4" x2="402.47" y2="115.4" stroke="#666" stroke-width="1.0"/>
<line x1="405.56" y1="95.4" x2="405.56" y2="115.4" stroke="#666" stroke-width="1.0"/>
<line x1="408.66" y1="95.4" x2="408.66" y2="115.4" stroke="#666" stroke-width="1.0"/>
<line x1="411.75" y1="95.4" x2="411.75" y2="115.4" stroke="#666" stroke-width="1.0"/>
<line x1="414.84" y1="95.4" x2="414.84" y2="115.4" stroke="#666" stroke-width="1.0"/>
<line x1="417.94" y1="95.4" x2="417.94" y2="115.4" stroke="#666" stroke-width="1.0"/>
<line x1="421.03" y1="95.4" x2="421.03" y2="115.4" stroke="#666" stroke-width="1.0"/>
<line x1="424.12" y1="95.4" x2="424.12" y2="115.4" stroke="#666" stroke-width="1.0"/>
<line x1="427.21" y1="95.4" x2="427.21" y2="115.4" stroke="#666" stroke-width="1.0"/>
<line x1="430.31" y1="95.4" x2="430.31" y2="115.4" stroke="#666" stroke-width="1.0"/>
<line x1="390.1" y1="99.4" x2="433.4" y2="99.4" stroke="#777" stroke-width="1.3"/>
<line x1="390.1" y1="103.4" x2="433.4" y2="103.4" stroke="#777" stroke-width="1.3"/>
<line x1="390.1" y1="107.4" x2="433.4" y2="107.4" stroke="#777" stroke-width="1.3"/>
<line x1="390.1" y1="111.4" x2="433.4" y2="111.4" stroke="#777" stroke-width="1.3"/>
<path d="M390.1 95.4 L433.4 95.4 L433.4 115.4 L390.1 115.4 Z" fill="none" stroke="#111" stroke-width="1.3"/>
<circle cx="383.01" cy="116.73" r="3.5" fill="none" stroke="#3c3c3c" stroke-width="0.6"/>
<circle cx="380.04" cy="118.95" r="3.5" fill="none" stroke="#3c3c3c" stroke-width="0.6"/>
<circle cx="377.02" cy="116.82" r="3.5" fill="none" stroke="#3c3c3c" stroke-width="0.6"/>
<circle cx="378.11" cy="113.28" r="3.5" fill="none" stroke="#3c3c3c" stroke-width="0.6"/>
<circle cx="381.82" cy="113.23" r="3.5" fill="none" stroke="#3c3c3c" stroke-width="0.6"/>
<line x1="380" y1="115.8" x2="384.68" y2="117.25" stroke="#3c3c3c" stroke-width="0.5"/>
<line x1="380" y1="115.8" x2="380.07" y2="120.7" stroke="#3c3c3c" stroke-width="0.5"/>
<line x1="380" y1="115.8" x2="375.36" y2="117.38" stroke="#3c3c3c" stroke-width="0.5"/>
<line x1="380" y1="115.8" x2="377.06" y2="111.88" stroke="#3c3c3c" stroke-width="0.5"/>
<line x1="380" y1="115.8" x2="382.82" y2="111.8" stroke="#3c3c3c" stroke-width="0.5"/>
<line x1="380" y1="115.8" x2="386.37" y2="117.09" stroke="#222" stroke-width="0.6"/>
<line x1="380" y1="115.8" x2="384.4" y2="120.59" stroke="#222" stroke-width="0.6"/>
<line x1="380" y1="115.8" x2="380.74" y2="122.26" stroke="#222" stroke-width="0.6"/>
<line x1="380" y1="115.8" x2="376.81" y2="121.46" stroke="#222" stroke-width="0.6"/>
<line x1="380" y1="115.8" x2="374.09" y2="118.51" stroke="#222" stroke-width="0.6"/>
<line x1="380" y1="115.8" x2="373.63" y2="114.52" stroke="#222" stroke-width="0.6"/>
<line x1="380" y1="115.8" x2="375.6" y2="111.02" stroke="#222" stroke-width="0.6"/>
<line x1="380" y1="115.8" x2="379.25" y2="109.34" stroke="#222" stroke-width="0.6"/>
<line x1="380" y1="115.8" x2="383.18" y2="110.13" stroke="#222" stroke-width="0.6"/>
<line x1="380" y1="115.8" x2="385.91" y2="113.08" stroke="#222" stroke-width="0.6"/>
<path d="M387.31 124.49 L388.05 128.51 L392.04 129.39 L388.45 131.34 L388.84 135.41 L385.88 132.6 L382.13 134.23 L383.89 130.54 L381.18 127.48 L385.23 128.01 Z" fill="#222" stroke="#111" stroke-width="0.8"/>
<path d="M396.89 129.62 L398.65 133.31 L402.74 133.13 L399.77 135.95 L401.21 139.78 L397.61 137.83 L394.41 140.37 L395.16 136.35 L391.75 134.1 L395.8 133.56 Z" fill="#222" stroke="#111" stroke-width="0.8"/>
<circle cx="408.5" cy="125.3" r="5.8" fill="#3a3a3a" stroke="#111" stroke-width="0.9"/>
<line x1="405.68" y1="124.26" x2="405.96" y2="126.04" stroke="#fff" stroke-width="0.7"/>
<line x1="411.24" y1="127.4" x2="412.7" y2="128.45" stroke="#fff" stroke-width="0.7"/>
<line x1="413.63" y1="124.34" x2="411.9" y2="124.84" stroke="#fff" stroke-width="0.7"/>
<line x1="408.98" y1="126.6" x2="407.22" y2="126.97" stroke="#fff" stroke-width="0.7"/>
<line x1="410.65" y1="125.87" x2="409.23" y2="126.97" stroke="#fff" stroke-width="0.7"/>
<line x1="408.56" y1="124.41" x2="406.87" y2="125.02" stroke="#fff" stroke-width="0.7"/>
<line x1="407.04" y1="122.3" x2="408.52" y2="123.32" stroke="#fff" stroke-width="0.7"/>
<line x1="411.15" y1="124.66" x2="410.41" y2="126.3" stroke="#fff" stroke-width="0.7"/>
<line x1="408.66" y1="124.87" x2="409.93" y2="126.13" stroke="#fff" stroke-width="0.7"/>
<line x1="407.45" y1="128.64" x2="409.06" y2="129.44" stroke="#fff" stroke-width="0.7"/>
<line x1="409.8" y1="122.17" x2="411.37" y2="123.04" stroke="#fff" stroke-width="0.7"/>
<line x1="409.46" y1="120.87" x2="407.67" y2="121.04" stroke="#fff" stroke-width="0.7"/>
<line x1="407.97" y1="123.17" x2="406.89" y2="124.6" stroke="#fff" stroke-width="0.7"/>
<line x1="407.85" y1="128.64" x2="408.16" y2="130.41" stroke="#fff" stroke-width="0.7"/>
<line x1="408.95" y1="124.13" x2="410.73" y2="124.42" stroke="#fff" stroke-width="0.7"/>
<line x1="410.98" y1="121.28" x2="409.85" y2="122.68" stroke="#fff" stroke-width="0.7"/>
<line x1="406.4" y1="128.26" x2="405.2" y2="129.6" stroke="#fff" stroke-width="0.7"/>
<line x1="408.87" y1="120.53" x2="410.08" y2="121.87" stroke="#fff" stroke-width="0.7"/>
<path d="M396 118 Q402 118 405 121" fill="none" stroke="#3c3c3c" stroke-width="0.7"/>
<path d="M410 131 L409.52 131.69 L408.85 132.59 L408.06 133.67 L407.19 134.88 L406.29 136.16 L405.43 137.47 L404.65 138.77 L404 140 L403.43 141.23 L402.85 142.52 L402.3 143.85 L401.81 145.19 L401.41 146.5 L401.12 147.76 L400.97 148.93 L401 150 L401.28 150.98 L401.8 151.92 L402.51 152.81 L403.31 153.62 L404.14 154.37 L404.91 155.02 L405.56 155.56 L406 156" fill="none" stroke="#3c3c3c" stroke-width="0.7"/>
<path d="M398 141 L397.8 141.69 L397.5 142.59 L397.13 143.67 L396.75 144.88 L396.4 146.16 L396.12 147.47 L395.98 148.77 L396 150 L396.24 151.27 L396.67 152.66 L397.24 154.12 L397.88 155.56 L398.53 156.94 L399.14 158.18 L399.65 159.22 L400 160" fill="none" stroke="#3c3c3c" stroke-width="0.7"/>
<circle cx="410.29" cy="150.27" r="2.9" fill="none" stroke="#3c3c3c" stroke-width="0.6"/>
<circle cx="407.84" cy="152.11" r="2.9" fill="none" stroke="#3c3c3c" stroke-width="0.6"/>
<circle cx="405.33" cy="150.34" r="2.9" fill="none" stroke="#3c3c3c" stroke-width="0.6"/>
<circle cx="406.24" cy="147.41" r="2.9" fill="none" stroke="#3c3c3c" stroke-width="0.6"/>
<circle cx="409.3" cy="147.37" r="2.9" fill="none" stroke="#3c3c3c" stroke-width="0.6"/>
<line x1="407.8" y1="149.5" x2="411.68" y2="150.7" stroke="#3c3c3c" stroke-width="0.5"/>
<line x1="407.8" y1="149.5" x2="407.86" y2="153.56" stroke="#3c3c3c" stroke-width="0.5"/>
<line x1="407.8" y1="149.5" x2="403.96" y2="150.81" stroke="#3c3c3c" stroke-width="0.5"/>
<line x1="407.8" y1="149.5" x2="405.37" y2="146.25" stroke="#3c3c3c" stroke-width="0.5"/>
<line x1="407.8" y1="149.5" x2="410.14" y2="146.18" stroke="#3c3c3c" stroke-width="0.5"/>
<circle cx="436.2" cy="138.5" r="21.4" fill="none" stroke="#3c3c3c" stroke-width="0.85"/>
<circle cx="436.2" cy="138.5" r="19.2" fill="none" stroke="#222" stroke-width="1.0"/>
<clipPath id="cp1"><circle cx="436.2" cy="138.5" r="18.8"/></clipPath><g clip-path="url(#cp1)">
<circle cx="436.2" cy="138.5" r="19" fill="#7a7a7a" stroke="#777" stroke-width="0.1"/>
<line x1="370.2" y1="144.5" x2="430.2" y2="204.5" stroke="#222" stroke-width="0.6"/>
<line x1="370.2" y1="132.5" x2="430.2" y2="72.5" stroke="#222" stroke-width="0.6"/>
<line x1="373.2" y1="141.5" x2="433.2" y2="201.5" stroke="#222" stroke-width="0.6"/>
<line x1="373.2" y1="135.5" x2="433.2" y2="75.5" stroke="#222" stroke-width="0.6"/>
<line x1="376.2" y1="138.5" x2="436.2" y2="198.5" stroke="#222" stroke-width="0.6"/>
<line x1="376.2" y1="138.5" x2="436.2" y2="78.5" stroke="#222" stroke-width="0.6"/>
<line x1="379.2" y1="135.5" x2="439.2" y2="195.5" stroke="#222" stroke-width="0.6"/>
<line x1="379.2" y1="141.5" x2="439.2" y2="81.5" stroke="#222" stroke-width="0.6"/>
<line x1="382.2" y1="132.5" x2="442.2" y2="192.5" stroke="#222" stroke-width="0.6"/>
<line x1="382.2" y1="144.5" x2="442.2" y2="84.5" stroke="#222" stroke-width="0.6"/>
<line x1="385.2" y1="129.5" x2="445.2" y2="189.5" stroke="#222" stroke-width="0.6"/>
<line x1="385.2" y1="147.5" x2="445.2" y2="87.5" stroke="#222" stroke-width="0.6"/>
<line x1="388.2" y1="126.5" x2="448.2" y2="186.5" stroke="#222" stroke-width="0.6"/>
<line x1="388.2" y1="150.5" x2="448.2" y2="90.5" stroke="#222" stroke-width="0.6"/>
<line x1="391.2" y1="123.5" x2="451.2" y2="183.5" stroke="#222" stroke-width="0.6"/>
<line x1="391.2" y1="153.5" x2="451.2" y2="93.5" stroke="#222" stroke-width="0.6"/>
<line x1="394.2" y1="120.5" x2="454.2" y2="180.5" stroke="#222" stroke-width="0.6"/>
<line x1="394.2" y1="156.5" x2="454.2" y2="96.5" stroke="#222" stroke-width="0.6"/>
<line x1="397.2" y1="117.5" x2="457.2" y2="177.5" stroke="#222" stroke-width="0.6"/>
<line x1="397.2" y1="159.5" x2="457.2" y2="99.5" stroke="#222" stroke-width="0.6"/>
<line x1="400.2" y1="114.5" x2="460.2" y2="174.5" stroke="#222" stroke-width="0.6"/>
<line x1="400.2" y1="162.5" x2="460.2" y2="102.5" stroke="#222" stroke-width="0.6"/>
<line x1="403.2" y1="111.5" x2="463.2" y2="171.5" stroke="#222" stroke-width="0.6"/>
<line x1="403.2" y1="165.5" x2="463.2" y2="105.5" stroke="#222" stroke-width="0.6"/>
<line x1="406.2" y1="108.5" x2="466.2" y2="168.5" stroke="#222" stroke-width="0.6"/>
<line x1="406.2" y1="168.5" x2="466.2" y2="108.5" stroke="#222" stroke-width="0.6"/>
<line x1="409.2" y1="105.5" x2="469.2" y2="165.5" stroke="#222" stroke-width="0.6"/>
<line x1="409.2" y1="171.5" x2="469.2" y2="111.5" stroke="#222" stroke-width="0.6"/>
<line x1="412.2" y1="102.5" x2="472.2" y2="162.5" stroke="#222" stroke-width="0.6"/>
<line x1="412.2" y1="174.5" x2="472.2" y2="114.5" stroke="#222" stroke-width="0.6"/>
<line x1="415.2" y1="99.5" x2="475.2" y2="159.5" stroke="#222" stroke-width="0.6"/>
<line x1="415.2" y1="177.5" x2="475.2" y2="117.5" stroke="#222" stroke-width="0.6"/>
<line x1="418.2" y1="96.5" x2="478.2" y2="156.5" stroke="#222" stroke-width="0.6"/>
<line x1="418.2" y1="180.5" x2="478.2" y2="120.5" stroke="#222" stroke-width="0.6"/>
<line x1="421.2" y1="93.5" x2="481.2" y2="153.5" stroke="#222" stroke-width="0.6"/>
<line x1="421.2" y1="183.5" x2="481.2" y2="123.5" stroke="#222" stroke-width="0.6"/>
<line x1="424.2" y1="90.5" x2="484.2" y2="150.5" stroke="#222" stroke-width="0.6"/>
<line x1="424.2" y1="186.5" x2="484.2" y2="126.5" stroke="#222" stroke-width="0.6"/>
<line x1="427.2" y1="87.5" x2="487.2" y2="147.5" stroke="#222" stroke-width="0.6"/>
<line x1="427.2" y1="189.5" x2="487.2" y2="129.5" stroke="#222" stroke-width="0.6"/>
<line x1="430.2" y1="84.5" x2="490.2" y2="144.5" stroke="#222" stroke-width="0.6"/>
<line x1="430.2" y1="192.5" x2="490.2" y2="132.5" stroke="#222" stroke-width="0.6"/>
<line x1="433.2" y1="81.5" x2="493.2" y2="141.5" stroke="#222" stroke-width="0.6"/>
<line x1="433.2" y1="195.5" x2="493.2" y2="135.5" stroke="#222" stroke-width="0.6"/>
<line x1="436.2" y1="78.5" x2="496.2" y2="138.5" stroke="#222" stroke-width="0.6"/>
<line x1="436.2" y1="198.5" x2="496.2" y2="138.5" stroke="#222" stroke-width="0.6"/>
<line x1="439.2" y1="75.5" x2="499.2" y2="135.5" stroke="#222" stroke-width="0.6"/>
<line x1="439.2" y1="201.5" x2="499.2" y2="141.5" stroke="#222" stroke-width="0.6"/>
<line x1="442.2" y1="72.5" x2="502.2" y2="132.5" stroke="#222" stroke-width="0.6"/>
<line x1="442.2" y1="204.5" x2="502.2" y2="144.5" stroke="#222" stroke-width="0.6"/>
<circle cx="452.8" cy="138.5" r="1.7" fill="#fff" stroke="#222" stroke-width="0.6"/>
<circle cx="452.44" cy="141.95" r="1.7" fill="#fff" stroke="#222" stroke-width="0.6"/>
<circle cx="451.36" cy="145.25" r="1.7" fill="#fff" stroke="#222" stroke-width="0.6"/>
<circle cx="449.63" cy="148.26" r="1.7" fill="#fff" stroke="#222" stroke-width="0.6"/>
<circle cx="447.31" cy="150.84" r="1.7" fill="#fff" stroke="#222" stroke-width="0.6"/>
<circle cx="444.5" cy="152.88" r="1.7" fill="#fff" stroke="#222" stroke-width="0.6"/>
<circle cx="441.33" cy="154.29" r="1.7" fill="#fff" stroke="#222" stroke-width="0.6"/>
<circle cx="437.94" cy="155.01" r="1.7" fill="#fff" stroke="#222" stroke-width="0.6"/>
<circle cx="434.46" cy="155.01" r="1.7" fill="#fff" stroke="#222" stroke-width="0.6"/>
<circle cx="431.07" cy="154.29" r="1.7" fill="#fff" stroke="#222" stroke-width="0.6"/>
<circle cx="427.9" cy="152.88" r="1.7" fill="#fff" stroke="#222" stroke-width="0.6"/>
<circle cx="425.09" cy="150.84" r="1.7" fill="#fff" stroke="#222" stroke-width="0.6"/>
<circle cx="422.77" cy="148.26" r="1.7" fill="#fff" stroke="#222" stroke-width="0.6"/>
<circle cx="421.04" cy="145.25" r="1.7" fill="#fff" stroke="#222" stroke-width="0.6"/>
<circle cx="419.96" cy="141.95" r="1.7" fill="#fff" stroke="#222" stroke-width="0.6"/>
<circle cx="419.6" cy="138.5" r="1.7" fill="#fff" stroke="#222" stroke-width="0.6"/>
<circle cx="419.96" cy="135.05" r="1.7" fill="#fff" stroke="#222" stroke-width="0.6"/>
<circle cx="421.04" cy="131.75" r="1.7" fill="#fff" stroke="#222" stroke-width="0.6"/>
<circle cx="422.77" cy="128.74" r="1.7" fill="#fff" stroke="#222" stroke-width="0.6"/>
<circle cx="425.09" cy="126.16" r="1.7" fill="#fff" stroke="#222" stroke-width="0.6"/>
<circle cx="427.9" cy="124.12" r="1.7" fill="#fff" stroke="#222" stroke-width="0.6"/>
<circle cx="431.07" cy="122.71" r="1.7" fill="#fff" stroke="#222" stroke-width="0.6"/>
<circle cx="434.46" cy="121.99" r="1.7" fill="#fff" stroke="#222" stroke-width="0.6"/>
<circle cx="437.94" cy="121.99" r="1.7" fill="#fff" stroke="#222" stroke-width="0.6"/>
<circle cx="441.33" cy="122.71" r="1.7" fill="#fff" stroke="#222" stroke-width="0.6"/>
<circle cx="444.5" cy="124.12" r="1.7" fill="#fff" stroke="#222" stroke-width="0.6"/>
<circle cx="447.31" cy="126.16" r="1.7" fill="#fff" stroke="#222" stroke-width="0.6"/>
<circle cx="449.63" cy="128.74" r="1.7" fill="#fff" stroke="#222" stroke-width="0.6"/>
<circle cx="451.36" cy="131.75" r="1.7" fill="#fff" stroke="#222" stroke-width="0.6"/>
<circle cx="452.44" cy="135.05" r="1.7" fill="#fff" stroke="#222" stroke-width="0.6"/>
<circle cx="448.6" cy="138.5" r="1.7" fill="#fff" stroke="#222" stroke-width="0.6"/>
<circle cx="448.1" cy="141.99" r="1.7" fill="#fff" stroke="#222" stroke-width="0.6"/>
<circle cx="446.63" cy="145.2" r="1.7" fill="#fff" stroke="#222" stroke-width="0.6"/>
<circle cx="444.32" cy="147.87" r="1.7" fill="#fff" stroke="#222" stroke-width="0.6"/>
<circle cx="441.35" cy="149.78" r="1.7" fill="#fff" stroke="#222" stroke-width="0.6"/>
<circle cx="437.96" cy="150.77" r="1.7" fill="#fff" stroke="#222" stroke-width="0.6"/>
<circle cx="434.44" cy="150.77" r="1.7" fill="#fff" stroke="#222" stroke-width="0.6"/>
<circle cx="431.05" cy="149.78" r="1.7" fill="#fff" stroke="#222" stroke-width="0.6"/>
<circle cx="428.08" cy="147.87" r="1.7" fill="#fff" stroke="#222" stroke-width="0.6"/>
<circle cx="425.77" cy="145.2" r="1.7" fill="#fff" stroke="#222" stroke-width="0.6"/>
<circle cx="424.3" cy="141.99" r="1.7" fill="#fff" stroke="#222" stroke-width="0.6"/>
<circle cx="423.8" cy="138.5" r="1.7" fill="#fff" stroke="#222" stroke-width="0.6"/>
<circle cx="424.3" cy="135.01" r="1.7" fill="#fff" stroke="#222" stroke-width="0.6"/>
<circle cx="425.77" cy="131.8" r="1.7" fill="#fff" stroke="#222" stroke-width="0.6"/>
<circle cx="428.08" cy="129.13" r="1.7" fill="#fff" stroke="#222" stroke-width="0.6"/>
<circle cx="431.05" cy="127.22" r="1.7" fill="#fff" stroke="#222" stroke-width="0.6"/>
<circle cx="434.44" cy="126.23" r="1.7" fill="#fff" stroke="#222" stroke-width="0.6"/>
<circle cx="437.96" cy="126.23" r="1.7" fill="#fff" stroke="#222" stroke-width="0.6"/>
<circle cx="441.35" cy="127.22" r="1.7" fill="#fff" stroke="#222" stroke-width="0.6"/>
<circle cx="444.32" cy="129.13" r="1.7" fill="#fff" stroke="#222" stroke-width="0.6"/>
<circle cx="446.63" cy="131.8" r="1.7" fill="#fff" stroke="#222" stroke-width="0.6"/>
<circle cx="448.1" cy="135.01" r="1.7" fill="#fff" stroke="#222" stroke-width="0.6"/>
<circle cx="444.2" cy="138.5" r="1.7" fill="#fff" stroke="#222" stroke-width="0.6"/>
<circle cx="443.41" cy="141.97" r="1.7" fill="#fff" stroke="#222" stroke-width="0.6"/>
<circle cx="441.19" cy="144.75" r="1.7" fill="#fff" stroke="#222" stroke-width="0.6"/>
<circle cx="437.98" cy="146.3" r="1.7" fill="#fff" stroke="#222" stroke-width="0.6"/>
<circle cx="434.42" cy="146.3" r="1.7" fill="#fff" stroke="#222" stroke-width="0.6"/>
<circle cx="431.21" cy="144.75" r="1.7" fill="#fff" stroke="#222" stroke-width="0.6"/>
<circle cx="428.99" cy="141.97" r="1.7" fill="#fff" stroke="#222" stroke-width="0.6"/>
<circle cx="428.2" cy="138.5" r="1.7" fill="#fff" stroke="#222" stroke-width="0.6"/>
<circle cx="428.99" cy="135.03" r="1.7" fill="#fff" stroke="#222" stroke-width="0.6"/>
<circle cx="431.21" cy="132.25" r="1.7" fill="#fff" stroke="#222" stroke-width="0.6"/>
<circle cx="434.42" cy="130.7" r="1.7" fill="#fff" stroke="#222" stroke-width="0.6"/>
<circle cx="437.98" cy="130.7" r="1.7" fill="#fff" stroke="#222" stroke-width="0.6"/>
<circle cx="441.19" cy="132.25" r="1.7" fill="#fff" stroke="#222" stroke-width="0.6"/>
<circle cx="443.41" cy="135.03" r="1.7" fill="#fff" stroke="#222" stroke-width="0.6"/>
<path d="M436.2 125.5 L447.2 138.5 L436.2 151.5 L425.2 138.5 Z" fill="rgba(40,40,40,0.45)" stroke="#222" stroke-width="0.6"/>
</g>
<path d="M457.5 141.3 L457.96 141.65 L458.59 142.09 L459.36 142.62 L460.19 143.21 L461.03 143.86 L461.81 144.55 L462.49 145.27 L463 146 L463.38 146.76 L463.71 147.59 L463.97 148.46 L464.16 149.36 L464.26 150.27 L464.28 151.2 L464.19 152.11 L464 153 L463.68 153.9 L463.22 154.82 L462.65 155.76 L462 156.69 L461.29 157.59 L460.53 158.46 L459.76 159.27 L459 160 L458.25 160.65 L457.48 161.25 L456.7 161.79 L455.88 162.28 L455.01 162.74 L454.08 163.18 L453.08 163.59 L452 164 L450.74 164.4 L449.27 164.79 L447.68 165.16 L446.06 165.5 L444.5 165.81 L443.07 166.09 L441.88 166.32 L441 166.5" fill="none" stroke="#3c3c3c" stroke-width="0.8"/>
<path d="M416 156 L421 153.5 L425 158 L421 163 L416.5 162 Z" fill="none" stroke="#3c3c3c" stroke-width="0.7"/>
<path d="M425.5 159 L430 157.5 L433 162 L428 165.5 L424.5 164 Z" fill="none" stroke="#3c3c3c" stroke-width="0.7"/>
<line x1="418" y1="157" x2="422" y2="161" stroke="#3c3c3c" stroke-width="0.5"/>
<line x1="427" y1="160" x2="430" y2="163" stroke="#3c3c3c" stroke-width="0.5"/>
<path d="M415 146 L414.66 146.71 L414.16 147.66 L413.57 148.8 L412.94 150.06 L412.31 151.38 L411.74 152.68 L411.29 153.91 L411 155 L410.89 156.02 L410.92 157.05 L411.05 158.08 L411.25 159.06 L411.48 159.98 L411.7 160.79 L411.89 161.47 L412 162" fill="none" stroke="#3c3c3c" stroke-width="0.7"/>
<path d="M448.87 93.3 L448.22 94.29 L447.45 95.07 L447.61 96.16 L447.56 97.34 L446.45 97.75 L445.37 97.94 L444.86 98.91 L444.12 99.83 L442.99 99.52 L442 99.03 L441.01 99.52 L439.88 99.83 L439.14 98.91 L438.63 97.94 L437.55 97.75 L436.44 97.34 L436.39 96.16 L436.55 95.07 L435.78 94.29 L435.13 93.3 L435.78 92.31 L436.55 91.53 L436.39 90.44 L436.44 89.26 L437.55 88.85 L438.63 88.66 L439.14 87.69 L439.88 86.77 L441.01 87.08 L442 87.57 L442.99 87.08 L444.12 86.77 L444.86 87.69 L445.37 88.66 L446.45 88.85 L447.56 89.26 L447.61 90.44 L447.45 91.53 L448.22 92.31 Z" fill="none" stroke="#1a1a1a" stroke-width="1.1"/>
<circle cx="442" cy="93.3" r="0.5" fill="none" stroke="#333" stroke-width="0.5"/>
<line x1="466" y1="95" x2="471.43" y2="95.55" stroke="#111" stroke-width="0.9"/>
<line x1="468.99" y1="95.3" x2="467.71" y2="96.26" stroke="#222" stroke-width="0.6"/>
<line x1="468.99" y1="95.3" x2="467.92" y2="94.11" stroke="#222" stroke-width="0.6"/>
<line x1="470.35" y1="95.44" x2="469.06" y2="96.39" stroke="#222" stroke-width="0.6"/>
<line x1="470.35" y1="95.44" x2="469.28" y2="94.24" stroke="#222" stroke-width="0.6"/>
<line x1="466" y1="95" x2="469.61" y2="101" stroke="#111" stroke-width="0.9"/>
<line x1="467.99" y1="98.3" x2="466.45" y2="97.84" stroke="#222" stroke-width="0.6"/>
<line x1="467.99" y1="98.3" x2="468.3" y2="96.73" stroke="#222" stroke-width="0.6"/>
<line x1="468.89" y1="99.8" x2="467.36" y2="99.34" stroke="#222" stroke-width="0.6"/>
<line x1="468.89" y1="99.8" x2="469.21" y2="98.23" stroke="#222" stroke-width="0.6"/>
<line x1="466" y1="95" x2="466.42" y2="101.47" stroke="#111" stroke-width="0.9"/>
<line x1="466.23" y1="98.56" x2="465.07" y2="97.45" stroke="#222" stroke-width="0.6"/>
<line x1="466.23" y1="98.56" x2="467.23" y2="97.31" stroke="#222" stroke-width="0.6"/>
<line x1="466.33" y1="100.18" x2="465.18" y2="99.07" stroke="#222" stroke-width="0.6"/>
<line x1="466.33" y1="100.18" x2="467.34" y2="98.93" stroke="#222" stroke-width="0.6"/>
<line x1="466" y1="95" x2="463.6" y2="100.47" stroke="#111" stroke-width="0.9"/>
<line x1="464.68" y1="98.01" x2="464.16" y2="96.49" stroke="#222" stroke-width="0.6"/>
<line x1="464.68" y1="98.01" x2="466.14" y2="97.36" stroke="#222" stroke-width="0.6"/>
<line x1="464.08" y1="99.37" x2="463.56" y2="97.86" stroke="#222" stroke-width="0.6"/>
<line x1="464.08" y1="99.37" x2="465.54" y2="98.73" stroke="#222" stroke-width="0.6"/>
<line x1="466" y1="95" x2="460.68" y2="96.24" stroke="#111" stroke-width="0.9"/>
<line x1="463.07" y1="95.68" x2="463.98" y2="94.36" stroke="#222" stroke-width="0.6"/>
<line x1="463.07" y1="95.68" x2="464.47" y2="96.47" stroke="#222" stroke-width="0.6"/>
<line x1="461.75" y1="95.99" x2="462.65" y2="94.67" stroke="#222" stroke-width="0.6"/>
<line x1="461.75" y1="95.99" x2="463.14" y2="96.77" stroke="#222" stroke-width="0.6"/>
<line x1="466" y1="95" x2="459.22" y2="93.27" stroke="#111" stroke-width="0.9"/>
<line x1="462.27" y1="94.05" x2="463.68" y2="93.29" stroke="#222" stroke-width="0.6"/>
<line x1="462.27" y1="94.05" x2="463.15" y2="95.39" stroke="#222" stroke-width="0.6"/>
<line x1="460.57" y1="93.61" x2="461.98" y2="92.86" stroke="#222" stroke-width="0.6"/>
<line x1="460.57" y1="93.61" x2="461.45" y2="94.95" stroke="#222" stroke-width="0.6"/>
<line x1="466" y1="95" x2="461.16" y2="90.68" stroke="#111" stroke-width="0.9"/>
<line x1="463.34" y1="92.63" x2="464.94" y2="92.6" stroke="#222" stroke-width="0.6"/>
<line x1="463.34" y1="92.63" x2="463.5" y2="94.22" stroke="#222" stroke-width="0.6"/>
<line x1="462.13" y1="91.55" x2="463.73" y2="91.52" stroke="#222" stroke-width="0.6"/>
<line x1="462.13" y1="91.55" x2="462.29" y2="93.14" stroke="#222" stroke-width="0.6"/>
<line x1="466" y1="95" x2="466.51" y2="89.05" stroke="#111" stroke-width="0.9"/>
<line x1="466.28" y1="91.73" x2="467.26" y2="92.99" stroke="#222" stroke-width="0.6"/>
<line x1="466.28" y1="91.73" x2="465.1" y2="92.81" stroke="#222" stroke-width="0.6"/>
<line x1="466.41" y1="90.24" x2="467.39" y2="91.51" stroke="#222" stroke-width="0.6"/>
<line x1="466.41" y1="90.24" x2="465.23" y2="91.32" stroke="#222" stroke-width="0.6"/>
<line x1="466" y1="95" x2="468.92" y2="90.39" stroke="#111" stroke-width="0.9"/>
<line x1="467.61" y1="92.46" x2="467.89" y2="94.04" stroke="#222" stroke-width="0.6"/>
<line x1="467.61" y1="92.46" x2="466.06" y2="92.88" stroke="#222" stroke-width="0.6"/>
<line x1="468.34" y1="91.31" x2="468.62" y2="92.88" stroke="#222" stroke-width="0.6"/>
<line x1="468.34" y1="91.31" x2="466.79" y2="91.73" stroke="#222" stroke-width="0.6"/>
<line x1="466" y1="95" x2="472.05" y2="91.47" stroke="#111" stroke-width="0.9"/>
<line x1="469.33" y1="93.06" x2="468.85" y2="94.59" stroke="#222" stroke-width="0.6"/>
<line x1="469.33" y1="93.06" x2="467.76" y2="92.72" stroke="#222" stroke-width="0.6"/>
<line x1="470.84" y1="92.18" x2="470.36" y2="93.71" stroke="#222" stroke-width="0.6"/>
<line x1="470.84" y1="92.18" x2="469.27" y2="91.84" stroke="#222" stroke-width="0.6"/>
<circle cx="466" cy="95" r="1.2" fill="#111" stroke="#111" stroke-width="0.5"/>
<circle cx="474.6" cy="96.4" r="5.8" fill="#3a3a3a" stroke="#111" stroke-width="0.9"/>
<line x1="477.59" y1="95.19" x2="476.91" y2="96.86" stroke="#fff" stroke-width="0.7"/>
<line x1="472.53" y1="96.19" x2="471.81" y2="97.84" stroke="#fff" stroke-width="0.7"/>
<line x1="476.1" y1="94.99" x2="474.32" y2="95.28" stroke="#fff" stroke-width="0.7"/>
<line x1="471.82" y1="95.82" x2="470.54" y2="97.09" stroke="#fff" stroke-width="0.7"/>
<line x1="475.74" y1="93.75" x2="476.37" y2="95.44" stroke="#fff" stroke-width="0.7"/>
<line x1="477.02" y1="91.36" x2="477.11" y2="93.16" stroke="#fff" stroke-width="0.7"/>
<line x1="476.42" y1="98.91" x2="478" y2="99.76" stroke="#fff" stroke-width="0.7"/>
<line x1="477.85" y1="92.22" x2="477.09" y2="93.85" stroke="#fff" stroke-width="0.7"/>
<line x1="477.95" y1="92.83" x2="476.4" y2="93.73" stroke="#fff" stroke-width="0.7"/>
<line x1="472.34" y1="99.24" x2="470.54" y2="99.31" stroke="#fff" stroke-width="0.7"/>
<line x1="477.26" y1="92.81" x2="476" y2="94.09" stroke="#fff" stroke-width="0.7"/>
<line x1="477.81" y1="94.18" x2="479.44" y2="94.92" stroke="#fff" stroke-width="0.7"/>
<line x1="478.71" y1="94.54" x2="477.01" y2="95.15" stroke="#fff" stroke-width="0.7"/>
<line x1="477.56" y1="96.77" x2="475.79" y2="97.06" stroke="#fff" stroke-width="0.7"/>
<line x1="471.28" y1="96.79" x2="469.75" y2="97.74" stroke="#fff" stroke-width="0.7"/>
<line x1="472.76" y1="96.45" x2="471.41" y2="97.65" stroke="#fff" stroke-width="0.7"/>
<line x1="476.26" y1="95.09" x2="477.14" y2="96.66" stroke="#fff" stroke-width="0.7"/>
<line x1="477.98" y1="93.96" x2="476.41" y2="94.86" stroke="#fff" stroke-width="0.7"/>
<path d="M438 118 L438.03 117.03 L438.04 115.68 L438.06 114.08 L438.09 112.33 L438.14 110.53 L438.24 108.8 L438.39 107.26 L438.6 106 L438.86 105.01 L439.13 104.16 L439.44 103.43 L439.8 102.81 L440.22 102.25 L440.72 101.75 L441.31 101.27 L442 100.8 L442.83 100.32 L443.79 99.86 L444.85 99.44 L445.99 99.06 L447.16 98.74 L448.34 98.5 L449.5 98.35 L450.6 98.3 L451.65 98.39 L452.66 98.61 L453.67 98.93 L454.68 99.32 L455.7 99.75 L456.76 100.2 L457.85 100.62 L459 101 L460.23 101.38 L461.52 101.82 L462.87 102.29 L464.24 102.74 L465.62 103.16 L466.97 103.49 L468.27 103.72 L469.5 103.8 L470.69 103.74 L471.88 103.57 L473.05 103.3 L474.19 102.95 L475.27 102.53 L476.27 102.06 L477.19 101.54 L478 101 L478.69 100.38 L479.27 99.65 L479.77 98.85 L480.19 98.01 L480.55 97.17 L480.88 96.36 L481.19 95.63 L481.5 95 L481.79 94.46 L482.05 93.97 L482.27 93.52 L482.47 93.12 L482.64 92.77 L482.78 92.47 L482.9 92.21 L483 92" fill="none" stroke="#3c3c3c" stroke-width="0.8"/>
<path d="M440.5 117 L440.52 116.19 L440.53 115.06 L440.54 113.72 L440.56 112.25 L440.61 110.75 L440.69 109.31 L440.81 108.03 L441 107 L441.23 106.2 L441.49 105.54 L441.78 104.98 L442.12 104.51 L442.5 104.1 L442.94 103.73 L443.44 103.37 L444 103 L444.64 102.61 L445.35 102.21 L446.13 101.83 L446.96 101.48 L447.83 101.19 L448.74 100.96 L449.66 100.83 L450.6 100.8 L451.55 100.9 L452.52 101.13 L453.53 101.45 L454.56 101.84 L455.62 102.26 L456.71 102.7 L457.84 103.12 L459 103.5 L460.21 103.88 L461.48 104.32 L462.78 104.79 L464.12 105.24 L465.47 105.66 L466.83 105.99 L468.17 106.22 L469.5 106.3 L470.86 106.24 L472.28 106.08 L473.72 105.82 L475.16 105.48 L476.54 105.07 L477.83 104.59 L479 104.07 L480 103.5 L480.81 102.84 L481.46 102.06 L481.98 101.2 L482.41 100.29 L482.79 99.38 L483.15 98.5 L483.54 97.69 L484 97 L484.31 96.4 L484.34 95.83 L484.27 95.31 L484.25 94.84 L484.45 94.42 L485.03 94.06 L486.16 93.75 L488 93.5 L490.88 93.33 L494.78 93.25 L499.36 93.24 L504.25 93.28 L509.11 93.35 L513.59 93.42 L517.34 93.48 L520 93.5" fill="none" stroke="#3c3c3c" stroke-width="0.7"/>
<path d="M485 100 L485.53 99.54 L486.23 99.09 L487.07 98.68 L488 98.31 L488.99 98 L490.02 97.75 L491.03 97.58 L492 97.5 L492.95 97.53 L493.93 97.67 L494.93 97.9 L495.94 98.19 L496.96 98.52 L497.98 98.86 L498.99 99.2 L500 99.5 L501.01 99.78 L502.05 100.05 L503.09 100.33 L504.12 100.62 L505.15 100.93 L506.14 101.26 L507.1 101.61 L508 102 L508.84 102.42 L509.62 102.87 L510.35 103.35 L511.06 103.84 L511.76 104.36 L512.48 104.89 L513.22 105.44 L514 106 L514.83 106.56 L515.7 107.13 L516.6 107.71 L517.5 108.31 L518.4 108.93 L519.3 109.59 L520.17 110.27 L521 111 L521.85 111.78 L522.73 112.61 L523.63 113.48 L524.5 114.38 L525.31 115.29 L526.02 116.2 L526.59 117.11 L527 118 L527.26 118.9 L527.41 119.84 L527.45 120.8 L527.38 121.75 L527.2 122.67 L526.91 123.53 L526.51 124.32 L526 125 L525.33 125.6 L524.49 126.15 L523.51 126.64 L522.44 127.06 L521.31 127.42 L520.16 127.7 L519.05 127.89 L518 128 L516.99 128.01 L515.95 127.92 L514.91 127.75 L513.88 127.5 L512.85 127.19 L511.86 126.83 L510.9 126.43 L510 126 L509.13 125.54 L508.29 125.03 L507.47 124.48 L506.69 123.88 L505.94 123.23 L505.24 122.53 L504.59 121.79 L504 121 L503.5 120.11 L503.11 119.08 L502.79 117.98 L502.5 116.84 L502.21 115.73 L501.89 114.68 L501.5 113.76 L501 113 L500.4 112.41 L499.73 111.94 L499.01 111.57 L498.25 111.28 L497.46 111.05 L496.64 110.86 L495.82 110.68 L495 110.5 L494.15 110.37 L493.23 110.34 L492.27 110.36 L491.31 110.41 L490.38 110.43 L489.49 110.39 L488.69 110.26 L488 110 L487.41 109.59 L486.9 109.07 L486.45 108.45 L486.06 107.78 L485.73 107.07 L485.45 106.36 L485.2 105.66 L485 105 L484.81 104.36 L484.62 103.69 L484.47 103.02 L484.38 102.34 L484.36 101.69 L484.44 101.07 L484.64 100.51 Z" fill="none" stroke="#3c3c3c" stroke-width="0.8"/>
<path d="M489 102 L489.28 101.62 L489.73 101.3 L490.32 101.03 L491 100.81 L491.74 100.65 L492.52 100.55 L493.28 100.5 L494 100.5 L494.7 100.58 L495.41 100.73 L496.13 100.95 L496.88 101.22 L497.63 101.52 L498.41 101.85 L499.2 102.18 L500 102.5 L500.84 102.82 L501.73 103.14 L502.64 103.49 L503.56 103.84 L504.48 104.22 L505.37 104.62 L506.21 105.05 L507 105.5 L507.72 105.99 L508.39 106.51 L509.02 107.06 L509.62 107.62 L510.21 108.21 L510.8 108.8 L511.39 109.4 L512 110 L512.62 110.6 L513.25 111.21 L513.88 111.84 L514.5 112.47 L515.12 113.1 L515.75 113.74 L516.38 114.37 L517 115 L517.67 115.63 L518.41 116.27 L519.18 116.92 L519.94 117.56 L520.64 118.2 L521.24 118.82 L521.71 119.42 L522 120 L522.12 120.58 L522.11 121.18 L521.98 121.77 L521.75 122.34 L521.42 122.87 L521.02 123.34 L520.54 123.72 L520 124 L519.35 124.18 L518.55 124.29 L517.65 124.32 L516.69 124.28 L515.7 124.18 L514.73 124.01 L513.81 123.78 L513 123.5 L512.27 123.15 L511.56 122.74 L510.89 122.26 L510.25 121.72 L509.64 121.12 L509.06 120.46 L508.52 119.76 L508 119 L507.56 118.14 L507.23 117.14 L506.95 116.06 L506.69 114.94 L506.4 113.82 L506.05 112.77 L505.6 111.81 L505 111 L504.23 110.33 L503.3 109.74 L502.28 109.23 L501.19 108.78 L500.07 108.4 L498.98 108.06 L497.94 107.76 L497 107.5 L496.13 107.32 L495.27 107.27 L494.43 107.29 L493.62 107.34 L492.87 107.39 L492.17 107.37 L491.54 107.26 L491 107 L490.51 106.57 L490.05 105.98 L489.65 105.3 L489.31 104.56 L489.06 103.82 L488.91 103.11 L488.89 102.49 Z" fill="none" stroke="#3c3c3c" stroke-width="0.7"/>
<ellipse cx="517" cy="116" rx="2.8" ry="5.5" transform="rotate(20 517 116)" fill="none" stroke="#222" stroke-width="0.8"/>
<line x1="517" y1="111" x2="517" y2="121" stroke="#3c3c3c" stroke-width="0.6"/>
<line x1="512" y1="98" x2="520" y2="108" stroke="#222" stroke-width="0.7"/>
<line x1="514" y1="96" x2="524" y2="104" stroke="#222" stroke-width="0.7"/>
<line x1="516" y1="100" x2="526" y2="112" stroke="#222" stroke-width="0.7"/>
<line x1="520" y1="96" x2="528" y2="100" stroke="#222" stroke-width="0.7"/>
<line x1="510" y1="104" x2="516" y2="112" stroke="#222" stroke-width="0.7"/>
<line x1="518" y1="106" x2="524" y2="114" stroke="#222" stroke-width="0.7"/>
<line x1="512" y1="100" x2="508" y2="108" stroke="#222" stroke-width="0.7"/>
<line x1="522" y1="102" x2="530" y2="110" stroke="#222" stroke-width="0.7"/>
<path d="M516 96 L516.34 96.29 L516.84 96.67 L517.43 97.12 L518.06 97.62 L518.69 98.18 L519.26 98.77 L519.71 99.38 L520 100 L520.08 100.67 L519.98 101.41 L519.77 102.19 L519.5 103 L519.23 103.81 L519.02 104.59 L518.92 105.33 L519 106 L519.3 106.58 L519.79 107.09 L520.4 107.56 L521.06 108 L521.72 108.44 L522.3 108.91 L522.75 109.42 L523 110 L523.02 110.7 L522.88 111.5 L522.6 112.37 L522.25 113.25 L521.87 114.1 L521.5 114.88 L521.2 115.52 L521 116" fill="none" stroke="#222" stroke-width="0.8"/>
<path d="M511 97 L511.35 97.38 L511.86 97.88 L512.47 98.46 L513.12 99.12 L513.76 99.83 L514.33 100.56 L514.76 101.29 L515 102 L515 102.72 L514.78 103.48 L514.43 104.26 L514 105.06 L513.57 105.85 L513.22 106.62 L513 107.34 L513 108 L513.24 108.62 L513.67 109.23 L514.24 109.82 L514.88 110.38 L515.53 110.88 L516.14 111.33 L516.65 111.71 L517 112" fill="none" stroke="#222" stroke-width="0.8"/>
<path d="M516.69 107.87 Q515.2 111.16 513.61 113.4" fill="none" stroke="#222" stroke-width="0.9"/>
<path d="M512.14 106.77 Q509.56 109.57 511.84 114.73" fill="none" stroke="#222" stroke-width="0.9"/>
<path d="M510.54 113.62 Q513.14 118.49 509.96 117.79" fill="none" stroke="#222" stroke-width="0.9"/>
<path d="M520.12 109.16 Q521.63 108.05 522.8 112.22" fill="none" stroke="#222" stroke-width="0.9"/>
<path d="M512.23 100.56 Q514.4 104.53 517.27 104.38" fill="none" stroke="#222" stroke-width="0.9"/>
<path d="M517.83 109.73 Q518.19 112 519.07 116.93" fill="none" stroke="#222" stroke-width="0.9"/>
<path d="M525.96 117.9 Q523.48 119.79 523.21 124.92" fill="none" stroke="#222" stroke-width="0.9"/>
<path d="M513.91 96.62 Q515.24 98.84 512.4 102.42" fill="none" stroke="#222" stroke-width="0.9"/>
<path d="M525.29 114.49 Q529.83 115.74 529.45 117.34" fill="none" stroke="#222" stroke-width="0.9"/>
<path d="M525.67 104.14 Q530.03 105.11 531.05 108.84" fill="none" stroke="#222" stroke-width="0.9"/>
<path d="M510.48 102.65 Q506.08 104.4 506.27 109.2" fill="none" stroke="#222" stroke-width="0.9"/>
<path d="M510.72 96.38 Q510.34 98.39 509.25 101.04" fill="none" stroke="#222" stroke-width="0.9"/>
<path d="M512.24 111.83 Q512.43 113.97 517.22 117.06" fill="none" stroke="#222" stroke-width="0.9"/>
<path d="M512.62 101.21 Q509.24 106.86 508.21 107.9" fill="none" stroke="#222" stroke-width="0.9"/>
<circle cx="497.4" cy="92.3" r="1.6" fill="none" stroke="#3c3c3c" stroke-width="0.6"/>
<circle cx="509" cy="92.3" r="1.6" fill="none" stroke="#3c3c3c" stroke-width="0.6"/>
<circle cx="522" cy="92.3" r="1.6" fill="none" stroke="#3c3c3c" stroke-width="0.6"/>
<circle cx="532.7" cy="92.3" r="1.6" fill="none" stroke="#3c3c3c" stroke-width="0.6"/>
<circle cx="543" cy="92.3" r="1.6" fill="none" stroke="#3c3c3c" stroke-width="0.6"/>
<path d="M528 102.4 L528.39 102.97 L528.92 103.71 L529.55 104.59 L530.25 105.58 L530.98 106.64 L531.7 107.75 L532.39 108.88 L533 110 L533.55 111.11 L534.09 112.26 L534.62 113.44 L535.12 114.66 L535.62 115.92 L536.09 117.23 L536.55 118.59 L537 120 L537.44 121.48 L537.88 123.03 L538.31 124.64 L538.73 126.29 L539.11 127.97 L539.46 129.66 L539.76 131.34 L540 133 L540.18 134.74 L540.29 136.62 L540.36 138.55 L540.39 140.46 L540.39 142.27 L540.39 143.9 L540.39 145.27 L540.4 146.3" fill="none" stroke="#3c3c3c" stroke-width="0.8"/>
<path d="M525.4 103 L525.79 103.57 L526.32 104.31 L526.95 105.19 L527.65 106.17 L528.38 107.24 L529.1 108.35 L529.79 109.48 L530.4 110.6 L530.95 111.71 L531.49 112.86 L532.02 114.04 L532.52 115.26 L533.02 116.52 L533.49 117.83 L533.95 119.19 L534.4 120.6 L534.84 122.08 L535.28 123.63 L535.71 125.24 L536.12 126.89 L536.51 128.57 L536.86 130.26 L537.16 131.94 L537.4 133.6 L537.58 135.34 L537.69 137.22 L537.76 139.15 L537.79 141.06 L537.79 142.87 L537.79 144.5 L537.79 145.87 L537.8 146.9" fill="none" stroke="#3c3c3c" stroke-width="0.7"/>
<path d="M531 100 Q538.96 98.62 545.67 103.12 Q537.71 104.49 531 100" fill="none" stroke="#222" stroke-width="0.7"/>
<path d="M531 100 Q541.07 102.76 547.96 110.6 Q537.89 107.84 531 100" fill="none" stroke="#222" stroke-width="0.7"/>
<path d="M531 100 Q540.14 106.82 544.54 117.34 Q535.41 110.52 531 100" fill="none" stroke="#222" stroke-width="0.7"/>
<path d="M531 100 Q536.48 107.16 536.25 116.17 Q530.77 109.01 531 100" fill="none" stroke="#222" stroke-width="0.7"/>
<path d="M531 100 Q537.51 96.05 544.86 98.05 Q538.35 102 531 100" fill="none" stroke="#222" stroke-width="0.7"/>
<path d="M531 100 Q534.89 94.53 541.6 94.37 Q537.71 99.83 531 100" fill="none" stroke="#222" stroke-width="0.7"/>
<path d="M531 100 Q533.47 106.24 529.95 111.95 Q527.49 105.72 531 100" fill="none" stroke="#222" stroke-width="0.7"/>
<line x1="531.5" y1="91" x2="531.5" y2="79.5" stroke="#222" stroke-width="0.8"/>
<line x1="533" y1="91" x2="533" y2="80" stroke="#222" stroke-width="0.8"/>
<path d="M532 80 L531.76 79.65 L531.44 79.14 L531.05 78.53 L530.62 77.88 L530.18 77.24 L529.75 76.67 L529.35 76.24 L529 76 L528.68 75.95 L528.36 76.03 L528.04 76.22 L527.75 76.5 L527.49 76.84 L527.27 77.22 L527.1 77.61 L527 78 L526.99 78.43 L527.06 78.95 L527.2 79.53 L527.38 80.12 L527.57 80.71 L527.75 81.23 L527.9 81.68 L528 82" fill="none" stroke="#222" stroke-width="0.8"/>
<path d="M532 80 L531.81 79.42 L531.52 78.6 L531.18 77.62 L530.81 76.56 L530.47 75.49 L530.2 74.49 L530.02 73.64 L530 73 L530.14 72.55 L530.42 72.21 L530.8 71.97 L531.25 71.81 L531.73 71.75 L532.2 71.76 L532.64 71.84 L533 72 L533.31 72.29 L533.62 72.74 L533.91 73.31 L534.19 73.94 L534.44 74.57 L534.66 75.16 L534.85 75.66 L535 76" fill="none" stroke="#222" stroke-width="0.8"/>
<path d="M532 80 L532.32 79.48 L532.77 78.71 L533.29 77.79 L533.88 76.81 L534.47 75.85 L535.05 75.01 L535.57 74.36 L536 74 L536.36 73.96 L536.69 74.19 L536.98 74.6 L537.25 75.12 L537.48 75.7 L537.69 76.25 L537.86 76.71 L538 77" fill="none" stroke="#222" stroke-width="0.8"/>
<path d="M534 86 L534.4 85.59 L534.95 85.01 L535.6 84.32 L536.31 83.56 L537.05 82.8 L537.77 82.09 L538.44 81.47 L539 81 L539.5 80.65 L540.01 80.35 L540.49 80.11 L540.94 79.94 L541.33 79.83 L541.65 79.8 L541.88 79.86 L542 80 L542 80.27 L541.9 80.67 L541.7 81.18 L541.44 81.75 L541.12 82.35 L540.76 82.95 L540.38 83.51 L540 84 L539.57 84.44 L539.05 84.89 L538.47 85.33 L537.88 85.75 L537.29 86.14 L536.77 86.48 L536.32 86.78 L536 87" fill="none" stroke="#222" stroke-width="0.8"/>
<line x1="538" y1="83" x2="541" y2="79" stroke="#3c3c3c" stroke-width="0.7"/>
<line x1="539" y1="84" x2="543" y2="82" stroke="#3c3c3c" stroke-width="0.7"/>
<path d="M548 100 L548.23 99.61 L548.54 99.1 L548.91 98.49 L549.31 97.81 L549.74 97.09 L550.18 96.37 L550.6 95.66 L551 95 L551.38 94.35 L551.75 93.68 L552.12 92.99 L552.5 92.31 L552.88 91.66 L553.25 91.04 L553.62 90.48 L554 90 L554.4 89.59 L554.82 89.24 L555.26 88.94 L555.69 88.69 L556.09 88.47 L556.46 88.29 L556.77 88.13 L557 88" fill="none" stroke="#222" stroke-width="0.8"/>
<path d="M549 98 L549.4 97.94 L549.95 97.87 L550.6 97.79 L551.31 97.69 L552.05 97.57 L552.77 97.41 L553.44 97.23 L554 97 L554.49 96.7 L554.96 96.32 L555.4 95.89 L555.81 95.44 L556.18 94.99 L556.51 94.59 L556.78 94.25 L557 94" fill="none" stroke="#222" stroke-width="0.8"/>
<path d="M550 94 L549.81 93.68 L549.52 93.26 L549.18 92.75 L548.81 92.19 L548.47 91.6 L548.2 91.02 L548.02 90.48 L548 90 L548.16 89.56 L548.47 89.11 L548.89 88.67 L549.38 88.25 L549.88 87.86 L550.34 87.52 L550.73 87.22 L551 87" fill="none" stroke="#222" stroke-width="0.8"/>
<path d="M552 96 L552.27 96.32 L552.66 96.74 L553.12 97.25 L553.62 97.81 L554.11 98.4 L554.53 98.98 L554.84 99.52 L555 100 L555 100.44 L554.88 100.87 L554.66 101.29 L554.38 101.69 L554.04 102.07 L553.69 102.41 L553.33 102.73 L553 103 L552.65 103.23 L552.25 103.41 L551.82 103.57 L551.38 103.69 L550.95 103.79 L550.56 103.87 L550.24 103.94 L550 104" fill="none" stroke="#222" stroke-width="0.8"/>
<circle cx="552" cy="104.5" r="1" fill="#333" stroke="#222" stroke-width="0.6"/>
<ellipse cx="509.8" cy="138.8" rx="6.8" ry="3.7" transform="rotate(8 509.8 138.8)" fill="none" stroke="#3c3c3c" stroke-width="0.8"/>
<line x1="459" y1="118.4" x2="489" y2="118.4" stroke="#3c3c3c" stroke-width="0.7"/>
<line x1="475" y1="120.6" x2="495" y2="120.6" stroke="#3c3c3c" stroke-width="0.7"/>
<line x1="468" y1="129" x2="508" y2="129" stroke="#3c3c3c" stroke-width="0.7"/>
<line x1="463" y1="136.3" x2="478" y2="136.3" stroke="#3c3c3c" stroke-width="0.7"/>
<line x1="470" y1="138.3" x2="489" y2="138.3" stroke="#3c3c3c" stroke-width="0.7"/>
<line x1="473" y1="140.6" x2="496" y2="140.6" stroke="#3c3c3c" stroke-width="0.7"/>
<line x1="470" y1="148" x2="481" y2="148" stroke="#3c3c3c" stroke-width="0.7"/>
<circle cx="539" cy="151" r="6" fill="#3a3a3a" stroke="#111" stroke-width="0.9"/>
<line x1="540.79" y1="149.16" x2="542.47" y2="149.81" stroke="#fff" stroke-width="0.7"/>
<line x1="535.85" y1="152.46" x2="534.68" y2="153.82" stroke="#fff" stroke-width="0.7"/>
<line x1="540.79" y1="146.68" x2="542.39" y2="147.5" stroke="#fff" stroke-width="0.7"/>
<line x1="539.46" y1="150.41" x2="539.59" y2="152.21" stroke="#fff" stroke-width="0.7"/>
<line x1="537.99" y1="145.99" x2="539.55" y2="146.88" stroke="#fff" stroke-width="0.7"/>
<line x1="540.99" y1="151.79" x2="539.19" y2="151.82" stroke="#fff" stroke-width="0.7"/>
<line x1="533.64" y1="149.92" x2="535.34" y2="150.52" stroke="#fff" stroke-width="0.7"/>
<line x1="535.71" y1="147.94" x2="533.95" y2="148.29" stroke="#fff" stroke-width="0.7"/>
<line x1="538.35" y1="148.54" x2="540.02" y2="149.2" stroke="#fff" stroke-width="0.7"/>
<line x1="543.75" y1="148.24" x2="542.83" y2="149.78" stroke="#fff" stroke-width="0.7"/>
<line x1="535.95" y1="147.89" x2="535.61" y2="149.66" stroke="#fff" stroke-width="0.7"/>
<line x1="535.63" y1="148.71" x2="537.43" y2="148.71" stroke="#fff" stroke-width="0.7"/>
<line x1="536.59" y1="151.3" x2="538.08" y2="152.31" stroke="#fff" stroke-width="0.7"/>
<line x1="537.45" y1="153.26" x2="538.97" y2="154.24" stroke="#fff" stroke-width="0.7"/>
<line x1="538.68" y1="154.88" x2="538.13" y2="156.59" stroke="#fff" stroke-width="0.7"/>
<line x1="538.91" y1="154.82" x2="540.53" y2="155.61" stroke="#fff" stroke-width="0.7"/>
<line x1="538.96" y1="153.96" x2="538.88" y2="155.75" stroke="#fff" stroke-width="0.7"/>
<line x1="538.45" y1="150.27" x2="536.76" y2="150.9" stroke="#fff" stroke-width="0.7"/>
<line x1="540.93" y1="147.27" x2="541.52" y2="148.97" stroke="#fff" stroke-width="0.7"/>
<path d="M441.2 166.5 L467.9 176.9 L464.9 189.5 L437.5 179.1 Z" fill="none" stroke="#3c3c3c" stroke-width="0.85"/>
<line x1="441" y1="168.2" x2="467.3" y2="178.5" stroke="#3c3c3c" stroke-width="0.7"/>
<line x1="438.2" y1="177.4" x2="465.3" y2="187.8" stroke="#3c3c3c" stroke-width="0.7"/>
<path d="M469.6 176.6 L470.08 176.75 L470.55 176.9 L471.03 177.04 L471.51 177.19 L471.99 177.33 L472.47 177.48 L472.94 177.63 L473.42 177.79 L473.89 177.95 L474.36 178.11 L474.83 178.29 L475.3 178.47 L475.76 178.66 L476.22 178.87 L476.67 179.09 L477.11 179.32 L477.55 179.56 L477.98 179.81 L478.4 180.07 L478.83 180.34 L479.24 180.62 L479.66 180.9 L480.06 181.19 L480.46 181.49 L480.86 181.79 L481.25 182.11 L481.64 182.42 L482.02 182.75 L482.39 183.08 L482.76 183.42 L483.13 183.75 L483.49 184.1 L483.85 184.45 L484.2 184.8 L484.55 185.17 L484.88 185.54 L485.2 185.92 L485.5 186.32 L485.79 186.73 L486.05 187.15 L486.3 187.59 L486.52 188.04 L486.72 188.5 L486.9 188.96 L487.06 189.44 L487.2 189.92 L487.33 190.4 L487.43 190.89 L487.52 191.38 L487.59 191.88 L487.65 192.37 L487.69 192.87 L487.73 193.37 L487.76 193.87 L487.78 194.37 L487.8 194.87 L487.8 195.37 L487.79 195.87 L487.76 196.37 L487.73 196.87 L487.69 197.36 L487.64 197.86 L487.58 198.36 L487.53 198.86 L487.47 199.35 L487.41 199.85 L487.35 200.34 L487.29 200.84 L487.23 201.34 L487.17 201.83 L487.12 202.33 L487.07 202.83 L487.03 203.33 L486.99 203.83 L486.96 204.32 L486.94 204.82 L486.92 205.32 L486.93 205.82 L486.93 206.32 L486.97 206.82 L487 207.32 L487.07 207.82 L487.14 208.31 L487.23 208.8 L487.32 209.29 L487.43 209.78 L487.55 210.27 L487.68 210.75 L487.81 211.23 L487.95 211.71 L488.11 212.19 L488.26 212.66 L488.43 213.14 L488.6 213.61 L488.78 214.07 L488.96 214.54 L489.16 215 L489.35 215.46 L489.55 215.92 L489.76 216.37 L489.97 216.82 L490.19 217.27 L490.42 217.72 L490.65 218.16 L490.92 218.59 L491.19 219 L491.48 219.41 L491.79 219.81 L492.1 220.19 L492.43 220.57 L492.76 220.94 L493.1 221.31 L493.44 221.68 L493.78 222.04 L494.12 222.42 L494.44 222.79 L494.76 223.18 L495.06 223.58 L495.37 223.98 L495.69 224.36 L496.02 224.73 L496.36 225.1 L496.69 225.48 L497 225.86 L497.29 226.27 L497.55 226.7 L497.77 227.15 L497.95 227.62 L498.09 228.09 L498.21 228.58 L498.3 229.07 L498.37 229.57 L498.43 230.06 L498.47 230.56 L498.5 231.06 L498.53 231.56 L498.55 232.06 L498.57 232.56 L498.58 233.06 L498.59 233.56 L498.6 234.06 L498.6 234.56 L498.6 235.06 L498.6 235.56 L498.6 236.06 L498.6 236.56 L498.6 237.06 L498.59 237.56 L498.59 238.06 L498.59 238.56 L498.59 239.06" fill="none" stroke="#3c3c3c" stroke-width="0.8"/>
<path d="M465 188.6 L465.47 188.76 L465.95 188.91 L466.43 189.07 L466.9 189.22 L467.38 189.38 L467.85 189.55 L468.32 189.72 L468.78 189.91 L469.24 190.11 L469.69 190.33 L470.12 190.57 L470.55 190.84 L470.96 191.11 L471.38 191.4 L471.78 191.69 L472.17 192 L472.55 192.32 L472.93 192.66 L473.29 193 L473.64 193.36 L473.97 193.73 L474.29 194.12 L474.6 194.51 L474.89 194.91 L475.17 195.33 L475.44 195.75 L475.69 196.18 L475.94 196.62 L476.17 197.06 L476.38 197.51 L476.59 197.97 L476.78 198.43 L476.96 198.9 L477.13 199.37 L477.28 199.84 L477.42 200.32 L477.54 200.81 L477.65 201.3 L477.74 201.79 L477.82 202.28 L477.9 202.78 L477.97 203.27 L478.04 203.77 L478.1 204.26 L478.17 204.76 L478.23 205.25 L478.28 205.75 L478.32 206.25 L478.35 206.75 L478.38 207.25 L478.41 207.75 L478.43 208.25 L478.45 208.75 L478.47 209.25 L478.5 209.75 L478.52 210.25 L478.55 210.74 L478.58 211.24 L478.62 211.74 L478.66 212.24 L478.7 212.74 L478.76 213.24 L478.82 213.73 L478.9 214.23 L478.98 214.72 L479.07 215.21 L479.18 215.7 L479.3 216.18 L479.43 216.67 L479.57 217.15 L479.71 217.63 L479.86 218.1 L480.02 218.58 L480.18 219.05 L480.35 219.52 L480.52 219.99 L480.7 220.46 L480.88 220.92 L481.07 221.39 L481.26 221.85 L481.45 222.31 L481.65 222.77 L481.85 223.23 L482.06 223.68 L482.26 224.14 L482.48 224.59 L482.7 225.04 L482.92 225.49 L483.15 225.93 L483.39 226.37 L483.63 226.81 L483.9 227.23 L484.18 227.64 L484.48 228.04 L484.8 228.43 L485.14 228.79 L485.5 229.14 L485.87 229.48 L486.24 229.81 L486.61 230.15 L486.98 230.48 L487.34 230.83 L487.68 231.19 L488.03 231.56 L488.37 231.92 L488.71 232.28 L489.06 232.65 L489.41 233.01 L489.76 233.36 L490.11 233.72 L490.46 234.07 L490.82 234.42 L491.19 234.76 L491.55 235.1 L491.93 235.43 L492.31 235.76 L492.69 236.08 L493.08 236.39 L493.47 236.71 L493.87 237.01 L494.26 237.32 L494.66 237.62 L495.06 237.92 L495.46 238.21 L495.87 238.51 L496.27 238.81 L496.67 239.1 L497.07 239.4" fill="none" stroke="#3c3c3c" stroke-width="0.8"/>
<path d="M469.06 178 L470.02 178.3 L471.4 178.71 L472.35 179.01 L473.72 179.47 L474.66 179.82 L475.97 180.42 L476.85 180.89 L478.13 181.67 L478.96 182.23 L480.11 183.09 L480.88 183.72 L481.95 184.68 L482.68 185.36 L483.68 186.39 L484.36 187.17 L485.17 188.37 L485.62 189.24 L486.13 190.61 L486.39 191.57 L486.62 193.02 L486.73 194.02 L486.79 195.5 L486.84 196.52 L486.76 198 L486.67 199.01 L486.49 200.49 L486.38 201.49 L486.19 202.97 L486.11 203.98 L486.01 205.49 L485.96 206.97 L486.02 207.98 L486.16 209.45 L486.35 210.44 L486.67 211.87 L486.95 212.83 L487.39 214.21 L487.78 215.19 L488.31 216.54 L488.72 217.45 L489.33 218.75 L489.83 219.62 L490.65 220.78 L491.29 221.55 L492.3 222.65 L492.98 223.39 L493.88 224.5 L494.5 225.28 L495.46 226.34 L496.07 227.13 L496.68 228.42 L496.95 229.38 L497.17 230.88 L497.26 231.89 L497.39 233.26 L497.57 234.19 L497.73 235.51 L497.89 236.43 L498.05 237.75 L498.29 239.13" fill="none" stroke="#3c3c3c" stroke-width="0.7"/>
<path d="M465.54 187.2 L466.49 187.51 L467.49 187.84 L468.44 188.17 L469.42 188.55 L470.33 188.97 L471.24 189.51 L472.07 190.07 L473.25 190.99 L473.99 191.67 L474.72 192.43 L475.35 193.21 L475.98 194.06 L476.51 194.92 L477.03 195.84 L477.62 197.19 L478.01 198.16 L478.31 199.12 L478.58 200.12 L478.76 201.11 L478.94 202.13 L479.07 203.12 L479.22 204.13 L479.31 205.59 L479.38 206.61 L479.42 207.6 L479.48 208.61 L479.52 209.6 L479.6 210.61 L479.67 211.59 L479.84 213.06 L480.04 214.06 L480.25 215.02 L480.54 216.01 L480.83 216.96 L481.19 217.94 L481.53 218.87 L481.93 219.85 L482.45 221.19 L482.89 222.15 L483.31 223.06 L483.79 224.01 L484.24 224.9 L484.77 225.83 L485.32 226.67 L486.28 227.82 L487.01 228.51 L487.8 229.22 L488.52 229.92 L489.25 230.7 L489.94 231.42 L490.68 232.21 L491.38 232.92 L492.44 233.95 L493.18 234.6 L493.87 235.38 L494.49 236.08 L495.13 236.86 L495.77 237.54 L496.41 238.32 L497.38 239.33" fill="none" stroke="#3c3c3c" stroke-width="0.7"/>
<line x1="469.6" y1="176.6" x2="465" y2="188.6" stroke="#3c3c3c" stroke-width="0.8"/>
<line x1="470.02" y1="178.3" x2="466.49" y2="187.51" stroke="#3c3c3c" stroke-width="0.6"/>
<circle cx="471.82" cy="180.25" r="1.3" fill="none" stroke="#333" stroke-width="0.7"/>
<circle cx="472.26" cy="184.31" r="1.3" fill="none" stroke="#333" stroke-width="0.7"/>
<circle cx="468.97" cy="186.92" r="1.3" fill="none" stroke="#333" stroke-width="0.7"/>
<circle cx="475.41" cy="181.73" r="1.3" fill="none" stroke="#333" stroke-width="0.7"/>
<circle cx="475.29" cy="186.04" r="1.3" fill="none" stroke="#333" stroke-width="0.7"/>
<circle cx="472.22" cy="188.46" r="1.3" fill="none" stroke="#333" stroke-width="0.7"/>
<circle cx="478.65" cy="183.87" r="1.3" fill="none" stroke="#333" stroke-width="0.7"/>
<circle cx="478.12" cy="188.47" r="1.3" fill="none" stroke="#333" stroke-width="0.7"/>
<circle cx="475.05" cy="190.68" r="1.3" fill="none" stroke="#333" stroke-width="0.7"/>
<circle cx="481.44" cy="186.39" r="1.3" fill="none" stroke="#333" stroke-width="0.7"/>
<circle cx="480.46" cy="191.34" r="1.3" fill="none" stroke="#333" stroke-width="0.7"/>
<circle cx="477.13" cy="193.11" r="1.3" fill="none" stroke="#333" stroke-width="0.7"/>
<circle cx="483.84" cy="189.41" r="1.3" fill="none" stroke="#333" stroke-width="0.7"/>
<circle cx="482.13" cy="194.65" r="1.3" fill="none" stroke="#333" stroke-width="0.7"/>
<circle cx="478.9" cy="196.22" r="1.3" fill="none" stroke="#333" stroke-width="0.7"/>
<circle cx="485.24" cy="193.01" r="1.3" fill="none" stroke="#333" stroke-width="0.7"/>
<circle cx="482.84" cy="198.07" r="1.3" fill="none" stroke="#333" stroke-width="0.7"/>
<circle cx="479.91" cy="199.67" r="1.3" fill="none" stroke="#333" stroke-width="0.7"/>
<circle cx="485.69" cy="196.87" r="1.3" fill="none" stroke="#333" stroke-width="0.7"/>
<circle cx="483.07" cy="201.81" r="1.3" fill="none" stroke="#333" stroke-width="0.7"/>
<circle cx="480.37" cy="203.25" r="1.3" fill="none" stroke="#333" stroke-width="0.7"/>
<circle cx="485.57" cy="200.64" r="1.3" fill="none" stroke="#333" stroke-width="0.7"/>
<circle cx="482.95" cy="205.54" r="1.3" fill="none" stroke="#333" stroke-width="0.7"/>
<circle cx="480.46" cy="206.46" r="1.3" fill="none" stroke="#333" stroke-width="0.7"/>
<circle cx="485.26" cy="204.51" r="1.3" fill="none" stroke="#333" stroke-width="0.7"/>
<circle cx="482.93" cy="209.28" r="1.3" fill="none" stroke="#333" stroke-width="0.7"/>
<circle cx="480.52" cy="210.06" r="1.3" fill="none" stroke="#333" stroke-width="0.7"/>
<circle cx="485.22" cy="208.39" r="1.3" fill="none" stroke="#333" stroke-width="0.7"/>
<circle cx="483.35" cy="212.73" r="1.3" fill="none" stroke="#333" stroke-width="0.7"/>
<circle cx="480.88" cy="213.64" r="1.3" fill="none" stroke="#333" stroke-width="0.7"/>
<circle cx="485.93" cy="212.2" r="1.3" fill="none" stroke="#333" stroke-width="0.7"/>
<circle cx="484.4" cy="216.32" r="1.3" fill="none" stroke="#333" stroke-width="0.7"/>
<circle cx="481.8" cy="217.12" r="1.3" fill="none" stroke="#333" stroke-width="0.7"/>
<circle cx="487.13" cy="215.78" r="1.3" fill="none" stroke="#333" stroke-width="0.7"/>
<circle cx="485.81" cy="219.8" r="1.3" fill="none" stroke="#333" stroke-width="0.7"/>
<circle cx="482.91" cy="220.14" r="1.3" fill="none" stroke="#333" stroke-width="0.7"/>
<circle cx="488.72" cy="219.33" r="1.3" fill="none" stroke="#333" stroke-width="0.7"/>
<circle cx="487.43" cy="222.89" r="1.3" fill="none" stroke="#333" stroke-width="0.7"/>
<circle cx="484.4" cy="223.43" r="1.3" fill="none" stroke="#333" stroke-width="0.7"/>
<circle cx="490.94" cy="222.5" r="1.3" fill="none" stroke="#333" stroke-width="0.7"/>
<circle cx="489.81" cy="225.78" r="1.3" fill="none" stroke="#333" stroke-width="0.7"/>
<circle cx="486.3" cy="226.48" r="1.3" fill="none" stroke="#333" stroke-width="0.7"/>
<circle cx="493.52" cy="225.41" r="1.3" fill="none" stroke="#333" stroke-width="0.7"/>
<circle cx="492.36" cy="228.52" r="1.3" fill="none" stroke="#333" stroke-width="0.7"/>
<circle cx="488.83" cy="229.05" r="1.3" fill="none" stroke="#333" stroke-width="0.7"/>
<circle cx="495.85" cy="228.36" r="1.3" fill="none" stroke="#333" stroke-width="0.7"/>
<circle cx="494.38" cy="231.57" r="1.3" fill="none" stroke="#333" stroke-width="0.7"/>
<circle cx="490.98" cy="231.44" r="1.3" fill="none" stroke="#333" stroke-width="0.7"/>
<circle cx="496.21" cy="232.39" r="1.3" fill="none" stroke="#333" stroke-width="0.7"/>
<circle cx="493.85" cy="233.77" r="1.3" fill="none" stroke="#333" stroke-width="0.7"/>
<circle cx="496.43" cy="236.19" r="1.3" fill="none" stroke="#333" stroke-width="0.7"/>
<path d="M460 195 L460.3 194.21 L460.7 193.53 L461.2 192.95 L461.76 192.47 L462.37 192.09 L463.01 191.8 L463.66 191.61 L464.3 191.5 L464.97 191.5 L465.71 191.62 L466.5 191.84 L467.29 192.16 L468.07 192.54 L468.8 192.99 L469.45 193.48 L470 194 L470.44 194.57 L470.82 195.21 L471.13 195.91 L471.39 196.66 L471.6 197.45 L471.76 198.28 L471.89 199.13 L472 200 L472.03 200.9 L471.97 201.84 L471.84 202.81 L471.69 203.81 L471.54 204.84 L471.44 205.88 L471.41 206.94 L471.5 208 L471.73 209.09 L472.09 210.23 L472.52 211.39 L473 212.56 L473.48 213.73 L473.91 214.87 L474.27 215.96 L474.5 217 L474.64 218.04 L474.75 219.11 L474.81 220.19 L474.81 221.22 L474.74 222.16 L474.59 222.96 L474.35 223.59 L474 224 L473.51 224.18 L472.86 224.16 L472.11 223.98 L471.28 223.66 L470.42 223.22 L469.56 222.7 L468.74 222.12 L468 221.5 L467.31 220.81 L466.62 220.01 L465.94 219.12 L465.28 218.16 L464.65 217.14 L464.05 216.1 L463.5 215.04 L463 214 L462.55 212.95 L462.15 211.88 L461.79 210.78 L461.47 209.66 L461.18 208.51 L460.93 207.36 L460.7 206.18 L460.5 205 L460.31 203.75 L460.12 202.42 L459.96 201.04 L459.82 199.66 L459.75 198.32 L459.74 197.07 L459.82 195.95 Z" fill="none" stroke="#3c3c3c" stroke-width="0.8"/>
<path d="M459 189.5 L458.67 190.06 L458.22 190.78 L457.67 191.64 L457.07 192.61 L456.47 193.65 L455.9 194.75 L455.39 195.88 L455 197 L454.69 198.16 L454.4 199.42 L454.15 200.73 L453.95 202.07 L453.8 203.43 L453.73 204.77 L453.72 206.07 L453.8 207.3 L453.97 208.47 L454.23 209.6 L454.55 210.71 L454.95 211.79 L455.4 212.86 L455.9 213.91 L456.44 214.96 L457 216 L457.6 217.04 L458.24 218.08 L458.93 219.11 L459.66 220.13 L460.43 221.13 L461.24 222.11 L462.1 223.07 L463 224 L463.96 224.9 L464.99 225.79 L466.08 226.65 L467.21 227.49 L468.35 228.31 L469.49 229.1 L470.61 229.87 L471.7 230.6 L472.78 231.31 L473.89 232 L475.01 232.67 L476.11 233.31 L477.18 233.91 L478.2 234.48 L479.15 235.01 L480 235.5 L480.78 235.94 L481.5 236.35 L482.16 236.72 L482.77 237.06 L483.31 237.35 L483.78 237.61 L484.18 237.82 L484.5 238" fill="none" stroke="#3c3c3c" stroke-width="0.8"/>
<path d="M456.2 190.5 L455.87 191.06 L455.42 191.78 L454.87 192.64 L454.28 193.61 L453.67 194.65 L453.1 195.75 L452.59 196.88 L452.2 198 L451.89 199.16 L451.6 200.42 L451.35 201.73 L451.15 203.07 L451 204.43 L450.93 205.77 L450.92 207.07 L451 208.3 L451.17 209.47 L451.43 210.6 L451.75 211.71 L452.15 212.79 L452.6 213.86 L453.1 214.91 L453.64 215.96 L454.2 217 L454.8 218.04 L455.44 219.08 L456.13 220.11 L456.86 221.13 L457.63 222.13 L458.44 223.11 L459.3 224.07 L460.2 225 L461.16 225.9 L462.19 226.79 L463.28 227.65 L464.41 228.49 L465.55 229.31 L466.69 230.1 L467.81 230.87 L468.9 231.6 L469.98 232.31 L471.09 233 L472.21 233.67 L473.31 234.31 L474.38 234.91 L475.4 235.48 L476.35 236.01 L477.2 236.5 L477.98 236.94 L478.7 237.35 L479.36 237.72 L479.97 238.06 L480.51 238.35 L480.98 238.61 L481.38 238.82 L481.7 239" fill="none" stroke="#3c3c3c" stroke-width="0.7"/>
<path d="M487.57 234.48 L487.6 237.72 L490.6 238.96 L487.52 239.99 L487.27 243.22 L485.34 240.62 L482.19 241.37 L484.07 238.73 L482.38 235.97 L485.47 236.94 Z" fill="#222" stroke="#111" stroke-width="0.8"/>
<path d="M508.93 172.28 L506.87 182.56 L496.33 184.2 L488.44 179.15 L480.56 172.22 L484.42 162.28 L492.73 157.97 L502.67 154.61 L509.35 162.92 Z" fill="none" stroke="#222" stroke-width="0.8"/>
<line x1="496.7" y1="169.8" x2="508.93" y2="172.28" stroke="#111" stroke-width="0.8"/>
<circle cx="507.46" cy="171.98" r="0.9" fill="#111" stroke="#111" stroke-width="0.4"/>
<line x1="496.7" y1="169.8" x2="506.87" y2="182.56" stroke="#111" stroke-width="0.8"/>
<circle cx="505.65" cy="181.03" r="0.9" fill="#111" stroke="#111" stroke-width="0.4"/>
<line x1="496.7" y1="169.8" x2="496.33" y2="184.2" stroke="#111" stroke-width="0.8"/>
<circle cx="496.38" cy="182.47" r="0.9" fill="#111" stroke="#111" stroke-width="0.4"/>
<line x1="496.7" y1="169.8" x2="488.44" y2="179.15" stroke="#111" stroke-width="0.8"/>
<circle cx="489.43" cy="178.03" r="0.9" fill="#111" stroke="#111" stroke-width="0.4"/>
<line x1="496.7" y1="169.8" x2="480.56" y2="172.22" stroke="#111" stroke-width="0.8"/>
<circle cx="482.5" cy="171.93" r="0.9" fill="#111" stroke="#111" stroke-width="0.4"/>
<line x1="496.7" y1="169.8" x2="484.42" y2="162.28" stroke="#111" stroke-width="0.8"/>
<circle cx="485.89" cy="163.19" r="0.9" fill="#111" stroke="#111" stroke-width="0.4"/>
<line x1="496.7" y1="169.8" x2="492.73" y2="157.97" stroke="#111" stroke-width="0.8"/>
<circle cx="493.21" cy="159.39" r="0.9" fill="#111" stroke="#111" stroke-width="0.4"/>
<line x1="496.7" y1="169.8" x2="502.67" y2="154.61" stroke="#111" stroke-width="0.8"/>
<circle cx="501.95" cy="156.43" r="0.9" fill="#111" stroke="#111" stroke-width="0.4"/>
<line x1="496.7" y1="169.8" x2="509.35" y2="162.92" stroke="#111" stroke-width="0.8"/>
<circle cx="507.83" cy="163.75" r="0.9" fill="#111" stroke="#111" stroke-width="0.4"/>
<line x1="496.7" y1="169.8" x2="506.94" y2="176.06" stroke="#222" stroke-width="0.6"/>
<line x1="496.7" y1="169.8" x2="500.52" y2="181.18" stroke="#222" stroke-width="0.6"/>
<line x1="496.7" y1="169.8" x2="492.31" y2="180.97" stroke="#222" stroke-width="0.6"/>
<line x1="496.7" y1="169.8" x2="486.16" y2="175.53" stroke="#222" stroke-width="0.6"/>
<line x1="496.7" y1="169.8" x2="484.94" y2="167.42" stroke="#222" stroke-width="0.6"/>
<line x1="496.7" y1="169.8" x2="489.22" y2="160.41" stroke="#222" stroke-width="0.6"/>
<line x1="496.7" y1="169.8" x2="497.01" y2="157.8" stroke="#222" stroke-width="0.6"/>
<line x1="496.7" y1="169.8" x2="504.65" y2="160.81" stroke="#222" stroke-width="0.6"/>
<line x1="496.7" y1="169.8" x2="508.57" y2="168.02" stroke="#222" stroke-width="0.6"/>
<path d="M552.72 169.2 L553.53 170.73 L554.05 172.38 L554.18 174.07 L553.85 175.7 L553.06 177.16 L551.88 178.37 L550.41 179.29 L548.81 179.95 L548.44 181.64 L547.78 183.24 L546.8 184.62 L545.5 185.65 L543.96 186.26 L542.27 186.43 L540.55 186.19 L538.9 185.67 L537.53 186.73 L536 187.53 L534.36 187.95 L532.7 187.91 L531.13 187.38 L529.73 186.43 L528.57 185.14 L527.64 183.68 L525.91 183.61 L524.22 183.24 L522.69 182.51 L521.45 181.41 L520.58 180 L520.12 178.37 L520.06 176.63 L520.29 174.92 L519.01 173.75 L517.95 172.38 L517.25 170.84 L517 169.2 L517.25 167.56 L517.95 166.02 L519.01 164.65 L520.29 163.48 L520.06 161.77 L520.12 160.03 L520.58 158.4 L521.45 156.99 L522.69 155.89 L524.22 155.16 L525.91 154.79 L527.64 154.72 L528.57 153.26 L529.73 151.97 L531.13 151.02 L532.7 150.49 L534.36 150.45 L536 150.87 L537.53 151.67 L538.9 152.73 L540.55 152.21 L542.27 151.97 L543.96 152.14 L545.5 152.75 L546.8 153.78 L547.78 155.16 L548.44 156.76 L548.81 158.45 L550.41 159.11 L551.88 160.03 L553.06 161.24 L553.85 162.7 L554.18 164.33 L554.05 166.02 L553.53 167.67 Z" fill="none" stroke="#222" stroke-width="0.8"/>
<line x1="536" y1="169.2" x2="551.5" y2="170.76" stroke="#222" stroke-width="0.65"/>
<line x1="536" y1="169.2" x2="550.04" y2="175.96" stroke="#222" stroke-width="0.65"/>
<line x1="536" y1="169.2" x2="546.88" y2="180.36" stroke="#222" stroke-width="0.65"/>
<line x1="536" y1="169.2" x2="542.4" y2="183.4" stroke="#222" stroke-width="0.65"/>
<line x1="536" y1="169.2" x2="537.16" y2="184.74" stroke="#222" stroke-width="0.65"/>
<line x1="536" y1="169.2" x2="531.78" y2="184.2" stroke="#222" stroke-width="0.65"/>
<line x1="536" y1="169.2" x2="526.9" y2="181.85" stroke="#222" stroke-width="0.65"/>
<line x1="536" y1="169.2" x2="523.12" y2="177.97" stroke="#222" stroke-width="0.65"/>
<line x1="536" y1="169.2" x2="520.9" y2="173.04" stroke="#222" stroke-width="0.65"/>
<line x1="536" y1="169.2" x2="520.5" y2="167.64" stroke="#222" stroke-width="0.65"/>
<line x1="536" y1="169.2" x2="521.96" y2="162.44" stroke="#222" stroke-width="0.65"/>
<line x1="536" y1="169.2" x2="525.12" y2="158.04" stroke="#222" stroke-width="0.65"/>
<line x1="536" y1="169.2" x2="529.6" y2="155" stroke="#222" stroke-width="0.65"/>
<line x1="536" y1="169.2" x2="534.84" y2="153.66" stroke="#222" stroke-width="0.65"/>
<line x1="536" y1="169.2" x2="540.22" y2="154.2" stroke="#222" stroke-width="0.65"/>
<line x1="536" y1="169.2" x2="545.1" y2="156.55" stroke="#222" stroke-width="0.65"/>
<line x1="536" y1="169.2" x2="548.88" y2="160.43" stroke="#222" stroke-width="0.65"/>
<line x1="536" y1="169.2" x2="551.1" y2="165.36" stroke="#222" stroke-width="0.65"/>
<path d="M519.9 180.7 L519.35 181.43 L518.72 182.02 L518.97 182.84 L519.09 183.75 L518.24 184.11 L517.4 184.3 L517.21 185.14 L516.85 185.99 L515.94 185.87 L515.12 185.62 L514.53 186.25 L513.8 186.8 L513.07 186.25 L512.48 185.62 L511.66 185.87 L510.75 185.99 L510.39 185.14 L510.2 184.3 L509.36 184.11 L508.51 183.75 L508.63 182.84 L508.88 182.02 L508.25 181.43 L507.7 180.7 L508.25 179.97 L508.88 179.38 L508.63 178.56 L508.51 177.65 L509.36 177.29 L510.2 177.1 L510.39 176.26 L510.75 175.41 L511.66 175.53 L512.48 175.78 L513.07 175.15 L513.8 174.6 L514.53 175.15 L515.12 175.78 L515.94 175.53 L516.85 175.41 L517.21 176.26 L517.4 177.1 L518.24 177.29 L519.09 177.65 L518.97 178.56 L518.72 179.38 L519.35 179.97 Z" fill="none" stroke="#1a1a1a" stroke-width="1.1"/>
<circle cx="513.8" cy="180.7" r="0.5" fill="none" stroke="#333" stroke-width="0.5"/>
<path d="M519.47 180.7 L518.96 181.38 L518.37 181.92 L518.6 182.69 L518.71 183.53 L517.93 183.87 L517.15 184.05 L516.97 184.83 L516.63 185.61 L515.79 185.5 L515.02 185.27 L514.48 185.86 L513.8 186.37 L513.12 185.86 L512.58 185.27 L511.81 185.5 L510.97 185.61 L510.63 184.83 L510.45 184.05 L509.67 183.87 L508.89 183.53 L509 182.69 L509.23 181.92 L508.64 181.38 L508.13 180.7 L508.64 180.02 L509.23 179.48 L509 178.71 L508.89 177.87 L509.67 177.53 L510.45 177.35 L510.63 176.57 L510.97 175.79 L511.81 175.9 L512.58 176.13 L513.12 175.54 L513.8 175.03 L514.48 175.54 L515.02 176.13 L515.79 175.9 L516.63 175.79 L516.97 176.57 L517.15 177.35 L517.93 177.53 L518.71 177.87 L518.6 178.71 L518.37 179.48 L518.96 180.02 Z" fill="none" stroke="#1a1a1a" stroke-width="1.1"/>
<circle cx="513.8" cy="180.7" r="0.5" fill="none" stroke="#333" stroke-width="0.5"/>
<ellipse cx="495.7" cy="194.3" rx="3.8" ry="6.8" transform="rotate(0 495.7 194.3)" fill="none" stroke="#111" stroke-width="1.4"/>
<ellipse cx="495.7" cy="194.3" rx="2" ry="5" transform="rotate(0 495.7 194.3)" fill="none" stroke="#333" stroke-width="0.6"/>
<path d="M496.5 188 L496.67 187.65 L496.86 187.18 L497.08 186.62 L497.34 185.99 L497.66 185.34 L498.04 184.69 L498.48 184.06 L499 183.5 L499.62 182.97 L500.34 182.44 L501.14 181.91 L502 181.4 L502.89 180.9 L503.78 180.43 L504.66 180 L505.5 179.6 L506.3 179.22 L507.07 178.85 L507.84 178.5 L508.61 178.19 L509.39 177.92 L510.21 177.7 L511.08 177.56 L512 177.5 L512.98 177.57 L514.01 177.77 L515.07 178.06 L516.17 178.41 L517.3 178.75 L518.45 179.06 L519.62 179.29 L520.8 179.4 L522.08 179.37 L523.49 179.25 L524.97 179.06 L526.45 178.82 L527.86 178.57 L529.13 178.33 L530.2 178.13 L531 178" fill="none" stroke="#111" stroke-width="1.2"/>
<path d="M500 284.5 L500 195.2 L546.5 195.2" fill="none" stroke="#222" stroke-width="1.1"/>
<line x1="502.8" y1="196" x2="502.8" y2="280" stroke="#3c3c3c" stroke-width="0.8"/>
<line x1="523.7" y1="196" x2="523.7" y2="447.5" stroke="#3c3c3c" stroke-width="0.8"/>
<line x1="526.9" y1="196" x2="526.9" y2="447.5" stroke="#3c3c3c" stroke-width="0.8"/>
<line x1="536.8" y1="196" x2="536.8" y2="337.5" stroke="#3c3c3c" stroke-width="0.8"/>
<line x1="539.8" y1="196" x2="539.8" y2="337.5" stroke="#3c3c3c" stroke-width="0.8"/>
<line x1="526.9" y1="337.5" x2="546.5" y2="337.5" stroke="#3c3c3c" stroke-width="0.8"/>
<line x1="503" y1="284.5" x2="503" y2="447.5" stroke="#3c3c3c" stroke-width="0.85"/>
<circle cx="513.4" cy="210.2" r="14" fill="none" stroke="#3c3c3c" stroke-width="0.85"/>
<circle cx="513.4" cy="210.2" r="11.5" fill="none" stroke="#3c3c3c" stroke-width="0.85"/>
<path d="M541.01 201.3 L540.65 202.11 L540.19 202.82 L540.23 203.67 L540.14 204.56 L539.42 205.07 L538.66 205.46 L538.27 206.22 L537.75 206.94 L536.87 207.03 L536.02 206.99 L535.31 207.45 L534.5 207.81 L533.69 207.45 L532.98 206.99 L532.13 207.03 L531.25 206.94 L530.73 206.22 L530.34 205.46 L529.58 205.07 L528.86 204.56 L528.77 203.67 L528.81 202.82 L528.35 202.11 L527.99 201.3 L528.35 200.49 L528.81 199.78 L528.77 198.93 L528.86 198.05 L529.58 197.53 L530.34 197.14 L530.73 196.38 L531.25 195.66 L532.13 195.57 L532.98 195.61 L533.69 195.15 L534.5 194.79 L535.31 195.15 L536.02 195.61 L536.87 195.57 L537.75 195.66 L538.27 196.38 L538.66 197.14 L539.42 197.53 L540.14 198.05 L540.23 198.93 L540.19 199.78 L540.65 200.49 Z" fill="none" stroke="#111" stroke-width="1.1"/>
<circle cx="530.87" cy="198.91" r="0.63" fill="#111" stroke="#111" stroke-width="0.4"/>
<circle cx="532.64" cy="201.12" r="0.93" fill="#111" stroke="#111" stroke-width="0.4"/>
<circle cx="531.72" cy="198.21" r="0.66" fill="#111" stroke="#111" stroke-width="0.4"/>
<circle cx="530.56" cy="200.66" r="0.96" fill="#111" stroke="#111" stroke-width="0.4"/>
<circle cx="529.72" cy="201.74" r="0.66" fill="#111" stroke="#111" stroke-width="0.4"/>
<circle cx="534.33" cy="203.41" r="0.67" fill="#111" stroke="#111" stroke-width="0.4"/>
<circle cx="533.33" cy="204.34" r="1.03" fill="#111" stroke="#111" stroke-width="0.4"/>
<circle cx="531.67" cy="205" r="0.82" fill="#111" stroke="#111" stroke-width="0.4"/>
<circle cx="533.65" cy="204.06" r="1.09" fill="#111" stroke="#111" stroke-width="0.4"/>
<circle cx="532.32" cy="203.82" r="0.72" fill="#111" stroke="#111" stroke-width="0.4"/>
<circle cx="533.28" cy="198.52" r="0.82" fill="#111" stroke="#111" stroke-width="0.4"/>
<circle cx="531.57" cy="201.39" r="1.18" fill="#111" stroke="#111" stroke-width="0.4"/>
<circle cx="532.13" cy="201.39" r="0.89" fill="#111" stroke="#111" stroke-width="0.4"/>
<circle cx="537.26" cy="198.37" r="0.5" fill="#222" stroke="#222" stroke-width="0.3"/>
<circle cx="534.84" cy="202.92" r="0.5" fill="#222" stroke="#222" stroke-width="0.3"/>
<circle cx="537.03" cy="198.44" r="0.5" fill="#222" stroke="#222" stroke-width="0.3"/>
<circle cx="535.68" cy="201.9" r="0.5" fill="#222" stroke="#222" stroke-width="0.3"/>
<circle cx="535.46" cy="200.29" r="0.5" fill="#222" stroke="#222" stroke-width="0.3"/>
<circle cx="537.05" cy="203.24" r="0.5" fill="#222" stroke="#222" stroke-width="0.3"/>
<circle cx="535.4" cy="233.5" r="9.8" fill="none" stroke="#222" stroke-width="1.0"/>
<path d="M535.4 233.5 Q537.18 238.07 543.57 237.96" fill="none" stroke="#111" stroke-width="1.0"/>
<path d="M538.84 235.38 L543.2 232.72" fill="none" stroke="#222" stroke-width="0.8"/>
<path d="M535.4 233.5 Q530.56 232.75 527.45 238.34" fill="none" stroke="#111" stroke-width="1.0"/>
<path d="M532.05 235.54 L532.18 240.65" fill="none" stroke="#222" stroke-width="0.8"/>
<path d="M535.4 233.5 Q538.47 229.68 535.18 224.19" fill="none" stroke="#111" stroke-width="1.0"/>
<path d="M535.31 229.58 L530.82 227.14" fill="none" stroke="#222" stroke-width="0.8"/>
<path d="M539.82 262.5 L539.45 263.32 L538.98 264.05 L539.02 264.91 L538.93 265.81 L538.2 266.34 L537.43 266.73 L537.04 267.5 L536.51 268.23 L535.61 268.32 L534.75 268.28 L534.02 268.75 L533.2 269.12 L532.38 268.75 L531.65 268.28 L530.79 268.32 L529.89 268.23 L529.36 267.5 L528.97 266.73 L528.2 266.34 L527.47 265.81 L527.38 264.91 L527.42 264.05 L526.95 263.32 L526.59 262.5 L526.95 261.68 L527.42 260.95 L527.38 260.09 L527.47 259.19 L528.2 258.66 L528.97 258.27 L529.36 257.5 L529.89 256.77 L530.79 256.68 L531.65 256.72 L532.38 256.25 L533.2 255.88 L534.02 256.25 L534.75 256.72 L535.61 256.68 L536.51 256.77 L537.04 257.5 L537.43 258.27 L538.2 258.66 L538.93 259.19 L539.02 260.09 L538.98 260.95 L539.45 261.68 Z" fill="none" stroke="#111" stroke-width="1.1"/>
<circle cx="531.75" cy="263.91" r="1.01" fill="#111" stroke="#111" stroke-width="0.4"/>
<circle cx="530.88" cy="264.02" r="0.62" fill="#111" stroke="#111" stroke-width="0.4"/>
<circle cx="532.9" cy="260.24" r="0.89" fill="#111" stroke="#111" stroke-width="0.4"/>
<circle cx="530.92" cy="259.52" r="1.16" fill="#111" stroke="#111" stroke-width="0.4"/>
<circle cx="528.62" cy="263.69" r="1.12" fill="#111" stroke="#111" stroke-width="0.4"/>
<circle cx="529.47" cy="261.1" r="1.02" fill="#111" stroke="#111" stroke-width="0.4"/>
<circle cx="530.19" cy="264.81" r="0.62" fill="#111" stroke="#111" stroke-width="0.4"/>
<circle cx="530.48" cy="263.48" r="1" fill="#111" stroke="#111" stroke-width="0.4"/>
<circle cx="532.81" cy="260.2" r="0.93" fill="#111" stroke="#111" stroke-width="0.4"/>
<circle cx="531.76" cy="263.15" r="0.83" fill="#111" stroke="#111" stroke-width="0.4"/>
<circle cx="530.89" cy="261.15" r="0.79" fill="#111" stroke="#111" stroke-width="0.4"/>
<circle cx="530.32" cy="258.38" r="0.77" fill="#111" stroke="#111" stroke-width="0.4"/>
<circle cx="532.62" cy="265.03" r="1.19" fill="#111" stroke="#111" stroke-width="0.4"/>
<circle cx="533.76" cy="260.86" r="0.5" fill="#222" stroke="#222" stroke-width="0.3"/>
<circle cx="535.69" cy="261.65" r="0.5" fill="#222" stroke="#222" stroke-width="0.3"/>
<circle cx="536.87" cy="263.54" r="0.5" fill="#222" stroke="#222" stroke-width="0.3"/>
<circle cx="534.31" cy="261.75" r="0.5" fill="#222" stroke="#222" stroke-width="0.3"/>
<circle cx="534.17" cy="260.15" r="0.5" fill="#222" stroke="#222" stroke-width="0.3"/>
<circle cx="535.13" cy="265.54" r="0.5" fill="#222" stroke="#222" stroke-width="0.3"/>
<circle cx="535" cy="292.5" r="10" fill="none" stroke="#222" stroke-width="1.0"/>
<path d="M535 292.5 Q536.81 297.16 543.34 297.05" fill="none" stroke="#111" stroke-width="1.0"/>
<path d="M538.51 294.42 L542.96 291.7" fill="none" stroke="#222" stroke-width="0.8"/>
<path d="M535 292.5 Q530.06 291.74 526.89 297.44" fill="none" stroke="#111" stroke-width="1.0"/>
<path d="M531.58 294.58 L531.71 299.79" fill="none" stroke="#222" stroke-width="0.8"/>
<path d="M535 292.5 Q538.13 288.6 534.78 283" fill="none" stroke="#111" stroke-width="1.0"/>
<path d="M534.91 288.5 L530.33 286.01" fill="none" stroke="#222" stroke-width="0.8"/>
<path d="M537.6 323 L537.25 323.78 L536.81 324.48 L536.84 325.3 L536.76 326.15 L536.06 326.65 L535.33 327.03 L534.95 327.76 L534.45 328.46 L533.6 328.54 L532.78 328.51 L532.08 328.95 L531.3 329.3 L530.52 328.95 L529.82 328.51 L529 328.54 L528.15 328.46 L527.65 327.76 L527.27 327.03 L526.54 326.65 L525.84 326.15 L525.76 325.3 L525.79 324.48 L525.35 323.78 L525 323 L525.35 322.22 L525.79 321.52 L525.76 320.7 L525.84 319.85 L526.54 319.35 L527.27 318.97 L527.65 318.24 L528.15 317.54 L529 317.46 L529.82 317.49 L530.52 317.05 L531.3 316.7 L532.08 317.05 L532.78 317.49 L533.6 317.46 L534.45 317.54 L534.95 318.24 L535.33 318.97 L536.06 319.35 L536.76 319.85 L536.84 320.7 L536.81 321.52 L537.25 322.22 Z" fill="none" stroke="#111" stroke-width="1.1"/>
<circle cx="528.18" cy="322.51" r="1.13" fill="#111" stroke="#111" stroke-width="0.4"/>
<circle cx="530.22" cy="319.52" r="0.71" fill="#111" stroke="#111" stroke-width="0.4"/>
<circle cx="531.15" cy="326.37" r="0.85" fill="#111" stroke="#111" stroke-width="0.4"/>
<circle cx="529.7" cy="321.24" r="0.91" fill="#111" stroke="#111" stroke-width="0.4"/>
<circle cx="530.83" cy="320.71" r="1.09" fill="#111" stroke="#111" stroke-width="0.4"/>
<circle cx="529.48" cy="324.64" r="0.61" fill="#111" stroke="#111" stroke-width="0.4"/>
<circle cx="527.45" cy="321.62" r="1.02" fill="#111" stroke="#111" stroke-width="0.4"/>
<circle cx="527.74" cy="321.87" r="0.77" fill="#111" stroke="#111" stroke-width="0.4"/>
<circle cx="528.96" cy="322.76" r="0.72" fill="#111" stroke="#111" stroke-width="0.4"/>
<circle cx="529.38" cy="319.87" r="0.86" fill="#111" stroke="#111" stroke-width="0.4"/>
<circle cx="530.96" cy="320.48" r="0.76" fill="#111" stroke="#111" stroke-width="0.4"/>
<circle cx="530.16" cy="318.8" r="1.19" fill="#111" stroke="#111" stroke-width="0.4"/>
<circle cx="529.26" cy="323.22" r="0.92" fill="#111" stroke="#111" stroke-width="0.4"/>
<circle cx="532.64" cy="322.95" r="0.5" fill="#222" stroke="#222" stroke-width="0.3"/>
<circle cx="532.03" cy="321.18" r="0.5" fill="#222" stroke="#222" stroke-width="0.3"/>
<circle cx="534.12" cy="321.73" r="0.5" fill="#222" stroke="#222" stroke-width="0.3"/>
<circle cx="533.31" cy="321.76" r="0.5" fill="#222" stroke="#222" stroke-width="0.3"/>
<circle cx="534.43" cy="324.14" r="0.5" fill="#222" stroke="#222" stroke-width="0.3"/>
<circle cx="532.23" cy="324.83" r="0.5" fill="#222" stroke="#222" stroke-width="0.3"/>
<path d="M437.5 180 L437.56 180.47 L437.68 181.09 L437.82 181.84 L437.96 182.67 L438.07 183.54 L438.13 184.41 L438.12 185.24 L438 186 L437.8 186.7 L437.55 187.39 L437.24 188.06 L436.88 188.72 L436.44 189.38 L435.94 190.03 L435.36 190.67 L434.7 191.3 L433.97 191.95 L433.16 192.61 L432.29 193.28 L431.34 193.93 L430.32 194.56 L429.23 195.14 L428.05 195.66 L426.8 196.1 L425.43 196.45 L423.94 196.72 L422.35 196.93 L420.7 197.1 L419.01 197.24 L417.31 197.38 L415.63 197.52 L414 197.7 L412.39 197.87 L410.74 197.99 L409.09 198.09 L407.44 198.21 L405.82 198.36 L404.25 198.57 L402.73 198.88 L401.3 199.3 L399.92 199.85 L398.57 200.5 L397.25 201.23 L395.99 202.03 L394.8 202.88 L393.7 203.77 L392.69 204.68 L391.8 205.6 L391.01 206.55 L390.31 207.56 L389.7 208.61 L389.18 209.69 L388.75 210.79 L388.41 211.88 L388.16 212.95 L388 214 L387.96 215.02 L388.05 216.03 L388.25 217.03 L388.53 218.03 L388.87 219.02 L389.24 220.01 L389.63 221 L390 222 L390.38 222.99 L390.79 223.95 L391.22 224.91 L391.69 225.88 L392.18 226.85 L392.68 227.86 L393.21 228.9 L393.75 230 L394.34 231.12 L395 232.24 L395.7 233.38 L396.41 234.56 L397.09 235.8 L397.73 237.1 L398.3 238.5 L398.75 240 L399.06 241.68 L399.24 243.55 L399.33 245.54 L399.38 247.59 L399.42 249.63 L399.51 251.59 L399.69 253.4 L400 255 L400.41 256.42 L400.87 257.75 L401.38 258.97 L401.95 260.09 L402.59 261.11 L403.31 262.02 L404.11 262.82 L405 263.5 L405.99 264.06 L407.09 264.49 L408.27 264.81 L409.53 265.02 L410.85 265.13 L412.21 265.16 L413.6 265.11 L415 265 L416.46 264.77 L418.01 264.37 L419.61 263.87 L421.25 263.3 L422.89 262.7 L424.49 262.13 L426.04 261.64 L427.5 261.25 L428.87 260.95 L430.18 260.67 L431.43 260.43 L432.66 260.23 L433.86 260.08 L435.06 259.99 L436.27 259.96 L437.5 260 L438.75 260.12 L440 260.3 L441.25 260.55 L442.5 260.86 L443.75 261.21 L445 261.61 L446.25 262.04 L447.5 262.5 L448.73 263.01 L449.94 263.6 L451.14 264.25 L452.34 264.92 L453.57 265.61 L454.82 266.28 L456.13 266.92 L457.5 267.5 L458.96 268.09 L460.51 268.73 L462.11 269.38 L463.75 270 L465.39 270.54 L466.99 270.96 L468.54 271.21 L470 271.25 L471.4 271.09 L472.76 270.76 L474.1 270.29 L475.39 269.69 L476.63 268.97 L477.82 268.14 L478.95 267.23 L480 266.25 L480.99 265.13 L481.94 263.82 L482.84 262.38 L483.67 260.86 L484.44 259.31 L485.13 257.78 L485.73 256.33 L486.25 255 L486.65 253.73 L486.94 252.43 L487.14 251.15 L487.27 249.92 L487.34 248.78 L487.39 247.76 L487.44 246.91 L487.5 246.25" fill="none" stroke="#3c3c3c" stroke-width="0.85"/>
<path d="M440.5 183 L440.53 183.38 L440.59 183.88 L440.68 184.47 L440.75 185.14 L440.79 185.85 L440.78 186.58 L440.69 187.3 L440.5 188 L440.23 188.69 L439.9 189.41 L439.51 190.15 L439.06 190.9 L438.54 191.65 L437.95 192.39 L437.27 193.11 L436.5 193.8 L435.65 194.49 L434.71 195.19 L433.69 195.88 L432.59 196.56 L431.42 197.21 L430.18 197.81 L428.87 198.34 L427.5 198.8 L426.01 199.16 L424.39 199.44 L422.68 199.65 L420.91 199.81 L419.11 199.95 L417.34 200.08 L415.62 200.22 L414 200.4 L412.44 200.57 L410.9 200.71 L409.39 200.83 L407.91 200.96 L406.47 201.11 L405.08 201.33 L403.76 201.61 L402.5 202 L401.3 202.49 L400.15 203.07 L399.05 203.71 L398 204.41 L397.02 205.16 L396.1 205.93 L395.26 206.71 L394.5 207.5 L393.81 208.3 L393.18 209.14 L392.62 210.02 L392.14 210.91 L391.73 211.81 L391.4 212.71 L391.15 213.61 L391 214.5 L390.96 215.37 L391.03 216.23 L391.2 217.08 L391.45 217.94 L391.75 218.8 L392.09 219.68 L392.45 220.58 L392.8 221.5 L393.16 222.44 L393.56 223.38 L393.99 224.34 L394.45 225.31 L394.93 226.31 L395.44 227.34 L395.96 228.4 L396.5 229.5 L397.09 230.62 L397.75 231.75 L398.44 232.91 L399.15 234.09 L399.84 235.33 L400.48 236.64 L401.04 238.02 L401.5 239.5 L401.82 241.15 L402.02 242.99 L402.13 244.95 L402.2 246.95 L402.26 248.93 L402.36 250.81 L402.52 252.53 L402.8 254 L403.16 255.25 L403.56 256.37 L404 257.35 L404.48 258.21 L405.02 258.98 L405.61 259.65 L406.27 260.26 L407 260.8 L407.79 261.28 L408.63 261.67 L409.52 261.98 L410.48 262.21 L411.5 262.35 L412.59 262.41 L413.76 262.4 L415 262.3 L416.36 262.07 L417.87 261.68 L419.47 261.19 L421.12 260.63 L422.8 260.04 L424.45 259.48 L426.03 258.98 L427.5 258.6 L428.86 258.3 L430.15 258.01 L431.39 257.77 L432.59 257.56 L433.79 257.4 L434.99 257.29 L436.22 257.26 L437.5 257.3 L438.83 257.42 L440.2 257.62 L441.6 257.88 L443 258.21 L444.4 258.58 L445.8 258.99 L447.17 259.43 L448.5 259.9 L449.79 260.42 L451.04 261.01 L452.26 261.66 L453.47 262.34 L454.68 263.02 L455.92 263.69 L457.19 264.33 L458.5 264.9 L459.89 265.47 L461.35 266.09 L462.86 266.71 L464.38 267.29 L465.88 267.8 L467.34 268.2 L468.72 268.45 L470 268.5 L471.18 268.36 L472.3 268.07 L473.37 267.65 L474.38 267.1 L475.34 266.45 L476.26 265.7 L477.14 264.88 L478 264 L478.84 263 L479.65 261.84 L480.43 260.56 L481.17 259.22 L481.85 257.85 L482.48 256.49 L483.03 255.19 L483.5 254 L483.87 252.85 L484.15 251.67 L484.35 250.5 L484.49 249.38 L484.59 248.33 L484.66 247.39 L484.73 246.6 L484.8 246" fill="none" stroke="#3c3c3c" stroke-width="0.7"/>
<path d="M468 177 L468.47 176.83 L469.08 176.66 L469.8 176.46 L470.61 176.21 L471.49 175.87 L472.42 175.41 L473.36 174.8 L474.3 174 L475.26 172.95 L476.29 171.64 L477.36 170.14 L478.46 168.54 L479.57 166.91 L480.7 165.33 L481.81 163.87 L482.9 162.6 L483.94 161.49 L484.94 160.44 L485.91 159.45 L486.89 158.54 L487.92 157.71 L489.01 156.95 L490.19 156.28 L491.5 155.7 L492.94 155.21 L494.48 154.81 L496.11 154.49 L497.81 154.26 L499.57 154.09 L501.36 154 L503.18 153.97 L505 154 L506.89 154.17 L508.87 154.51 L510.92 154.96 L512.99 155.46 L515.04 155.94 L517.02 156.33 L518.88 156.58 L520.6 156.6 L522.22 156.36 L523.81 155.91 L525.34 155.3 L526.78 154.61 L528.09 153.9 L529.25 153.23 L530.23 152.68 L531 152.3" fill="none" stroke="#3c3c3c" stroke-width="0.8"/>
<path d="M469.5 179.5 L469.97 179.33 L470.58 179.16 L471.3 178.96 L472.11 178.71 L472.99 178.37 L473.92 177.91 L474.86 177.3 L475.8 176.5 L476.76 175.45 L477.79 174.14 L478.86 172.64 L479.96 171.04 L481.07 169.41 L482.2 167.83 L483.31 166.37 L484.4 165.1 L485.44 163.99 L486.44 162.94 L487.41 161.95 L488.39 161.04 L489.42 160.21 L490.51 159.45 L491.69 158.78 L493 158.2 L494.44 157.71 L495.98 157.31 L497.61 156.99 L499.31 156.76 L501.07 156.59 L502.86 156.5 L504.68 156.47 L506.5 156.5 L508.39 156.67 L510.37 157.01 L512.42 157.46 L514.49 157.96 L516.54 158.44 L518.52 158.83 L520.38 159.08 L522.1 159.1 L523.72 158.86 L525.31 158.41 L526.84 157.8 L528.28 157.11 L529.59 156.4 L530.75 155.73 L531.73 155.18 L532.5 154.8" fill="none" stroke="#3c3c3c" stroke-width="0.7"/>
<line x1="407.5" y1="208.8" x2="432.5" y2="208.8" stroke="#3c3c3c" stroke-width="0.7"/>
<line x1="438.8" y1="215" x2="452.5" y2="215" stroke="#3c3c3c" stroke-width="0.7"/>
<line x1="403.8" y1="223.8" x2="422.5" y2="223.8" stroke="#3c3c3c" stroke-width="0.7"/>
<line x1="415" y1="225.6" x2="440" y2="225.6" stroke="#3c3c3c" stroke-width="0.7"/>
<line x1="403.8" y1="232.5" x2="445" y2="232.5" stroke="#3c3c3c" stroke-width="0.7"/>
<line x1="422.5" y1="235.8" x2="455" y2="235.8" stroke="#3c3c3c" stroke-width="0.7"/>
<line x1="410" y1="250" x2="442.5" y2="250" stroke="#3c3c3c" stroke-width="0.7"/>
<line x1="412.5" y1="253" x2="440" y2="253" stroke="#3c3c3c" stroke-width="0.7"/>
<line x1="450" y1="255.5" x2="480" y2="255.5" stroke="#3c3c3c" stroke-width="0.7"/>
<line x1="455" y1="258" x2="477.5" y2="258" stroke="#3c3c3c" stroke-width="0.7"/>
<line x1="443" y1="214.7" x2="452" y2="214.7" stroke="#3c3c3c" stroke-width="0.7"/>
<line x1="440" y1="221" x2="447" y2="221" stroke="#3c3c3c" stroke-width="0.7"/>
<g transform="rotate(-60 395.5 183.6)"><rect x="391.25" y="181.1" width="8.5" height="5" rx="1.6" fill="none" stroke="#222" stroke-width="0.9"/><rect x="392.45" y="182.3" width="6.1" height="2.6" rx="1" fill="#ccc" stroke="#555" stroke-width="0.5"/></g>
<g transform="rotate(-75 404.4 184.5)"><rect x="400.65" y="182.2" width="7.5" height="4.6" rx="1.6" fill="none" stroke="#222" stroke-width="0.9"/><rect x="401.85" y="183.4" width="5.1" height="2.1999999999999997" rx="1" fill="#ccc" stroke="#555" stroke-width="0.5"/></g>
<g transform="rotate(-65 389 195.5)"><rect x="385" y="193" width="8" height="5" rx="1.6" fill="none" stroke="#222" stroke-width="0.9"/><rect x="386.2" y="194.2" width="5.6" height="2.6" rx="1" fill="#ccc" stroke="#555" stroke-width="0.5"/></g>
<g transform="rotate(-70 380.2 198.8)"><rect x="376.2" y="196.5" width="8" height="4.6" rx="1.6" fill="none" stroke="#222" stroke-width="0.9"/><rect x="377.4" y="197.7" width="5.6" height="2.1999999999999997" rx="1" fill="#ccc" stroke="#555" stroke-width="0.5"/></g>
<g transform="rotate(-55 374.4 206.4)"><rect x="370.4" y="204" width="8" height="4.8" rx="1.6" fill="none" stroke="#222" stroke-width="0.9"/><rect x="371.6" y="205.2" width="5.6" height="2.4" rx="1" fill="#ccc" stroke="#555" stroke-width="0.5"/></g>
<circle cx="424.26" cy="188.03" r="2.75" fill="none" stroke="#3c3c3c" stroke-width="0.6"/>
<circle cx="421.94" cy="189.77" r="2.75" fill="none" stroke="#3c3c3c" stroke-width="0.6"/>
<circle cx="419.56" cy="188.1" r="2.75" fill="none" stroke="#3c3c3c" stroke-width="0.6"/>
<circle cx="420.42" cy="185.32" r="2.75" fill="none" stroke="#3c3c3c" stroke-width="0.6"/>
<circle cx="423.33" cy="185.28" r="2.75" fill="none" stroke="#3c3c3c" stroke-width="0.6"/>
<line x1="421.9" y1="187.3" x2="425.58" y2="188.44" stroke="#3c3c3c" stroke-width="0.5"/>
<line x1="421.9" y1="187.3" x2="421.95" y2="191.15" stroke="#3c3c3c" stroke-width="0.5"/>
<line x1="421.9" y1="187.3" x2="418.26" y2="188.54" stroke="#3c3c3c" stroke-width="0.5"/>
<line x1="421.9" y1="187.3" x2="419.59" y2="184.22" stroke="#3c3c3c" stroke-width="0.5"/>
<line x1="421.9" y1="187.3" x2="424.12" y2="184.15" stroke="#3c3c3c" stroke-width="0.5"/>
<path d="M416 188 L415.35 187.97 L414.45 187.88 L413.37 187.78 L412.19 187.69 L410.99 187.63 L409.84 187.65 L408.82 187.76 L408 188 L407.33 188.39 L406.71 188.92 L406.16 189.55 L405.69 190.25 L405.32 190.98 L405.07 191.7 L404.96 192.39 L405 193 L405.21 193.58 L405.57 194.18 L406.07 194.77 L406.69 195.34 L407.41 195.87 L408.21 196.34 L409.08 196.72 L410 197 L411.01 197.17 L412.15 197.26 L413.38 197.27 L414.69 197.22 L416.03 197.1 L417.38 196.94 L418.72 196.74 L420 196.5 L421.32 196.18 L422.73 195.75 L424.19 195.25 L425.62 194.72 L426.98 194.19 L428.2 193.7 L429.23 193.29 L430 193" fill="none" stroke="#3c3c3c" stroke-width="0.7"/>
<path d="M426 190 L426.41 189.86 L426.97 189.69 L427.64 189.48 L428.38 189.25 L429.12 188.98 L429.84 188.69 L430.48 188.36 L431 188 L431.41 187.57 L431.76 187.05 L432.06 186.47 L432.31 185.88 L432.53 185.29 L432.71 184.77 L432.87 184.32 L433 184" fill="none" stroke="#3c3c3c" stroke-width="0.7"/>
<circle cx="382.5" cy="226.8" r="6.4" fill="#3a3a3a" stroke="#111" stroke-width="0.9"/>
<line x1="379.53" y1="230.2" x2="380.84" y2="231.43" stroke="#fff" stroke-width="0.7"/>
<line x1="376.93" y1="225.56" x2="378.71" y2="225.8" stroke="#fff" stroke-width="0.7"/>
<line x1="383.97" y1="229.83" x2="383.52" y2="231.58" stroke="#fff" stroke-width="0.7"/>
<line x1="381.64" y1="225.49" x2="383.1" y2="226.53" stroke="#fff" stroke-width="0.7"/>
<line x1="385.22" y1="226.37" x2="386.59" y2="227.53" stroke="#fff" stroke-width="0.7"/>
<line x1="380.57" y1="224.2" x2="380.97" y2="225.95" stroke="#fff" stroke-width="0.7"/>
<line x1="382.49" y1="231.11" x2="383" y2="232.83" stroke="#fff" stroke-width="0.7"/>
<line x1="379.66" y1="229.91" x2="377.92" y2="230.35" stroke="#fff" stroke-width="0.7"/>
<line x1="382.85" y1="229.32" x2="381.55" y2="230.56" stroke="#fff" stroke-width="0.7"/>
<line x1="377.22" y1="227.51" x2="379.02" y2="227.59" stroke="#fff" stroke-width="0.7"/>
<line x1="384.42" y1="227.56" x2="386.2" y2="227.86" stroke="#fff" stroke-width="0.7"/>
<line x1="380.47" y1="226.83" x2="381.11" y2="228.52" stroke="#fff" stroke-width="0.7"/>
<line x1="382.09" y1="228.43" x2="383.77" y2="229.06" stroke="#fff" stroke-width="0.7"/>
<line x1="380.9" y1="222.74" x2="379.57" y2="223.95" stroke="#fff" stroke-width="0.7"/>
<line x1="380.85" y1="223.01" x2="382.63" y2="223.29" stroke="#fff" stroke-width="0.7"/>
<line x1="380.84" y1="224.7" x2="381.08" y2="226.48" stroke="#fff" stroke-width="0.7"/>
<line x1="386.42" y1="224.75" x2="386.42" y2="226.55" stroke="#fff" stroke-width="0.7"/>
<line x1="381.38" y1="220.77" x2="381.26" y2="222.56" stroke="#fff" stroke-width="0.7"/>
<line x1="384.74" y1="226.77" x2="383.32" y2="227.87" stroke="#fff" stroke-width="0.7"/>
<line x1="385.53" y1="223.82" x2="383.81" y2="224.35" stroke="#fff" stroke-width="0.7"/>
<line x1="386.32" y1="224.59" x2="387.63" y2="225.82" stroke="#fff" stroke-width="0.7"/>
<line x1="382.31" y1="229.69" x2="383.01" y2="231.35" stroke="#fff" stroke-width="0.7"/>
<circle cx="387.5" cy="247.5" r="6.4" fill="#3a3a3a" stroke="#111" stroke-width="0.9"/>
<line x1="389.87" y1="241.81" x2="388.73" y2="243.2" stroke="#fff" stroke-width="0.7"/>
<line x1="389.53" y1="243.64" x2="391.33" y2="243.64" stroke="#fff" stroke-width="0.7"/>
<line x1="387.75" y1="248.59" x2="389.17" y2="249.69" stroke="#fff" stroke-width="0.7"/>
<line x1="387.42" y1="246.65" x2="387.86" y2="248.39" stroke="#fff" stroke-width="0.7"/>
<line x1="386.78" y1="245.91" x2="388.57" y2="246.07" stroke="#fff" stroke-width="0.7"/>
<line x1="390.49" y1="249.16" x2="389.37" y2="250.57" stroke="#fff" stroke-width="0.7"/>
<line x1="384.03" y1="249.86" x2="382.39" y2="250.6" stroke="#fff" stroke-width="0.7"/>
<line x1="390.89" y1="247.13" x2="389.46" y2="248.22" stroke="#fff" stroke-width="0.7"/>
<line x1="389.26" y1="250.91" x2="388.82" y2="252.66" stroke="#fff" stroke-width="0.7"/>
<line x1="390.22" y1="246.91" x2="388.43" y2="247.01" stroke="#fff" stroke-width="0.7"/>
<line x1="384.58" y1="244.86" x2="386.06" y2="245.88" stroke="#fff" stroke-width="0.7"/>
<line x1="385.39" y1="244.09" x2="386.38" y2="245.59" stroke="#fff" stroke-width="0.7"/>
<line x1="386.93" y1="242.14" x2="386.31" y2="243.84" stroke="#fff" stroke-width="0.7"/>
<line x1="387.2" y1="246.57" x2="388.87" y2="247.25" stroke="#fff" stroke-width="0.7"/>
<line x1="387.9" y1="246.57" x2="387.36" y2="248.29" stroke="#fff" stroke-width="0.7"/>
<line x1="389.48" y1="246.99" x2="388.09" y2="248.14" stroke="#fff" stroke-width="0.7"/>
<line x1="387.71" y1="245.68" x2="389.24" y2="246.62" stroke="#fff" stroke-width="0.7"/>
<line x1="385.03" y1="243.04" x2="385.54" y2="244.77" stroke="#fff" stroke-width="0.7"/>
<line x1="386.13" y1="245.04" x2="384.75" y2="246.2" stroke="#fff" stroke-width="0.7"/>
<line x1="384.8" y1="247.22" x2="385.26" y2="248.96" stroke="#fff" stroke-width="0.7"/>
<line x1="387.91" y1="250.81" x2="387.15" y2="252.44" stroke="#fff" stroke-width="0.7"/>
<line x1="385.38" y1="244.88" x2="386.58" y2="246.22" stroke="#fff" stroke-width="0.7"/>
<line x1="390.6" y1="269.5" x2="398.75" y2="270.32" stroke="#111" stroke-width="1.1"/>
<line x1="395.08" y1="269.95" x2="393.8" y2="270.91" stroke="#222" stroke-width="0.6"/>
<line x1="395.08" y1="269.95" x2="394.02" y2="268.76" stroke="#222" stroke-width="0.6"/>
<line x1="397.12" y1="270.15" x2="395.84" y2="271.11" stroke="#222" stroke-width="0.6"/>
<line x1="397.12" y1="270.15" x2="396.05" y2="268.96" stroke="#222" stroke-width="0.6"/>
<line x1="390.6" y1="269.5" x2="396.93" y2="277.88" stroke="#111" stroke-width="1.1"/>
<line x1="394.08" y1="274.11" x2="392.51" y2="273.82" stroke="#222" stroke-width="0.6"/>
<line x1="394.08" y1="274.11" x2="394.23" y2="272.51" stroke="#222" stroke-width="0.6"/>
<line x1="395.66" y1="276.2" x2="394.09" y2="275.91" stroke="#222" stroke-width="0.6"/>
<line x1="395.66" y1="276.2" x2="395.82" y2="274.61" stroke="#222" stroke-width="0.6"/>
<line x1="390.6" y1="269.5" x2="393.23" y2="278.87" stroke="#111" stroke-width="1.1"/>
<line x1="392.05" y1="274.65" x2="390.69" y2="273.81" stroke="#222" stroke-width="0.6"/>
<line x1="392.05" y1="274.65" x2="392.77" y2="273.22" stroke="#222" stroke-width="0.6"/>
<line x1="392.7" y1="276.99" x2="391.34" y2="276.15" stroke="#222" stroke-width="0.6"/>
<line x1="392.7" y1="276.99" x2="393.42" y2="275.57" stroke="#222" stroke-width="0.6"/>
<line x1="390.6" y1="269.5" x2="389.71" y2="278.42" stroke="#111" stroke-width="1.1"/>
<line x1="390.11" y1="274.4" x2="389.15" y2="273.12" stroke="#222" stroke-width="0.6"/>
<line x1="390.11" y1="274.4" x2="391.3" y2="273.34" stroke="#222" stroke-width="0.6"/>
<line x1="389.88" y1="276.63" x2="388.93" y2="275.35" stroke="#222" stroke-width="0.6"/>
<line x1="389.88" y1="276.63" x2="391.08" y2="275.57" stroke="#222" stroke-width="0.6"/>
<line x1="390.6" y1="269.5" x2="384.07" y2="274.44" stroke="#111" stroke-width="1.1"/>
<line x1="387.01" y1="272.22" x2="387.3" y2="270.64" stroke="#222" stroke-width="0.6"/>
<line x1="387.01" y1="272.22" x2="388.6" y2="272.37" stroke="#222" stroke-width="0.6"/>
<line x1="385.37" y1="273.45" x2="385.66" y2="271.88" stroke="#222" stroke-width="0.6"/>
<line x1="385.37" y1="273.45" x2="386.97" y2="273.6" stroke="#222" stroke-width="0.6"/>
<line x1="390.6" y1="269.5" x2="380.49" y2="272.34" stroke="#111" stroke-width="1.1"/>
<line x1="385.04" y1="271.06" x2="385.88" y2="269.7" stroke="#222" stroke-width="0.6"/>
<line x1="385.04" y1="271.06" x2="386.47" y2="271.78" stroke="#222" stroke-width="0.6"/>
<line x1="382.51" y1="271.77" x2="383.36" y2="270.41" stroke="#222" stroke-width="0.6"/>
<line x1="382.51" y1="271.77" x2="383.94" y2="272.49" stroke="#222" stroke-width="0.6"/>
<line x1="390.6" y1="269.5" x2="380.92" y2="268.53" stroke="#111" stroke-width="1.1"/>
<line x1="385.28" y1="268.97" x2="386.56" y2="268.01" stroke="#222" stroke-width="0.6"/>
<line x1="385.28" y1="268.97" x2="386.34" y2="270.16" stroke="#222" stroke-width="0.6"/>
<line x1="382.85" y1="268.72" x2="384.14" y2="267.77" stroke="#222" stroke-width="0.6"/>
<line x1="382.85" y1="268.72" x2="383.92" y2="269.92" stroke="#222" stroke-width="0.6"/>
<line x1="390.6" y1="269.5" x2="385.2" y2="262.35" stroke="#111" stroke-width="1.1"/>
<line x1="387.63" y1="265.57" x2="389.2" y2="265.86" stroke="#222" stroke-width="0.6"/>
<line x1="387.63" y1="265.57" x2="387.48" y2="267.16" stroke="#222" stroke-width="0.6"/>
<line x1="386.28" y1="263.78" x2="387.85" y2="264.07" stroke="#222" stroke-width="0.6"/>
<line x1="386.28" y1="263.78" x2="386.13" y2="265.37" stroke="#222" stroke-width="0.6"/>
<line x1="390.6" y1="269.5" x2="388.39" y2="261.61" stroke="#111" stroke-width="1.1"/>
<line x1="389.38" y1="265.16" x2="390.74" y2="266.01" stroke="#222" stroke-width="0.6"/>
<line x1="389.38" y1="265.16" x2="388.66" y2="266.59" stroke="#222" stroke-width="0.6"/>
<line x1="388.83" y1="263.19" x2="390.19" y2="264.04" stroke="#222" stroke-width="0.6"/>
<line x1="388.83" y1="263.19" x2="388.11" y2="264.62" stroke="#222" stroke-width="0.6"/>
<line x1="390.6" y1="269.5" x2="391.65" y2="259.05" stroke="#111" stroke-width="1.1"/>
<line x1="391.18" y1="263.75" x2="392.13" y2="265.04" stroke="#222" stroke-width="0.6"/>
<line x1="391.18" y1="263.75" x2="389.98" y2="264.82" stroke="#222" stroke-width="0.6"/>
<line x1="391.44" y1="261.14" x2="392.4" y2="262.42" stroke="#222" stroke-width="0.6"/>
<line x1="391.44" y1="261.14" x2="390.25" y2="262.21" stroke="#222" stroke-width="0.6"/>
<line x1="390.6" y1="269.5" x2="398.36" y2="263.63" stroke="#111" stroke-width="1.1"/>
<line x1="394.87" y1="266.27" x2="394.58" y2="267.85" stroke="#222" stroke-width="0.6"/>
<line x1="394.87" y1="266.27" x2="393.28" y2="266.12" stroke="#222" stroke-width="0.6"/>
<line x1="396.81" y1="264.81" x2="396.52" y2="266.38" stroke="#222" stroke-width="0.6"/>
<line x1="396.81" y1="264.81" x2="395.22" y2="264.66" stroke="#222" stroke-width="0.6"/>
<line x1="390.6" y1="269.5" x2="399.23" y2="267.08" stroke="#111" stroke-width="1.1"/>
<line x1="395.34" y1="268.17" x2="394.5" y2="269.53" stroke="#222" stroke-width="0.6"/>
<line x1="395.34" y1="268.17" x2="393.92" y2="267.45" stroke="#222" stroke-width="0.6"/>
<line x1="397.5" y1="267.56" x2="396.66" y2="268.92" stroke="#222" stroke-width="0.6"/>
<line x1="397.5" y1="267.56" x2="396.07" y2="266.84" stroke="#222" stroke-width="0.6"/>
<circle cx="390.6" cy="269.5" r="1.2" fill="#111" stroke="#111" stroke-width="0.5"/>
<circle cx="437.5" cy="268" r="7.3" fill="none" stroke="#222" stroke-width="0.9"/>
<path d="M437.5 268 Q441.31 271.93 444.8 268" fill="none" stroke="#111" stroke-width="1.1"/>
<path d="M437.5 268 Q437.42 273.47 442.66 273.16" fill="none" stroke="#111" stroke-width="1.1"/>
<path d="M437.5 268 Q433.57 271.81 437.5 275.3" fill="none" stroke="#111" stroke-width="1.1"/>
<path d="M437.5 268 Q432.03 267.92 432.34 273.16" fill="none" stroke="#111" stroke-width="1.1"/>
<path d="M437.5 268 Q433.69 264.07 430.2 268" fill="none" stroke="#111" stroke-width="1.1"/>
<path d="M437.5 268 Q437.58 262.53 432.34 262.84" fill="none" stroke="#111" stroke-width="1.1"/>
<path d="M437.5 268 Q441.43 264.19 437.5 260.7" fill="none" stroke="#111" stroke-width="1.1"/>
<path d="M437.5 268 Q442.97 268.08 442.66 262.84" fill="none" stroke="#111" stroke-width="1.1"/>
<circle cx="490" cy="271.3" r="6.8" fill="#3a3a3a" stroke="#111" stroke-width="0.9"/>
<line x1="486.94" y1="268.47" x2="488.68" y2="268.94" stroke="#fff" stroke-width="0.7"/>
<line x1="488.58" y1="268.66" x2="489.33" y2="270.3" stroke="#fff" stroke-width="0.7"/>
<line x1="486.91" y1="274" x2="488.7" y2="274.13" stroke="#fff" stroke-width="0.7"/>
<line x1="488.29" y1="267.25" x2="489.27" y2="268.77" stroke="#fff" stroke-width="0.7"/>
<line x1="487.78" y1="271.21" x2="487.62" y2="273" stroke="#fff" stroke-width="0.7"/>
<line x1="489.13" y1="273.91" x2="490.16" y2="275.38" stroke="#fff" stroke-width="0.7"/>
<line x1="493.49" y1="268.96" x2="492.12" y2="270.12" stroke="#fff" stroke-width="0.7"/>
<line x1="492.74" y1="271.85" x2="491.08" y2="272.53" stroke="#fff" stroke-width="0.7"/>
<line x1="489.22" y1="275.18" x2="487.87" y2="276.37" stroke="#fff" stroke-width="0.7"/>
<line x1="487.44" y1="276.15" x2="489.11" y2="276.82" stroke="#fff" stroke-width="0.7"/>
<line x1="494.39" y1="273.19" x2="496.07" y2="273.85" stroke="#fff" stroke-width="0.7"/>
<line x1="489.87" y1="266.06" x2="491.47" y2="266.88" stroke="#fff" stroke-width="0.7"/>
<line x1="489.01" y1="275.55" x2="490.77" y2="275.93" stroke="#fff" stroke-width="0.7"/>
<line x1="485.94" y1="273.84" x2="484.69" y2="275.13" stroke="#fff" stroke-width="0.7"/>
<line x1="491.91" y1="268.47" x2="493.7" y2="268.57" stroke="#fff" stroke-width="0.7"/>
<line x1="490.65" y1="266.82" x2="488.96" y2="267.44" stroke="#fff" stroke-width="0.7"/>
<line x1="491.61" y1="275.56" x2="489.85" y2="275.93" stroke="#fff" stroke-width="0.7"/>
<line x1="488.18" y1="267.33" x2="487.57" y2="269.02" stroke="#fff" stroke-width="0.7"/>
<line x1="491.56" y1="271.83" x2="490.49" y2="273.27" stroke="#fff" stroke-width="0.7"/>
<line x1="495.06" y1="269.99" x2="494.78" y2="271.77" stroke="#fff" stroke-width="0.7"/>
<line x1="486.74" y1="271.38" x2="488.08" y2="272.58" stroke="#fff" stroke-width="0.7"/>
<line x1="489.79" y1="269.75" x2="491.56" y2="270.06" stroke="#fff" stroke-width="0.7"/>
<line x1="490.22" y1="269.95" x2="488.52" y2="270.56" stroke="#fff" stroke-width="0.7"/>
<line x1="489.65" y1="276.29" x2="491.11" y2="277.34" stroke="#fff" stroke-width="0.7"/>
<line x1="490.83" y1="269.37" x2="491.03" y2="271.16" stroke="#fff" stroke-width="0.7"/>
<line x1="491.3" y1="253.8" x2="497.9" y2="254.46" stroke="#111" stroke-width="0.9"/>
<line x1="494.93" y1="254.16" x2="493.65" y2="255.12" stroke="#222" stroke-width="0.6"/>
<line x1="494.93" y1="254.16" x2="493.86" y2="252.97" stroke="#222" stroke-width="0.6"/>
<line x1="496.58" y1="254.33" x2="495.3" y2="255.29" stroke="#222" stroke-width="0.6"/>
<line x1="496.58" y1="254.33" x2="495.51" y2="253.14" stroke="#222" stroke-width="0.6"/>
<line x1="491.3" y1="253.8" x2="495.69" y2="261.08" stroke="#111" stroke-width="0.9"/>
<line x1="493.71" y1="257.8" x2="492.18" y2="257.35" stroke="#222" stroke-width="0.6"/>
<line x1="493.71" y1="257.8" x2="494.03" y2="256.24" stroke="#222" stroke-width="0.6"/>
<line x1="494.81" y1="259.62" x2="493.28" y2="259.17" stroke="#222" stroke-width="0.6"/>
<line x1="494.81" y1="259.62" x2="495.13" y2="258.06" stroke="#222" stroke-width="0.6"/>
<line x1="491.3" y1="253.8" x2="491.81" y2="261.66" stroke="#111" stroke-width="0.9"/>
<line x1="491.58" y1="258.12" x2="490.42" y2="257.02" stroke="#222" stroke-width="0.6"/>
<line x1="491.58" y1="258.12" x2="492.58" y2="256.88" stroke="#222" stroke-width="0.6"/>
<line x1="491.7" y1="260.09" x2="490.55" y2="258.98" stroke="#222" stroke-width="0.6"/>
<line x1="491.7" y1="260.09" x2="492.71" y2="258.84" stroke="#222" stroke-width="0.6"/>
<line x1="491.3" y1="253.8" x2="488.38" y2="260.44" stroke="#111" stroke-width="0.9"/>
<line x1="489.69" y1="257.45" x2="489.18" y2="255.94" stroke="#222" stroke-width="0.6"/>
<line x1="489.69" y1="257.45" x2="491.16" y2="256.81" stroke="#222" stroke-width="0.6"/>
<line x1="488.96" y1="259.11" x2="488.45" y2="257.6" stroke="#222" stroke-width="0.6"/>
<line x1="488.96" y1="259.11" x2="490.43" y2="258.47" stroke="#222" stroke-width="0.6"/>
<line x1="491.3" y1="253.8" x2="484.84" y2="255.3" stroke="#111" stroke-width="0.9"/>
<line x1="487.75" y1="254.63" x2="488.65" y2="253.31" stroke="#222" stroke-width="0.6"/>
<line x1="487.75" y1="254.63" x2="489.14" y2="255.41" stroke="#222" stroke-width="0.6"/>
<line x1="486.13" y1="255" x2="487.04" y2="253.68" stroke="#222" stroke-width="0.6"/>
<line x1="486.13" y1="255" x2="487.53" y2="255.79" stroke="#222" stroke-width="0.6"/>
<line x1="491.3" y1="253.8" x2="483.06" y2="251.7" stroke="#111" stroke-width="0.9"/>
<line x1="486.77" y1="252.64" x2="488.18" y2="251.89" stroke="#222" stroke-width="0.6"/>
<line x1="486.77" y1="252.64" x2="487.65" y2="253.98" stroke="#222" stroke-width="0.6"/>
<line x1="484.71" y1="252.12" x2="486.12" y2="251.36" stroke="#222" stroke-width="0.6"/>
<line x1="484.71" y1="252.12" x2="485.59" y2="253.46" stroke="#222" stroke-width="0.6"/>
<line x1="491.3" y1="253.8" x2="485.42" y2="248.56" stroke="#111" stroke-width="0.9"/>
<line x1="488.07" y1="250.92" x2="489.67" y2="250.9" stroke="#222" stroke-width="0.6"/>
<line x1="488.07" y1="250.92" x2="488.23" y2="252.51" stroke="#222" stroke-width="0.6"/>
<line x1="486.6" y1="249.61" x2="488.2" y2="249.58" stroke="#222" stroke-width="0.6"/>
<line x1="486.6" y1="249.61" x2="486.76" y2="251.2" stroke="#222" stroke-width="0.6"/>
<line x1="491.3" y1="253.8" x2="491.92" y2="246.57" stroke="#111" stroke-width="0.9"/>
<line x1="491.64" y1="249.83" x2="492.62" y2="251.09" stroke="#222" stroke-width="0.6"/>
<line x1="491.64" y1="249.83" x2="490.46" y2="250.91" stroke="#222" stroke-width="0.6"/>
<line x1="491.8" y1="248.02" x2="492.77" y2="249.29" stroke="#222" stroke-width="0.6"/>
<line x1="491.8" y1="248.02" x2="490.62" y2="249.1" stroke="#222" stroke-width="0.6"/>
<line x1="491.3" y1="253.8" x2="494.85" y2="248.2" stroke="#111" stroke-width="0.9"/>
<line x1="493.25" y1="250.72" x2="493.53" y2="252.29" stroke="#222" stroke-width="0.6"/>
<line x1="493.25" y1="250.72" x2="491.71" y2="251.14" stroke="#222" stroke-width="0.6"/>
<line x1="494.14" y1="249.32" x2="494.42" y2="250.89" stroke="#222" stroke-width="0.6"/>
<line x1="494.14" y1="249.32" x2="492.59" y2="249.74" stroke="#222" stroke-width="0.6"/>
<line x1="491.3" y1="253.8" x2="498.64" y2="249.52" stroke="#111" stroke-width="0.9"/>
<line x1="495.34" y1="251.44" x2="494.86" y2="252.97" stroke="#222" stroke-width="0.6"/>
<line x1="495.34" y1="251.44" x2="493.77" y2="251.1" stroke="#222" stroke-width="0.6"/>
<line x1="497.17" y1="250.37" x2="496.7" y2="251.9" stroke="#222" stroke-width="0.6"/>
<line x1="497.17" y1="250.37" x2="495.61" y2="250.03" stroke="#222" stroke-width="0.6"/>
<circle cx="491.3" cy="253.8" r="1.2" fill="#111" stroke="#111" stroke-width="0.5"/>
<line x1="484" y1="272" x2="488.66" y2="272.47" stroke="#111" stroke-width="0.8"/>
<line x1="486.56" y1="272.26" x2="485.28" y2="273.21" stroke="#222" stroke-width="0.6"/>
<line x1="486.56" y1="272.26" x2="485.5" y2="271.06" stroke="#222" stroke-width="0.6"/>
<line x1="487.73" y1="272.37" x2="486.44" y2="273.33" stroke="#222" stroke-width="0.6"/>
<line x1="487.73" y1="272.37" x2="486.66" y2="271.18" stroke="#222" stroke-width="0.6"/>
<line x1="484" y1="272" x2="486.26" y2="277.56" stroke="#111" stroke-width="0.8"/>
<line x1="485.24" y1="275.06" x2="483.8" y2="274.37" stroke="#222" stroke-width="0.6"/>
<line x1="485.24" y1="275.06" x2="485.8" y2="273.56" stroke="#222" stroke-width="0.6"/>
<line x1="485.8" y1="276.45" x2="484.36" y2="275.76" stroke="#222" stroke-width="0.6"/>
<line x1="485.8" y1="276.45" x2="486.36" y2="274.95" stroke="#222" stroke-width="0.6"/>
<line x1="484" y1="272" x2="482.62" y2="277.39" stroke="#111" stroke-width="0.8"/>
<line x1="483.24" y1="274.96" x2="482.49" y2="273.55" stroke="#222" stroke-width="0.6"/>
<line x1="483.24" y1="274.96" x2="484.58" y2="274.09" stroke="#222" stroke-width="0.6"/>
<line x1="482.9" y1="276.31" x2="482.14" y2="274.9" stroke="#222" stroke-width="0.6"/>
<line x1="482.9" y1="276.31" x2="484.24" y2="275.43" stroke="#222" stroke-width="0.6"/>
<line x1="484" y1="272" x2="480.04" y2="275.24" stroke="#111" stroke-width="0.8"/>
<line x1="481.82" y1="273.78" x2="482.05" y2="272.2" stroke="#222" stroke-width="0.6"/>
<line x1="481.82" y1="273.78" x2="483.42" y2="273.87" stroke="#222" stroke-width="0.6"/>
<line x1="480.83" y1="274.59" x2="481.06" y2="273.01" stroke="#222" stroke-width="0.6"/>
<line x1="480.83" y1="274.59" x2="482.43" y2="274.68" stroke="#222" stroke-width="0.6"/>
<line x1="484" y1="272" x2="479.69" y2="270.18" stroke="#111" stroke-width="0.8"/>
<line x1="481.63" y1="271" x2="483.14" y2="270.46" stroke="#222" stroke-width="0.6"/>
<line x1="481.63" y1="271" x2="482.3" y2="272.45" stroke="#222" stroke-width="0.6"/>
<line x1="480.55" y1="270.54" x2="482.06" y2="270.01" stroke="#222" stroke-width="0.6"/>
<line x1="480.55" y1="270.54" x2="481.22" y2="272" stroke="#222" stroke-width="0.6"/>
<line x1="484" y1="272" x2="480.94" y2="266.84" stroke="#111" stroke-width="0.8"/>
<line x1="482.32" y1="269.16" x2="483.85" y2="269.63" stroke="#222" stroke-width="0.6"/>
<line x1="482.32" y1="269.16" x2="481.99" y2="270.73" stroke="#222" stroke-width="0.6"/>
<line x1="481.55" y1="267.87" x2="483.08" y2="268.34" stroke="#222" stroke-width="0.6"/>
<line x1="481.55" y1="267.87" x2="481.22" y2="269.44" stroke="#222" stroke-width="0.6"/>
<line x1="484" y1="272" x2="484.56" y2="266.47" stroke="#111" stroke-width="0.8"/>
<line x1="484.31" y1="268.96" x2="485.26" y2="270.24" stroke="#222" stroke-width="0.6"/>
<line x1="484.31" y1="268.96" x2="483.11" y2="270.02" stroke="#222" stroke-width="0.6"/>
<line x1="484.44" y1="267.57" x2="485.4" y2="268.86" stroke="#222" stroke-width="0.6"/>
<line x1="484.44" y1="267.57" x2="483.25" y2="268.64" stroke="#222" stroke-width="0.6"/>
<line x1="484" y1="272" x2="488.74" y2="270.08" stroke="#111" stroke-width="0.8"/>
<line x1="486.61" y1="270.94" x2="485.92" y2="272.39" stroke="#222" stroke-width="0.6"/>
<line x1="486.61" y1="270.94" x2="485.11" y2="270.38" stroke="#222" stroke-width="0.6"/>
<line x1="487.8" y1="270.46" x2="487.11" y2="271.91" stroke="#222" stroke-width="0.6"/>
<line x1="487.8" y1="270.46" x2="486.3" y2="269.9" stroke="#222" stroke-width="0.6"/>
<circle cx="484" cy="272" r="1.2" fill="#111" stroke="#111" stroke-width="0.5"/>
<path d="M404 270.5 Q418 287 433 271.5" fill="none" stroke="#3c3c3c" stroke-width="0.7"/>
<path d="M404 270.5 Q420 273 433 271.5" fill="none" stroke="#3c3c3c" stroke-width="0.7"/>
<path d="M441 271.5 Q453 287 467 273" fill="none" stroke="#3c3c3c" stroke-width="0.7"/>
<path d="M441 271.5 Q452 274 467 273" fill="none" stroke="#3c3c3c" stroke-width="0.7"/>
<text x="203.3" y="134.4" font-size="9" text-anchor="start" font-family='"Liberation Serif","Noto Serif CJK SC",serif' fill="#222" font-weight="400" >造型黄金叶</text>
<line x1="202.3" y1="135.6" x2="290" y2="135.6" stroke="#3c3c3c" stroke-width="0.85"/>
<text x="203.3" y="145.6" font-size="9" text-anchor="start" font-family='"Liberation Serif","Noto Serif CJK SC",serif' fill="#222" font-weight="400" >葱 兰</text>
<line x1="202.3" y1="146.8" x2="285" y2="146.8" stroke="#3c3c3c" stroke-width="0.85"/>
<text x="203.3" y="156.6" font-size="9" text-anchor="start" font-family='"Liberation Serif","Noto Serif CJK SC",serif' fill="#222" font-weight="400" >黄金叶球</text>
<line x1="202.3" y1="157.8" x2="290" y2="157.8" stroke="#3c3c3c" stroke-width="0.85"/>
<text x="203.3" y="169.4" font-size="9" text-anchor="start" font-family='"Liberation Serif","Noto Serif CJK SC",serif' fill="#222" font-weight="400" >金边龙舌兰</text>
<line x1="202.3" y1="170.6" x2="302.5" y2="170.6" stroke="#3c3c3c" stroke-width="0.85"/>
<text x="203.3" y="181.8" font-size="9" text-anchor="start" font-family='"Liberation Serif","Noto Serif CJK SC",serif' fill="#222" font-weight="400" >鸡蛋花</text>
<line x1="202.3" y1="183" x2="282" y2="183" stroke="#3c3c3c" stroke-width="0.85"/>
<line x1="282" y1="183" x2="325" y2="162" stroke="#3c3c3c" stroke-width="0.85"/>
<text x="203.3" y="193" font-size="9" text-anchor="start" font-family='"Liberation Serif","Noto Serif CJK SC",serif' fill="#222" font-weight="400" >玫瑰花</text>
<line x1="202.3" y1="194.2" x2="283.7" y2="194.2" stroke="#3c3c3c" stroke-width="0.85"/>
<line x1="283.7" y1="194.2" x2="332" y2="163" stroke="#3c3c3c" stroke-width="0.85"/>
<text x="203.3" y="204.8" font-size="9" text-anchor="start" font-family='"Liberation Serif","Noto Serif CJK SC",serif' fill="#222" font-weight="400" >花叶鹅掌藤</text>
<line x1="202.3" y1="206" x2="284.5" y2="206" stroke="#3c3c3c" stroke-width="0.85"/>
<line x1="284.5" y1="206" x2="341" y2="165.8" stroke="#3c3c3c" stroke-width="0.85"/>
<text x="300" y="207.8" font-size="9" text-anchor="start" font-family='"Liberation Serif","Noto Serif CJK SC",serif' fill="#222" font-weight="400" >红 铁</text>
<line x1="299" y1="209" x2="345.3" y2="209" stroke="#3c3c3c" stroke-width="0.85"/>
<line x1="345.3" y1="209" x2="347.5" y2="182" stroke="#3c3c3c" stroke-width="0.85"/>
<text x="307" y="220" font-size="9" text-anchor="start" font-family='"Liberation Serif","Noto Serif CJK SC",serif' fill="#222" font-weight="400" >红继木球</text>
<line x1="306" y1="221.2" x2="354" y2="221.2" stroke="#3c3c3c" stroke-width="0.85"/>
<line x1="354" y1="221.2" x2="364.5" y2="192.5" stroke="#3c3c3c" stroke-width="0.85"/>
<text x="316" y="234.6" font-size="9" text-anchor="start" font-family='"Liberation Serif","Noto Serif CJK SC",serif' fill="#222" font-weight="400" >毛杜鹃球</text>
<line x1="315" y1="235.8" x2="359.7" y2="235.8" stroke="#3c3c3c" stroke-width="0.85"/>
<line x1="359.7" y1="235.8" x2="376" y2="229" stroke="#3c3c3c" stroke-width="0.85"/>
<text x="329" y="247" font-size="9" text-anchor="start" font-family='"Liberation Serif","Noto Serif CJK SC",serif' fill="#222" font-weight="400" >排骨草</text>
<line x1="328" y1="248.2" x2="368.2" y2="248.2" stroke="#3c3c3c" stroke-width="0.85"/>
<line x1="368.2" y1="248.2" x2="391" y2="234" stroke="#3c3c3c" stroke-width="0.85"/>
<text x="327.5" y="269.8" font-size="9" text-anchor="start" font-family='"Liberation Serif","Noto Serif CJK SC",serif' fill="#222" font-weight="400" >苏 铁</text>
<line x1="326.5" y1="271" x2="389" y2="271" stroke="#3c3c3c" stroke-width="0.85"/>
<text x="384" y="298.1" font-size="9" text-anchor="start" font-family='"Liberation Serif","Noto Serif CJK SC",serif' fill="#222" font-weight="400" >大叶蚌兰</text>
<line x1="383" y1="299.3" x2="420.8" y2="299.3" stroke="#3c3c3c" stroke-width="0.85"/>
<line x1="420.8" y1="299.3" x2="420.8" y2="272" stroke="#3c3c3c" stroke-width="0.85"/>
<text x="455" y="298" font-size="9" text-anchor="start" font-family='"Liberation Serif","Noto Serif CJK SC",serif' fill="#222" font-weight="400" >花叶良姜</text>
<line x1="450" y1="299.3" x2="491" y2="299.3" stroke="#3c3c3c" stroke-width="0.85"/>
<line x1="450" y1="299.3" x2="450" y2="270" stroke="#3c3c3c" stroke-width="0.85"/>
<text x="466.5" y="307" font-size="9" text-anchor="start" font-family='"Liberation Serif","Noto Serif CJK SC",serif' fill="#222" font-weight="400" >露 兜</text>
<line x1="437.5" y1="308.2" x2="490" y2="308.2" stroke="#3c3c3c" stroke-width="0.85"/>
<line x1="437.5" y1="308.2" x2="437.5" y2="268" stroke="#3c3c3c" stroke-width="0.85"/>
<text x="619" y="91.3" font-size="9" text-anchor="end" font-family='"Liberation Serif","Noto Serif CJK SC",serif' fill="#222" font-weight="400" >多花勒杜鹃</text>
<line x1="548.8" y1="92.5" x2="619" y2="92.5" stroke="#3c3c3c" stroke-width="0.85"/>
<text x="619" y="100.6" font-size="9" text-anchor="end" font-family='"Liberation Serif","Noto Serif CJK SC",serif' fill="#222" font-weight="400" >大叶伞</text>
<line x1="540" y1="101.8" x2="619" y2="101.8" stroke="#3c3c3c" stroke-width="0.85"/>
<text x="619" y="111.8" font-size="9" text-anchor="end" font-family='"Liberation Serif","Noto Serif CJK SC",serif' fill="#222" font-weight="400" >蜘蛛兰</text>
<line x1="546" y1="113" x2="619" y2="113" stroke="#3c3c3c" stroke-width="0.85"/>
<text x="619" y="126.3" font-size="9" text-anchor="end" font-family='"Liberation Serif","Noto Serif CJK SC",serif' fill="#222" font-weight="400" >春羽</text>
<line x1="543.8" y1="127.5" x2="619" y2="127.5" stroke="#3c3c3c" stroke-width="0.85"/>
<text x="619" y="145" font-size="9" text-anchor="end" font-family='"Liberation Serif","Noto Serif CJK SC",serif' fill="#222" font-weight="400" >风车草</text>
<line x1="462" y1="146.2" x2="619" y2="146.2" stroke="#3c3c3c" stroke-width="0.85"/>
<text x="619" y="157.1" font-size="9" text-anchor="end" font-family='"Liberation Serif","Noto Serif CJK SC",serif' fill="#222" font-weight="400" >鸡蛋花</text>
<line x1="543" y1="158.3" x2="619" y2="158.3" stroke="#3c3c3c" stroke-width="0.85"/>
<text x="619" y="170.6" font-size="9" text-anchor="end" font-family='"Liberation Serif","Noto Serif CJK SC",serif' fill="#222" font-weight="400" >小叶榄仁</text>
<line x1="536" y1="171.8" x2="619" y2="171.8" stroke="#3c3c3c" stroke-width="0.85"/>
<text x="619" y="187.3" font-size="9" text-anchor="end" font-family='"Liberation Serif","Noto Serif CJK SC",serif' fill="#222" font-weight="400" >花叶良姜</text>
<line x1="508" y1="188.5" x2="619" y2="188.5" stroke="#3c3c3c" stroke-width="0.85"/>
<text x="619" y="205" font-size="9" text-anchor="end" font-family='"Liberation Serif","Noto Serif CJK SC",serif' fill="#222" font-weight="400" >蜘蛛兰</text>
<line x1="492.5" y1="206.2" x2="619" y2="206.2" stroke="#3c3c3c" stroke-width="0.85"/>
<text x="619" y="216.6" font-size="9" text-anchor="end" font-family='"Liberation Serif","Noto Serif CJK SC",serif' fill="#222" font-weight="400" >红 铁</text>
<line x1="470" y1="217.8" x2="619" y2="217.8" stroke="#3c3c3c" stroke-width="0.85"/>
<text x="619" y="231.8" font-size="9" text-anchor="end" font-family='"Liberation Serif","Noto Serif CJK SC",serif' fill="#222" font-weight="400" >散尾葵</text>
<line x1="542.5" y1="233" x2="619" y2="233" stroke="#3c3c3c" stroke-width="0.85"/>
<text x="619" y="248.8" font-size="9" text-anchor="end" font-family='"Liberation Serif","Noto Serif CJK SC",serif' fill="#222" font-weight="400" >紫花马樱丹</text>
<line x1="541" y1="250" x2="619" y2="250" stroke="#3c3c3c" stroke-width="0.85"/>
<text x="619" y="266" font-size="9" text-anchor="end" font-family='"Liberation Serif","Noto Serif CJK SC",serif' fill="#222" font-weight="400" >毛杜鹃球</text>
<line x1="496.3" y1="267.2" x2="619" y2="267.2" stroke="#3c3c3c" stroke-width="0.85"/>
<text x="619" y="277.1" font-size="9" text-anchor="end" font-family='"Liberation Serif","Noto Serif CJK SC",serif' fill="#222" font-weight="400" >美丽针葵</text>
<line x1="480.5" y1="278.3" x2="619" y2="278.3" stroke="#3c3c3c" stroke-width="0.85"/>
<text x="619" y="305.1" font-size="9" text-anchor="end" font-family='"Liberation Serif","Noto Serif CJK SC",serif' fill="#222" font-weight="400" >台湾草</text>
<line x1="533" y1="306.3" x2="619" y2="306.3" stroke="#3c3c3c" stroke-width="0.85"/>
<text x="619" y="317.6" font-size="9" text-anchor="end" font-family='"Liberation Serif","Noto Serif CJK SC",serif' fill="#222" font-weight="400" >非洲茉莉球</text>
<line x1="535" y1="318.8" x2="619" y2="318.8" stroke="#3c3c3c" stroke-width="0.85"/>
<text x="619" y="331.1" font-size="9" text-anchor="end" font-family='"Liberation Serif","Noto Serif CJK SC",serif' fill="#222" font-weight="400" >红苏花球</text>
<line x1="496" y1="332.3" x2="619" y2="332.3" stroke="#3c3c3c" stroke-width="0.85"/>
<text x="619" y="348.4" font-size="9" text-anchor="end" font-family='"Liberation Serif","Noto Serif CJK SC",serif' fill="#222" font-weight="400" >黄金叶</text>
<line x1="473" y1="349.6" x2="619" y2="349.6" stroke="#3c3c3c" stroke-width="0.85"/>
<line x1="473" y1="331" x2="473" y2="349.6" stroke="#3c3c3c" stroke-width="0.85"/>
<text x="619" y="362.6" font-size="9" text-anchor="end" font-family='"Liberation Serif","Noto Serif CJK SC",serif' fill="#222" font-weight="400" >小叶发财树</text>
<line x1="442.5" y1="363.8" x2="619" y2="363.8" stroke="#3c3c3c" stroke-width="0.85"/>
<line x1="442.5" y1="330" x2="442.5" y2="363.8" stroke="#3c3c3c" stroke-width="0.85"/>
<text x="619" y="380.1" font-size="9" text-anchor="end" font-family='"Liberation Serif","Noto Serif CJK SC",serif' fill="#222" font-weight="400" >七彩大红花</text>
<line x1="419.3" y1="381.3" x2="619" y2="381.3" stroke="#3c3c3c" stroke-width="0.85"/>
<line x1="419.3" y1="330" x2="419.3" y2="381.3" stroke="#3c3c3c" stroke-width="0.85"/>
<path d="M376.3 409.5 L376.3 319.3 L501.8 319.3 L501.8 337.5" fill="none" stroke="#3c3c3c" stroke-width="0.85"/>
<path d="M379.5 336 L379.5 322.5 L499.3 322.5 L499.3 336" fill="none" stroke="#3c3c3c" stroke-width="0.85"/>
<line x1="379.5" y1="336" x2="499.3" y2="336" stroke="#3c3c3c" stroke-width="0.7"/>
<line x1="376.3" y1="337.6" x2="501.8" y2="337.6" stroke="#3c3c3c" stroke-width="0.85"/>
<line x1="410" y1="322.5" x2="410" y2="336" stroke="#3c3c3c" stroke-width="0.8"/>
<line x1="411.8" y1="322.5" x2="411.8" y2="336" stroke="#3c3c3c" stroke-width="0.8"/>
<line x1="467.5" y1="322.5" x2="467.5" y2="336" stroke="#3c3c3c" stroke-width="0.8"/>
<line x1="469.2" y1="322.5" x2="469.2" y2="336" stroke="#3c3c3c" stroke-width="0.8"/>
<circle cx="395.6" cy="330" r="9.6" fill="none" stroke="#222" stroke-width="1.0"/>
<path d="M395.6 330 Q397.34 334.47 403.6 334.37" fill="none" stroke="#111" stroke-width="1.0"/>
<path d="M398.97 331.84 L403.24 329.23" fill="none" stroke="#222" stroke-width="0.8"/>
<path d="M395.6 330 Q390.86 329.27 387.81 334.75" fill="none" stroke="#111" stroke-width="1.0"/>
<path d="M392.32 332 L392.44 337" fill="none" stroke="#222" stroke-width="0.8"/>
<path d="M395.6 330 Q398.6 326.26 395.38 320.88" fill="none" stroke="#111" stroke-width="1.0"/>
<path d="M395.51 326.16 L391.12 323.77" fill="none" stroke="#222" stroke-width="0.8"/>
<circle cx="442" cy="329.5" r="12.6" fill="none" stroke="#222" stroke-width="0.9"/>
<path d="M442 329.5 Q448.58 336.28 454.6 329.5" fill="none" stroke="#111" stroke-width="1.1"/>
<path d="M442 329.5 Q443.34 338.85 452.19 336.91" fill="none" stroke="#111" stroke-width="1.1"/>
<path d="M442 329.5 Q437.59 337.86 445.89 341.48" fill="none" stroke="#111" stroke-width="1.1"/>
<path d="M442 329.5 Q433.52 333.67 438.11 341.48" fill="none" stroke="#111" stroke-width="1.1"/>
<path d="M442 329.5 Q432.69 327.89 431.81 336.91" fill="none" stroke="#111" stroke-width="1.1"/>
<path d="M442 329.5 Q435.42 322.72 429.4 329.5" fill="none" stroke="#111" stroke-width="1.1"/>
<path d="M442 329.5 Q440.66 320.15 431.81 322.09" fill="none" stroke="#111" stroke-width="1.1"/>
<path d="M442 329.5 Q446.41 321.14 438.11 317.52" fill="none" stroke="#111" stroke-width="1.1"/>
<path d="M442 329.5 Q450.48 325.33 445.89 317.52" fill="none" stroke="#111" stroke-width="1.1"/>
<path d="M442 329.5 Q451.31 331.11 452.19 322.09" fill="none" stroke="#111" stroke-width="1.1"/>
<path d="M455.95 329.5 L454.76 330.5 L453.5 331.32 L454.45 332.49 L455.27 333.81 L453.83 334.4 L452.38 334.79 L452.91 336.19 L453.29 337.7 L451.73 337.81 L450.24 337.74 L450.31 339.23 L450.2 340.79 L448.69 340.41 L447.29 339.88 L446.9 341.33 L446.31 342.77 L444.99 341.95 L443.82 341 L443 342.26 L442 343.45 L441 342.26 L440.18 341 L439.01 341.95 L437.69 342.77 L437.1 341.33 L436.71 339.88 L435.31 340.41 L433.8 340.79 L433.69 339.23 L433.76 337.74 L432.27 337.81 L430.71 337.7 L431.09 336.19 L431.62 334.79 L430.17 334.4 L428.73 333.81 L429.55 332.49 L430.5 331.32 L429.24 330.5 L428.05 329.5 L429.24 328.5 L430.5 327.68 L429.55 326.51 L428.73 325.19 L430.17 324.6 L431.62 324.21 L431.09 322.81 L430.71 321.3 L432.27 321.19 L433.76 321.26 L433.69 319.77 L433.8 318.21 L435.31 318.59 L436.71 319.12 L437.1 317.67 L437.69 316.23 L439.01 317.05 L440.18 318 L441 316.74 L442 315.55 L443 316.74 L443.82 318 L444.99 317.05 L446.31 316.23 L446.9 317.67 L447.29 319.12 L448.69 318.59 L450.2 318.21 L450.31 319.77 L450.24 321.26 L451.73 321.19 L453.29 321.3 L452.91 322.81 L452.38 324.21 L453.83 324.6 L455.27 325.19 L454.45 326.51 L453.5 327.68 L454.76 328.5 Z" fill="none" stroke="#1a1a1a" stroke-width="1.1"/>
<circle cx="442" cy="329.5" r="0.5" fill="none" stroke="#333" stroke-width="0.5"/>
<circle cx="487" cy="329.3" r="9.5" fill="none" stroke="#222" stroke-width="1.0"/>
<path d="M487 329.3 Q488.72 333.73 494.92 333.63" fill="none" stroke="#111" stroke-width="1.0"/>
<path d="M490.33 331.12 L494.56 328.54" fill="none" stroke="#222" stroke-width="0.8"/>
<path d="M487 329.3 Q482.31 328.58 479.29 334" fill="none" stroke="#111" stroke-width="1.0"/>
<path d="M483.75 331.28 L483.88 336.23" fill="none" stroke="#222" stroke-width="0.8"/>
<path d="M487 329.3 Q489.97 325.6 486.79 320.28" fill="none" stroke="#111" stroke-width="1.0"/>
<path d="M486.91 325.5 L482.56 323.13" fill="none" stroke="#222" stroke-width="0.8"/>
<line x1="374" y1="315" x2="414" y2="315" stroke="#3c3c3c" stroke-width="0.8"/>
<line x1="374.9" y1="317.6" x2="380.1" y2="312.4" stroke="#222" stroke-width="0.9"/>
<line x1="407.9" y1="317.6" x2="413.1" y2="312.4" stroke="#222" stroke-width="0.9"/>
<line x1="377.5" y1="311.5" x2="377.5" y2="319.3" stroke="#3c3c3c" stroke-width="0.7"/>
<line x1="410.5" y1="311.5" x2="410.5" y2="319.3" stroke="#3c3c3c" stroke-width="0.7"/>
<text x="394.5" y="313.8" font-size="7" text-anchor="middle" font-family='"Liberation Sans",sans-serif' fill="#333" font-weight="400" >1200</text>
<line x1="462" y1="316.8" x2="505" y2="316.8" stroke="#3c3c3c" stroke-width="0.8"/>
<line x1="463.4" y1="319.4" x2="468.6" y2="314.2" stroke="#222" stroke-width="0.9"/>
<line x1="499.2" y1="319.4" x2="504.4" y2="314.2" stroke="#222" stroke-width="0.9"/>
<line x1="466" y1="313" x2="466" y2="319.3" stroke="#3c3c3c" stroke-width="0.7"/>
<line x1="501.8" y1="313" x2="501.8" y2="319.3" stroke="#3c3c3c" stroke-width="0.7"/>
<text x="483.8" y="315.6" font-size="7" text-anchor="middle" font-family='"Liberation Sans",sans-serif' fill="#333" font-weight="400" >1200</text>
<path d="M247.5 439.3 L178 439.3 L178 447.5" fill="none" stroke="#111" stroke-width="1.2"/>
<path d="M247.5 439.3 C258 426 270 413.8 290 413.8 L382.5 414.4 L382.5 343.3 L496.8 343.3 L496.8 447.5" fill="none" stroke="#111" stroke-width="1.3"/>
<path d="M171.3 447.5 L171.3 433.3 L245 433.3" fill="none" stroke="#3c3c3c" stroke-width="0.85"/>
<path d="M245 433.3 C256 420 270 408.8 290 408.8 L376.3 409.5" fill="none" stroke="#3c3c3c" stroke-width="0.85"/>
<line x1="304.3" y1="337.6" x2="376.3" y2="337.6" stroke="#3c3c3c" stroke-width="0.85"/>
<line x1="310" y1="343" x2="366.5" y2="343" stroke="#3c3c3c" stroke-width="0.85"/>
<line x1="304.3" y1="337.6" x2="304.3" y2="408.8" stroke="#3c3c3c" stroke-width="0.85"/>
<line x1="310" y1="343" x2="310" y2="408.8" stroke="#3c3c3c" stroke-width="0.85"/>
<circle cx="310.5" cy="343.2" r="5.8" fill="#fff" stroke="#3c3c3c" stroke-width="0.85"/>
<circle cx="310.5" cy="343.2" r="3.4" fill="none" stroke="#3c3c3c" stroke-width="0.8"/>
<circle cx="372.5" cy="342.6" r="5.8" fill="#fff" stroke="#3c3c3c" stroke-width="0.85"/>
<circle cx="372.5" cy="342.6" r="3.4" fill="none" stroke="#3c3c3c" stroke-width="0.8"/>
<path d="M255 337.6 L255 343 A49.4 44 0 0 0 304.4 386.8" fill="none" stroke="#3c3c3c" stroke-width="0.85"/>
<path d="M275.5 337.6 L275.5 343 A28.9 23.8 0 0 0 304.4 366.8" fill="none" stroke="#3c3c3c" stroke-width="0.85"/>
<line x1="255" y1="337.6" x2="275.5" y2="337.6" stroke="#3c3c3c" stroke-width="0.85"/>
<line x1="275.55" y1="344.37" x2="255.08" y2="345.53" stroke="#3c3c3c" stroke-width="0.7"/>
<line x1="276.24" y1="348.33" x2="256.26" y2="352.86" stroke="#3c3c3c" stroke-width="0.7"/>
<line x1="277.72" y1="352.15" x2="258.79" y2="359.91" stroke="#3c3c3c" stroke-width="0.7"/>
<line x1="279.96" y1="355.7" x2="262.62" y2="366.48" stroke="#3c3c3c" stroke-width="0.7"/>
<line x1="282.89" y1="358.89" x2="267.63" y2="372.38" stroke="#3c3c3c" stroke-width="0.7"/>
<line x1="286.43" y1="361.64" x2="273.68" y2="377.46" stroke="#3c3c3c" stroke-width="0.7"/>
<line x1="290.48" y1="363.86" x2="280.6" y2="381.56" stroke="#3c3c3c" stroke-width="0.7"/>
<line x1="294.92" y1="365.48" x2="288.19" y2="384.57" stroke="#3c3c3c" stroke-width="0.7"/>
<line x1="299.63" y1="366.47" x2="296.25" y2="386.4" stroke="#3c3c3c" stroke-width="0.7"/>
<text x="359" y="436" font-size="16" text-anchor="middle" font-family='"Liberation Serif","Noto Serif CJK SC",serif' fill="#111" font-weight="900" transform="skewX(-8)" style="transform-box:fill-box;transform-origin:center">别</text>
<text x="387" y="436" font-size="16" text-anchor="middle" font-family='"Liberation Serif","Noto Serif CJK SC",serif' fill="#111" font-weight="900" transform="skewX(-8)" style="transform-box:fill-box;transform-origin:center">墅</text>
<text x="414" y="436" font-size="16" text-anchor="middle" font-family='"Liberation Serif","Noto Serif CJK SC",serif' fill="#111" font-weight="900" transform="skewX(-8)" style="transform-box:fill-box;transform-origin:center">楼</text>
<path d="M104.4 298.3 L119 298.3" fill="none" stroke="#3c3c3c" stroke-width="0.85"/>
<path d="M104.6 301.8 L118.7 301.8 L118.7 222.6 L150.5 222.6 L150.5 410.3 L104.6 410.3" fill="none" stroke="#3c3c3c" stroke-width="0.85"/>
<path d="M121.5 301.8 L121.5 225 L147.5 225 L147.5 406.5 L105 406.5 L105 301.8" fill="none" stroke="#151515" stroke-width="1.2"/>
<line x1="105" y1="301.8" x2="147.5" y2="301.8" stroke="#151515" stroke-width="1.2"/>
<line x1="130.2" y1="225" x2="130.2" y2="255.2" stroke="#151515" stroke-width="1.1"/>
<line x1="121.5" y1="255.2" x2="147.5" y2="255.2" stroke="#151515" stroke-width="1.1"/>
<line x1="121.5" y1="271" x2="147.5" y2="271" stroke="#151515" stroke-width="1.1"/>
<line x1="138.7" y1="271" x2="138.7" y2="301.8" stroke="#151515" stroke-width="1.1"/>
<path d="M142.52 241.2 L142.15 242.04 L141.67 242.77 L141.71 243.65 L141.62 244.56 L140.88 245.1 L140.1 245.5 L139.7 246.28 L139.16 247.02 L138.25 247.11 L137.37 247.07 L136.64 247.55 L135.8 247.92 L134.96 247.55 L134.23 247.07 L133.35 247.11 L132.44 247.02 L131.9 246.28 L131.5 245.5 L130.72 245.1 L129.98 244.56 L129.89 243.65 L129.93 242.77 L129.45 242.04 L129.08 241.2 L129.45 240.36 L129.93 239.63 L129.89 238.75 L129.98 237.84 L130.72 237.3 L131.5 236.9 L131.9 236.12 L132.44 235.38 L133.35 235.29 L134.23 235.33 L134.96 234.85 L135.8 234.48 L136.64 234.85 L137.37 235.33 L138.25 235.29 L139.16 235.38 L139.7 236.12 L140.1 236.9 L140.88 237.3 L141.62 237.84 L141.71 238.75 L141.67 239.63 L142.15 240.36 Z" fill="none" stroke="#111" stroke-width="1.1"/>
<circle cx="133.31" cy="241.97" r="1.02" fill="#111" stroke="#111" stroke-width="0.4"/>
<circle cx="134.86" cy="239.55" r="0.61" fill="#111" stroke="#111" stroke-width="0.4"/>
<circle cx="133.72" cy="243.6" r="0.92" fill="#111" stroke="#111" stroke-width="0.4"/>
<circle cx="133.83" cy="239.38" r="0.94" fill="#111" stroke="#111" stroke-width="0.4"/>
<circle cx="131.82" cy="243.11" r="0.93" fill="#111" stroke="#111" stroke-width="0.4"/>
<circle cx="133.8" cy="244.27" r="0.73" fill="#111" stroke="#111" stroke-width="0.4"/>
<circle cx="135.13" cy="243.76" r="0.87" fill="#111" stroke="#111" stroke-width="0.4"/>
<circle cx="134.42" cy="242.92" r="0.76" fill="#111" stroke="#111" stroke-width="0.4"/>
<circle cx="134.05" cy="238.68" r="0.93" fill="#111" stroke="#111" stroke-width="0.4"/>
<circle cx="132.86" cy="240.56" r="0.69" fill="#111" stroke="#111" stroke-width="0.4"/>
<circle cx="133.95" cy="242.15" r="1.08" fill="#111" stroke="#111" stroke-width="0.4"/>
<circle cx="134.86" cy="236.36" r="0.89" fill="#111" stroke="#111" stroke-width="0.4"/>
<circle cx="133.44" cy="244.3" r="0.71" fill="#111" stroke="#111" stroke-width="0.4"/>
<circle cx="134.09" cy="239.67" r="0.71" fill="#111" stroke="#111" stroke-width="0.4"/>
<circle cx="136.15" cy="239.37" r="0.5" fill="#222" stroke="#222" stroke-width="0.3"/>
<circle cx="138.99" cy="243.96" r="0.5" fill="#222" stroke="#222" stroke-width="0.3"/>
<circle cx="137.82" cy="237.65" r="0.5" fill="#222" stroke="#222" stroke-width="0.3"/>
<circle cx="136.68" cy="240.09" r="0.5" fill="#222" stroke="#222" stroke-width="0.3"/>
<circle cx="140.09" cy="241.02" r="0.5" fill="#222" stroke="#222" stroke-width="0.3"/>
<circle cx="136.76" cy="242.96" r="0.5" fill="#222" stroke="#222" stroke-width="0.3"/>
<path d="M139.92 284.5 L139.55 285.34 L139.07 286.07 L139.11 286.95 L139.02 287.86 L138.28 288.4 L137.5 288.8 L137.1 289.58 L136.56 290.32 L135.65 290.41 L134.77 290.37 L134.04 290.85 L133.2 291.22 L132.36 290.85 L131.63 290.37 L130.75 290.41 L129.84 290.32 L129.3 289.58 L128.9 288.8 L128.12 288.4 L127.38 287.86 L127.29 286.95 L127.33 286.07 L126.85 285.34 L126.48 284.5 L126.85 283.66 L127.33 282.93 L127.29 282.05 L127.38 281.14 L128.12 280.6 L128.9 280.2 L129.3 279.42 L129.84 278.68 L130.75 278.59 L131.63 278.63 L132.36 278.15 L133.2 277.78 L134.04 278.15 L134.77 278.63 L135.65 278.59 L136.56 278.68 L137.1 279.42 L137.5 280.2 L138.28 280.6 L139.02 281.14 L139.11 282.05 L139.07 282.93 L139.55 283.66 Z" fill="none" stroke="#111" stroke-width="1.1"/>
<circle cx="131.43" cy="284.41" r="0.64" fill="#111" stroke="#111" stroke-width="0.4"/>
<circle cx="131.44" cy="284.25" r="0.72" fill="#111" stroke="#111" stroke-width="0.4"/>
<circle cx="131.69" cy="280.93" r="0.95" fill="#111" stroke="#111" stroke-width="0.4"/>
<circle cx="131.23" cy="282" r="0.74" fill="#111" stroke="#111" stroke-width="0.4"/>
<circle cx="130.5" cy="285.57" r="0.76" fill="#111" stroke="#111" stroke-width="0.4"/>
<circle cx="128.38" cy="285.69" r="0.95" fill="#111" stroke="#111" stroke-width="0.4"/>
<circle cx="129.76" cy="284.42" r="1.01" fill="#111" stroke="#111" stroke-width="0.4"/>
<circle cx="132.54" cy="280.32" r="0.64" fill="#111" stroke="#111" stroke-width="0.4"/>
<circle cx="130.3" cy="286.28" r="1.19" fill="#111" stroke="#111" stroke-width="0.4"/>
<circle cx="130.99" cy="288.73" r="1.06" fill="#111" stroke="#111" stroke-width="0.4"/>
<circle cx="129.93" cy="282.77" r="0.77" fill="#111" stroke="#111" stroke-width="0.4"/>
<circle cx="131.21" cy="284.38" r="0.9" fill="#111" stroke="#111" stroke-width="0.4"/>
<circle cx="129.39" cy="284.67" r="0.99" fill="#111" stroke="#111" stroke-width="0.4"/>
<circle cx="130.67" cy="285.79" r="0.75" fill="#111" stroke="#111" stroke-width="0.4"/>
<circle cx="134.3" cy="286.66" r="0.5" fill="#222" stroke="#222" stroke-width="0.3"/>
<circle cx="136.47" cy="284.95" r="0.5" fill="#222" stroke="#222" stroke-width="0.3"/>
<circle cx="135.57" cy="280.83" r="0.5" fill="#222" stroke="#222" stroke-width="0.3"/>
<circle cx="135.27" cy="285.73" r="0.5" fill="#222" stroke="#222" stroke-width="0.3"/>
<circle cx="135.61" cy="282.32" r="0.5" fill="#222" stroke="#222" stroke-width="0.3"/>
<circle cx="134.63" cy="288.08" r="0.5" fill="#222" stroke="#222" stroke-width="0.3"/>
<circle cx="126.8" cy="263.6" r="4.1" fill="none" stroke="#222" stroke-width="1.1"/>
<line x1="124.95" y1="261.75" x2="128.65" y2="265.45" stroke="#3c3c3c" stroke-width="0.7"/>
<line x1="124.95" y1="265.45" x2="128.65" y2="261.75" stroke="#3c3c3c" stroke-width="0.7"/>
<circle cx="141.2" cy="263.6" r="4.1" fill="none" stroke="#222" stroke-width="1.1"/>
<line x1="139.35" y1="261.75" x2="143.04" y2="265.45" stroke="#3c3c3c" stroke-width="0.7"/>
<line x1="139.35" y1="265.45" x2="143.04" y2="261.75" stroke="#3c3c3c" stroke-width="0.7"/>
<path d="M147.5 321.4 L132.4 321.4 L132.4 340.2 L117 340.2 L117 368 L132.4 368 L132.4 387.5 L147.5 387.5" fill="none" stroke="#151515" stroke-width="1.3"/>
<circle cx="115.9" cy="316.8" r="8.4" fill="none" stroke="#3c3c3c" stroke-width="0.8"/>
<line x1="115.9" y1="316.8" x2="122.2" y2="316.8" stroke="#111" stroke-width="0.7"/>
<line x1="115.9" y1="316.8" x2="123.51" y2="318.14" stroke="#111" stroke-width="0.7"/>
<line x1="115.9" y1="316.8" x2="121.82" y2="318.95" stroke="#111" stroke-width="0.7"/>
<line x1="115.9" y1="316.8" x2="122.59" y2="320.66" stroke="#111" stroke-width="0.7"/>
<line x1="115.9" y1="316.8" x2="120.73" y2="320.85" stroke="#111" stroke-width="0.7"/>
<line x1="115.9" y1="316.8" x2="120.87" y2="322.72" stroke="#111" stroke-width="0.7"/>
<line x1="115.9" y1="316.8" x2="119.05" y2="322.26" stroke="#111" stroke-width="0.7"/>
<line x1="115.9" y1="316.8" x2="118.54" y2="324.06" stroke="#111" stroke-width="0.7"/>
<line x1="115.9" y1="316.8" x2="116.99" y2="323" stroke="#111" stroke-width="0.7"/>
<line x1="115.9" y1="316.8" x2="115.9" y2="324.53" stroke="#111" stroke-width="0.7"/>
<line x1="115.9" y1="316.8" x2="114.81" y2="323" stroke="#111" stroke-width="0.7"/>
<line x1="115.9" y1="316.8" x2="113.26" y2="324.06" stroke="#111" stroke-width="0.7"/>
<line x1="115.9" y1="316.8" x2="112.75" y2="322.26" stroke="#111" stroke-width="0.7"/>
<line x1="115.9" y1="316.8" x2="110.93" y2="322.72" stroke="#111" stroke-width="0.7"/>
<line x1="115.9" y1="316.8" x2="111.07" y2="320.85" stroke="#111" stroke-width="0.7"/>
<line x1="115.9" y1="316.8" x2="109.21" y2="320.66" stroke="#111" stroke-width="0.7"/>
<line x1="115.9" y1="316.8" x2="109.98" y2="318.95" stroke="#111" stroke-width="0.7"/>
<line x1="115.9" y1="316.8" x2="108.29" y2="318.14" stroke="#111" stroke-width="0.7"/>
<line x1="115.9" y1="316.8" x2="109.6" y2="316.8" stroke="#111" stroke-width="0.7"/>
<line x1="115.9" y1="316.8" x2="108.29" y2="315.46" stroke="#111" stroke-width="0.7"/>
<line x1="115.9" y1="316.8" x2="109.98" y2="314.65" stroke="#111" stroke-width="0.7"/>
<line x1="115.9" y1="316.8" x2="109.21" y2="312.94" stroke="#111" stroke-width="0.7"/>
<line x1="115.9" y1="316.8" x2="111.07" y2="312.75" stroke="#111" stroke-width="0.7"/>
<line x1="115.9" y1="316.8" x2="110.93" y2="310.88" stroke="#111" stroke-width="0.7"/>
<line x1="115.9" y1="316.8" x2="112.75" y2="311.34" stroke="#111" stroke-width="0.7"/>
<line x1="115.9" y1="316.8" x2="113.26" y2="309.54" stroke="#111" stroke-width="0.7"/>
<line x1="115.9" y1="316.8" x2="114.81" y2="310.6" stroke="#111" stroke-width="0.7"/>
<line x1="115.9" y1="316.8" x2="115.9" y2="309.07" stroke="#111" stroke-width="0.7"/>
<line x1="115.9" y1="316.8" x2="116.99" y2="310.6" stroke="#111" stroke-width="0.7"/>
<line x1="115.9" y1="316.8" x2="118.54" y2="309.54" stroke="#111" stroke-width="0.7"/>
<line x1="115.9" y1="316.8" x2="119.05" y2="311.34" stroke="#111" stroke-width="0.7"/>
<line x1="115.9" y1="316.8" x2="120.87" y2="310.88" stroke="#111" stroke-width="0.7"/>
<line x1="115.9" y1="316.8" x2="120.73" y2="312.75" stroke="#111" stroke-width="0.7"/>
<line x1="115.9" y1="316.8" x2="122.59" y2="312.94" stroke="#111" stroke-width="0.7"/>
<line x1="115.9" y1="316.8" x2="121.82" y2="314.65" stroke="#111" stroke-width="0.7"/>
<line x1="115.9" y1="316.8" x2="123.51" y2="315.46" stroke="#111" stroke-width="0.7"/>
<circle cx="115.9" cy="316.8" r="2.52" fill="#111" stroke="#111" stroke-width="0.6"/>
<circle cx="115.9" cy="354.3" r="8.4" fill="none" stroke="#3c3c3c" stroke-width="0.8"/>
<line x1="115.9" y1="354.3" x2="122.2" y2="354.3" stroke="#111" stroke-width="0.7"/>
<line x1="115.9" y1="354.3" x2="123.51" y2="355.64" stroke="#111" stroke-width="0.7"/>
<line x1="115.9" y1="354.3" x2="121.82" y2="356.45" stroke="#111" stroke-width="0.7"/>
<line x1="115.9" y1="354.3" x2="122.59" y2="358.16" stroke="#111" stroke-width="0.7"/>
<line x1="115.9" y1="354.3" x2="120.73" y2="358.35" stroke="#111" stroke-width="0.7"/>
<line x1="115.9" y1="354.3" x2="120.87" y2="360.22" stroke="#111" stroke-width="0.7"/>
<line x1="115.9" y1="354.3" x2="119.05" y2="359.76" stroke="#111" stroke-width="0.7"/>
<line x1="115.9" y1="354.3" x2="118.54" y2="361.56" stroke="#111" stroke-width="0.7"/>
<line x1="115.9" y1="354.3" x2="116.99" y2="360.5" stroke="#111" stroke-width="0.7"/>
<line x1="115.9" y1="354.3" x2="115.9" y2="362.03" stroke="#111" stroke-width="0.7"/>
<line x1="115.9" y1="354.3" x2="114.81" y2="360.5" stroke="#111" stroke-width="0.7"/>
<line x1="115.9" y1="354.3" x2="113.26" y2="361.56" stroke="#111" stroke-width="0.7"/>
<line x1="115.9" y1="354.3" x2="112.75" y2="359.76" stroke="#111" stroke-width="0.7"/>
<line x1="115.9" y1="354.3" x2="110.93" y2="360.22" stroke="#111" stroke-width="0.7"/>
<line x1="115.9" y1="354.3" x2="111.07" y2="358.35" stroke="#111" stroke-width="0.7"/>
<line x1="115.9" y1="354.3" x2="109.21" y2="358.16" stroke="#111" stroke-width="0.7"/>
<line x1="115.9" y1="354.3" x2="109.98" y2="356.45" stroke="#111" stroke-width="0.7"/>
<line x1="115.9" y1="354.3" x2="108.29" y2="355.64" stroke="#111" stroke-width="0.7"/>
<line x1="115.9" y1="354.3" x2="109.6" y2="354.3" stroke="#111" stroke-width="0.7"/>
<line x1="115.9" y1="354.3" x2="108.29" y2="352.96" stroke="#111" stroke-width="0.7"/>
<line x1="115.9" y1="354.3" x2="109.98" y2="352.15" stroke="#111" stroke-width="0.7"/>
<line x1="115.9" y1="354.3" x2="109.21" y2="350.44" stroke="#111" stroke-width="0.7"/>
<line x1="115.9" y1="354.3" x2="111.07" y2="350.25" stroke="#111" stroke-width="0.7"/>
<line x1="115.9" y1="354.3" x2="110.93" y2="348.38" stroke="#111" stroke-width="0.7"/>
<line x1="115.9" y1="354.3" x2="112.75" y2="348.84" stroke="#111" stroke-width="0.7"/>
<line x1="115.9" y1="354.3" x2="113.26" y2="347.04" stroke="#111" stroke-width="0.7"/>
<line x1="115.9" y1="354.3" x2="114.81" y2="348.1" stroke="#111" stroke-width="0.7"/>
<line x1="115.9" y1="354.3" x2="115.9" y2="346.57" stroke="#111" stroke-width="0.7"/>
<line x1="115.9" y1="354.3" x2="116.99" y2="348.1" stroke="#111" stroke-width="0.7"/>
<line x1="115.9" y1="354.3" x2="118.54" y2="347.04" stroke="#111" stroke-width="0.7"/>
<line x1="115.9" y1="354.3" x2="119.05" y2="348.84" stroke="#111" stroke-width="0.7"/>
<line x1="115.9" y1="354.3" x2="120.87" y2="348.38" stroke="#111" stroke-width="0.7"/>
<line x1="115.9" y1="354.3" x2="120.73" y2="350.25" stroke="#111" stroke-width="0.7"/>
<line x1="115.9" y1="354.3" x2="122.59" y2="350.44" stroke="#111" stroke-width="0.7"/>
<line x1="115.9" y1="354.3" x2="121.82" y2="352.15" stroke="#111" stroke-width="0.7"/>
<line x1="115.9" y1="354.3" x2="123.51" y2="352.96" stroke="#111" stroke-width="0.7"/>
<circle cx="115.9" cy="354.3" r="2.52" fill="#111" stroke="#111" stroke-width="0.6"/>
<circle cx="115.9" cy="391.3" r="8.4" fill="none" stroke="#3c3c3c" stroke-width="0.8"/>
<line x1="115.9" y1="391.3" x2="122.2" y2="391.3" stroke="#111" stroke-width="0.7"/>
<line x1="115.9" y1="391.3" x2="123.51" y2="392.64" stroke="#111" stroke-width="0.7"/>
<line x1="115.9" y1="391.3" x2="121.82" y2="393.45" stroke="#111" stroke-width="0.7"/>
<line x1="115.9" y1="391.3" x2="122.59" y2="395.16" stroke="#111" stroke-width="0.7"/>
<line x1="115.9" y1="391.3" x2="120.73" y2="395.35" stroke="#111" stroke-width="0.7"/>
<line x1="115.9" y1="391.3" x2="120.87" y2="397.22" stroke="#111" stroke-width="0.7"/>
<line x1="115.9" y1="391.3" x2="119.05" y2="396.76" stroke="#111" stroke-width="0.7"/>
<line x1="115.9" y1="391.3" x2="118.54" y2="398.56" stroke="#111" stroke-width="0.7"/>
<line x1="115.9" y1="391.3" x2="116.99" y2="397.5" stroke="#111" stroke-width="0.7"/>
<line x1="115.9" y1="391.3" x2="115.9" y2="399.03" stroke="#111" stroke-width="0.7"/>
<line x1="115.9" y1="391.3" x2="114.81" y2="397.5" stroke="#111" stroke-width="0.7"/>
<line x1="115.9" y1="391.3" x2="113.26" y2="398.56" stroke="#111" stroke-width="0.7"/>
<line x1="115.9" y1="391.3" x2="112.75" y2="396.76" stroke="#111" stroke-width="0.7"/>
<line x1="115.9" y1="391.3" x2="110.93" y2="397.22" stroke="#111" stroke-width="0.7"/>
<line x1="115.9" y1="391.3" x2="111.07" y2="395.35" stroke="#111" stroke-width="0.7"/>
<line x1="115.9" y1="391.3" x2="109.21" y2="395.16" stroke="#111" stroke-width="0.7"/>
<line x1="115.9" y1="391.3" x2="109.98" y2="393.45" stroke="#111" stroke-width="0.7"/>
<line x1="115.9" y1="391.3" x2="108.29" y2="392.64" stroke="#111" stroke-width="0.7"/>
<line x1="115.9" y1="391.3" x2="109.6" y2="391.3" stroke="#111" stroke-width="0.7"/>
<line x1="115.9" y1="391.3" x2="108.29" y2="389.96" stroke="#111" stroke-width="0.7"/>
<line x1="115.9" y1="391.3" x2="109.98" y2="389.15" stroke="#111" stroke-width="0.7"/>
<line x1="115.9" y1="391.3" x2="109.21" y2="387.44" stroke="#111" stroke-width="0.7"/>
<line x1="115.9" y1="391.3" x2="111.07" y2="387.25" stroke="#111" stroke-width="0.7"/>
<line x1="115.9" y1="391.3" x2="110.93" y2="385.38" stroke="#111" stroke-width="0.7"/>
<line x1="115.9" y1="391.3" x2="112.75" y2="385.84" stroke="#111" stroke-width="0.7"/>
<line x1="115.9" y1="391.3" x2="113.26" y2="384.04" stroke="#111" stroke-width="0.7"/>
<line x1="115.9" y1="391.3" x2="114.81" y2="385.1" stroke="#111" stroke-width="0.7"/>
<line x1="115.9" y1="391.3" x2="115.9" y2="383.57" stroke="#111" stroke-width="0.7"/>
<line x1="115.9" y1="391.3" x2="116.99" y2="385.1" stroke="#111" stroke-width="0.7"/>
<line x1="115.9" y1="391.3" x2="118.54" y2="384.04" stroke="#111" stroke-width="0.7"/>
<line x1="115.9" y1="391.3" x2="119.05" y2="385.84" stroke="#111" stroke-width="0.7"/>
<line x1="115.9" y1="391.3" x2="120.87" y2="385.38" stroke="#111" stroke-width="0.7"/>
<line x1="115.9" y1="391.3" x2="120.73" y2="387.25" stroke="#111" stroke-width="0.7"/>
<line x1="115.9" y1="391.3" x2="122.59" y2="387.44" stroke="#111" stroke-width="0.7"/>
<line x1="115.9" y1="391.3" x2="121.82" y2="389.15" stroke="#111" stroke-width="0.7"/>
<line x1="115.9" y1="391.3" x2="123.51" y2="389.96" stroke="#111" stroke-width="0.7"/>
<circle cx="115.9" cy="391.3" r="2.52" fill="#111" stroke="#111" stroke-width="0.6"/>
<circle cx="127" cy="333.6" r="4.7" fill="none" stroke="#222" stroke-width="1.1"/>
<line x1="124.89" y1="331.49" x2="129.12" y2="335.72" stroke="#3c3c3c" stroke-width="0.7"/>
<line x1="124.89" y1="335.72" x2="129.12" y2="331.49" stroke="#3c3c3c" stroke-width="0.7"/>
<circle cx="140" cy="354.3" r="4.7" fill="none" stroke="#222" stroke-width="1.1"/>
<line x1="137.88" y1="352.19" x2="142.12" y2="356.42" stroke="#3c3c3c" stroke-width="0.7"/>
<line x1="137.88" y1="356.42" x2="142.12" y2="352.19" stroke="#3c3c3c" stroke-width="0.7"/>
<circle cx="126.3" cy="375" r="4.7" fill="none" stroke="#222" stroke-width="1.1"/>
<line x1="124.19" y1="372.88" x2="128.41" y2="377.12" stroke="#3c3c3c" stroke-width="0.7"/>
<line x1="124.19" y1="377.12" x2="128.41" y2="372.88" stroke="#3c3c3c" stroke-width="0.7"/>
<line x1="117.5" y1="202" x2="151" y2="202" stroke="#3c3c3c" stroke-width="0.8"/>
<line x1="118.8" y1="204.6" x2="124" y2="199.4" stroke="#222" stroke-width="0.9"/>
<line x1="144.8" y1="204.6" x2="150" y2="199.4" stroke="#222" stroke-width="0.9"/>
<line x1="121.4" y1="199.3" x2="121.4" y2="212.5" stroke="#3c3c3c" stroke-width="0.7"/>
<line x1="147.4" y1="199.3" x2="147.4" y2="222.6" stroke="#3c3c3c" stroke-width="0.7"/>
<text x="134.3" y="201.2" font-size="8.6" text-anchor="middle" font-family='"Liberation Sans",sans-serif' fill="#333" font-weight="400" >1100</text>
<line x1="126.5" y1="213.4" x2="151" y2="213.4" stroke="#3c3c3c" stroke-width="0.8"/>
<line x1="127.6" y1="216" x2="132.8" y2="210.8" stroke="#222" stroke-width="0.9"/>
<line x1="144.8" y1="216" x2="150" y2="210.8" stroke="#222" stroke-width="0.9"/>
<line x1="130.2" y1="210.4" x2="130.2" y2="225" stroke="#3c3c3c" stroke-width="0.7"/>
<text x="138.8" y="212.2" font-size="6.6" text-anchor="middle" font-family='"Liberation Sans",sans-serif' fill="#333" font-weight="400" >700</text>
<line x1="159.6" y1="252.2" x2="159.6" y2="273.6" stroke="#3c3c3c" stroke-width="0.8"/>
<line x1="157" y1="257.8" x2="162.2" y2="252.6" stroke="#222" stroke-width="0.9"/>
<line x1="157" y1="273.2" x2="162.2" y2="268" stroke="#222" stroke-width="0.9"/>
<line x1="149.6" y1="255.2" x2="161.6" y2="255.2" stroke="#3c3c3c" stroke-width="0.7"/>
<line x1="149.6" y1="270.6" x2="161.6" y2="270.6" stroke="#3c3c3c" stroke-width="0.7"/>
<text x="158.0" y="262.9" font-size="7.3" text-anchor="middle" font-family='"Liberation Sans",sans-serif' fill="#333" transform="rotate(-90 158.0 262.9)">600</text>
<line x1="160.2" y1="299.4" x2="160.2" y2="324.5" stroke="#3c3c3c" stroke-width="0.8"/>
<line x1="157.6" y1="305" x2="162.8" y2="299.8" stroke="#222" stroke-width="0.9"/>
<line x1="157.6" y1="324.1" x2="162.8" y2="318.9" stroke="#222" stroke-width="0.9"/>
<line x1="150.2" y1="302.4" x2="162.2" y2="302.4" stroke="#3c3c3c" stroke-width="0.7"/>
<line x1="150.2" y1="321.5" x2="162.2" y2="321.5" stroke="#3c3c3c" stroke-width="0.7"/>
<text x="158.6" y="311.95" font-size="7.3" text-anchor="middle" font-family='"Liberation Sans",sans-serif' fill="#333" transform="rotate(-90 158.6 311.95)">600</text>
<line x1="160.2" y1="318.5" x2="160.2" y2="343.4" stroke="#3c3c3c" stroke-width="0.8"/>
<line x1="157.6" y1="324.1" x2="162.8" y2="318.9" stroke="#222" stroke-width="0.9"/>
<line x1="157.6" y1="343" x2="162.8" y2="337.8" stroke="#222" stroke-width="0.9"/>
<line x1="150.2" y1="321.5" x2="162.2" y2="321.5" stroke="#3c3c3c" stroke-width="0.7"/>
<line x1="150.2" y1="340.4" x2="162.2" y2="340.4" stroke="#3c3c3c" stroke-width="0.7"/>
<text x="158.6" y="330.95" font-size="7.3" text-anchor="middle" font-family='"Liberation Sans",sans-serif' fill="#333" transform="rotate(-90 158.6 330.95)">800</text>
<line x1="160.2" y1="384.3" x2="160.2" y2="410.3" stroke="#3c3c3c" stroke-width="0.8"/>
<line x1="157.6" y1="389.9" x2="162.8" y2="384.7" stroke="#222" stroke-width="0.9"/>
<line x1="157.6" y1="409.9" x2="162.8" y2="404.7" stroke="#222" stroke-width="0.9"/>
<line x1="150.2" y1="387.3" x2="162.2" y2="387.3" stroke="#3c3c3c" stroke-width="0.7"/>
<line x1="150.2" y1="407.3" x2="162.2" y2="407.3" stroke="#3c3c3c" stroke-width="0.7"/>
<text x="158.6" y="397.3" font-size="7.3" text-anchor="middle" font-family='"Liberation Sans",sans-serif' fill="#333" transform="rotate(-90 158.6 397.3)">600</text>
<line x1="128" y1="422" x2="152" y2="422" stroke="#3c3c3c" stroke-width="0.8"/>
<line x1="128.7" y1="424.6" x2="133.9" y2="419.4" stroke="#222" stroke-width="0.9"/>
<line x1="145.7" y1="424.6" x2="150.9" y2="419.4" stroke="#222" stroke-width="0.9"/>
<line x1="131.3" y1="418" x2="131.3" y2="425" stroke="#3c3c3c" stroke-width="0.7"/>
<line x1="148.3" y1="418" x2="148.3" y2="425" stroke="#3c3c3c" stroke-width="0.7"/>
<text x="139.8" y="421" font-size="6.8" text-anchor="middle" font-family='"Liberation Sans",sans-serif' fill="#333" font-weight="400" >650</text>
<text x="32" y="227.1" font-size="9" text-anchor="start" font-family='"Liberation Serif","Noto Serif CJK SC",serif' fill="#222" font-weight="400" >七彩大红花</text>
<line x1="31" y1="228.3" x2="125" y2="228.3" stroke="#3c3c3c" stroke-width="0.85"/>
<text x="32" y="244.3" font-size="9" text-anchor="start" font-family='"Liberation Serif","Noto Serif CJK SC",serif' fill="#222" font-weight="400" >花叶勒杜鹃球</text>
<line x1="31" y1="245.5" x2="131" y2="245.5" stroke="#3c3c3c" stroke-width="0.85"/>
<text x="32" y="255.8" font-size="9" text-anchor="start" font-family='"Liberation Serif","Noto Serif CJK SC",serif' fill="#222" font-weight="400" >大叶蚌兰</text>
<line x1="31" y1="257" x2="122.5" y2="257" stroke="#3c3c3c" stroke-width="0.85"/>
<text x="32" y="268.8" font-size="9" text-anchor="start" font-family='"Liberation Serif","Noto Serif CJK SC",serif' fill="#222" font-weight="400" >金边龙舌兰</text>
<line x1="31" y1="270" x2="112.5" y2="270" stroke="#3c3c3c" stroke-width="0.85"/>
<line x1="112.5" y1="270" x2="125" y2="263.8" stroke="#3c3c3c" stroke-width="0.85"/>
<text x="32" y="285.1" font-size="9" text-anchor="start" font-family='"Liberation Serif","Noto Serif CJK SC",serif' fill="#222" font-weight="400" >白蝉</text>
<line x1="31" y1="286.3" x2="128.8" y2="286.3" stroke="#3c3c3c" stroke-width="0.85"/>
<text x="32" y="303.1" font-size="9" text-anchor="start" font-family='"Liberation Serif","Noto Serif CJK SC",serif' fill="#222" font-weight="400" >黄金叶</text>
<line x1="31" y1="304.3" x2="135" y2="304.3" stroke="#3c3c3c" stroke-width="0.85"/>
<text x="32" y="317.6" font-size="9" text-anchor="start" font-family='"Liberation Serif","Noto Serif CJK SC",serif' fill="#222" font-weight="400" >四季桂花</text>
<line x1="31" y1="318.8" x2="108" y2="318.8" stroke="#3c3c3c" stroke-width="0.85"/>
<text x="32" y="332.6" font-size="9" text-anchor="start" font-family='"Liberation Serif","Noto Serif CJK SC",serif' fill="#222" font-weight="400" >花叶女贞</text>
<line x1="31" y1="333.8" x2="122.5" y2="333.8" stroke="#3c3c3c" stroke-width="0.85"/>
<text x="32" y="348.8" font-size="9" text-anchor="start" font-family='"Liberation Serif","Noto Serif CJK SC",serif' fill="#222" font-weight="400" >宫粉龙船花</text>
<line x1="31" y1="350" x2="135" y2="350" stroke="#3c3c3c" stroke-width="0.85"/>
<text x="32" y="372.6" font-size="9" text-anchor="start" font-family='"Liberation Serif","Noto Serif CJK SC",serif' fill="#222" font-weight="400" >大叶红草</text>
<line x1="31" y1="373.8" x2="115" y2="373.8" stroke="#3c3c3c" stroke-width="0.85"/>
<path d="M693 90.2 L727 90.2 L727 369 L693 369 Z" fill="none" stroke="#333" stroke-width="0.9"/>
<text x="710" y="112.6" font-size="15" text-anchor="middle" font-family='"Liberation Sans","Noto Sans CJK SC",sans-serif' font-weight="900" fill="#fff" stroke="#222" stroke-width="2" paint-order="stroke" stroke-linejoin="round">别</text>
<text x="710" y="135.1" font-size="15" text-anchor="middle" font-family='"Liberation Sans","Noto Sans CJK SC",sans-serif' font-weight="900" fill="#fff" stroke="#222" stroke-width="2" paint-order="stroke" stroke-linejoin="round">墅</text>
<text x="710" y="157.6" font-size="15" text-anchor="middle" font-family='"Liberation Sans","Noto Sans CJK SC",sans-serif' font-weight="900" fill="#fff" stroke="#222" stroke-width="2" paint-order="stroke" stroke-linejoin="round">小</text>
<text x="710" y="180.1" font-size="15" text-anchor="middle" font-family='"Liberation Sans","Noto Sans CJK SC",sans-serif' font-weight="900" fill="#fff" stroke="#222" stroke-width="2" paint-order="stroke" stroke-linejoin="round">花</text>
<text x="710" y="202.6" font-size="15" text-anchor="middle" font-family='"Liberation Sans","Noto Sans CJK SC",sans-serif' font-weight="900" fill="#fff" stroke="#222" stroke-width="2" paint-order="stroke" stroke-linejoin="round">园</text>
<text x="710" y="225.1" font-size="15" text-anchor="middle" font-family='"Liberation Sans","Noto Sans CJK SC",sans-serif' font-weight="900" fill="#fff" stroke="#222" stroke-width="2" paint-order="stroke" stroke-linejoin="round">绿</text>
<text x="710" y="247.6" font-size="15" text-anchor="middle" font-family='"Liberation Sans","Noto Sans CJK SC",sans-serif' font-weight="900" fill="#fff" stroke="#222" stroke-width="2" paint-order="stroke" stroke-linejoin="round">化</text>
<text x="710" y="270.1" font-size="15" text-anchor="middle" font-family='"Liberation Sans","Noto Sans CJK SC",sans-serif' font-weight="900" fill="#fff" stroke="#222" stroke-width="2" paint-order="stroke" stroke-linejoin="round">设</text>
<text x="710" y="292.6" font-size="15" text-anchor="middle" font-family='"Liberation Sans","Noto Sans CJK SC",sans-serif' font-weight="900" fill="#fff" stroke="#222" stroke-width="2" paint-order="stroke" stroke-linejoin="round">计</text>
<text x="710" y="315.1" font-size="15" text-anchor="middle" font-family='"Liberation Sans","Noto Sans CJK SC",sans-serif' font-weight="900" fill="#fff" stroke="#222" stroke-width="2" paint-order="stroke" stroke-linejoin="round">平</text>
<text x="710" y="337.6" font-size="15" text-anchor="middle" font-family='"Liberation Sans","Noto Sans CJK SC",sans-serif' font-weight="900" fill="#fff" stroke="#222" stroke-width="2" paint-order="stroke" stroke-linejoin="round">面</text>
<text x="710" y="360.1" font-size="15" text-anchor="middle" font-family='"Liberation Sans","Noto Sans CJK SC",sans-serif' font-weight="900" fill="#fff" stroke="#222" stroke-width="2" paint-order="stroke" stroke-linejoin="round">图</text>
<text x="688" y="410.5" font-size="10.5" text-anchor="start" font-family='"Liberation Serif","Noto Serif CJK SC",serif' fill="#333" font-weight="400" >比例</text>
<text x="719" y="410.5" font-size="10.5" text-anchor="start" font-family='"Liberation Serif","Noto Serif CJK SC",serif' fill="#333" font-weight="400" letter-spacing="0.6">1：90</text>
</svg></body></html>
